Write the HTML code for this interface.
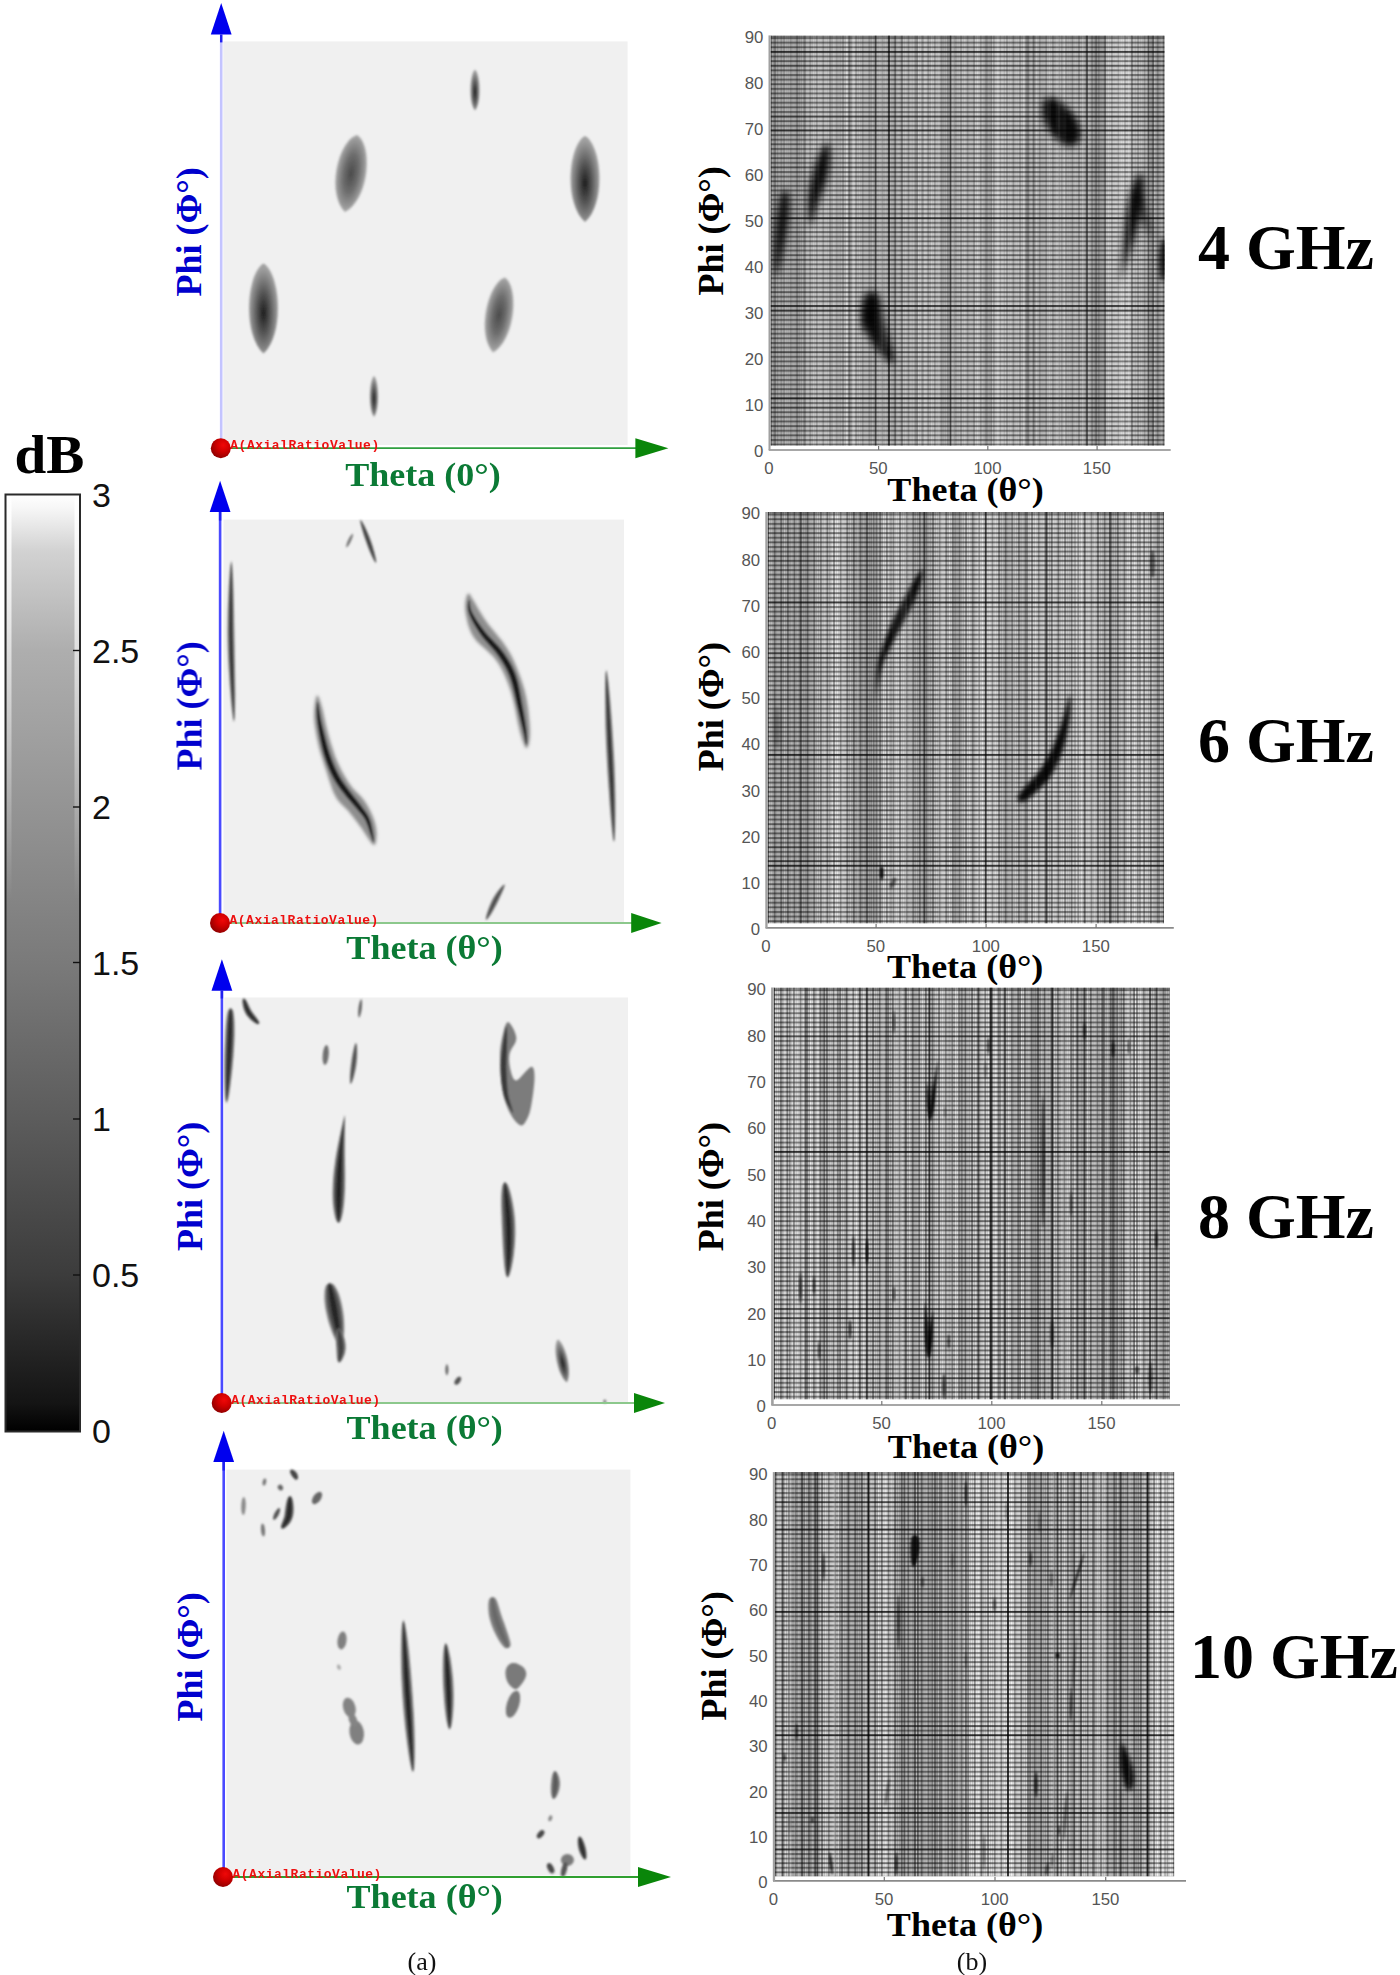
<!DOCTYPE html>
<html lang="en"><head><meta charset="utf-8"><title>Axial ratio maps</title>
<style>html,body{margin:0;padding:0;background:#fff}svg{display:block}.sb{font-family:"Liberation Serif",serif;font-weight:bold}.sr{font-family:"Liberation Serif",serif}.sa{font-family:"Liberation Sans",sans-serif}.mo{font-family:"Liberation Mono",monospace;font-weight:bold}</style></head><body>
<svg width="1400" height="1975" viewBox="0 0 1400 1975">
<defs>
<linearGradient id="cb" x1="0" y1="0" x2="0" y2="1"><stop offset="0" stop-color="#fff"/><stop offset="0.015" stop-color="#f6f6f6"/><stop offset="0.06" stop-color="#d2d2d2"/><stop offset="0.166" stop-color="#aeaeae"/><stop offset="0.333" stop-color="#949494"/><stop offset="0.5" stop-color="#7a7a7a"/><stop offset="0.666" stop-color="#5c5c5c"/><stop offset="0.833" stop-color="#3c3c3c"/><stop offset="0.97" stop-color="#141414"/><stop offset="1" stop-color="#000"/></linearGradient>
<radialGradient id="lensD" cx="0.5" cy="0.55" r="0.5"><stop offset="0" stop-color="#1c1c1c"/><stop offset="0.45" stop-color="#555"/><stop offset="1" stop-color="#a0a0a0"/></radialGradient>
<radialGradient id="lensL" cx="0.5" cy="0.5" r="0.5"><stop offset="0" stop-color="#4a4a4a"/><stop offset="0.5" stop-color="#6e6e6e"/><stop offset="1" stop-color="#a8a8a8"/></radialGradient>
<radialGradient id="dot" cx="0.62" cy="0.35" r="0.7"><stop offset="0" stop-color="#f00808"/><stop offset="0.45" stop-color="#d00000"/><stop offset="1" stop-color="#8c0000"/></radialGradient>
<filter id="b05" x="-20%" y="-20%" width="140%" height="140%"><feGaussianBlur stdDeviation="0.85"/></filter>
<filter id="b1" x="-30%" y="-30%" width="160%" height="160%"><feGaussianBlur stdDeviation="1.1"/></filter>
<filter id="b2" x="-50%" y="-50%" width="200%" height="200%"><feGaussianBlur stdDeviation="2.2"/></filter>
<filter id="b3" x="-50%" y="-50%" width="200%" height="200%"><feGaussianBlur stdDeviation="3.5"/></filter>
</defs>
<rect width="1400" height="1975" fill="#fff"/>
<text class="sb" transform="translate(14.5 472.5) scale(1.03 1)" font-size="55.5" fill="#000">dB</text>
<rect x="5.5" y="494.5" width="74.5" height="937" fill="url(#cb)"/>
<linearGradient id="cbm" gradientUnits="userSpaceOnUse" x1="0" y1="494" x2="0" y2="900"><stop offset="0" stop-color="#fff" stop-opacity="0.95"/><stop offset="0.5" stop-color="#fff" stop-opacity="0.5"/><stop offset="1" stop-color="#fff" stop-opacity="0"/></linearGradient>
<rect x="6.5" y="495" width="5" height="420" fill="url(#cbm)"/><rect x="74.5" y="495" width="4.5" height="420" fill="url(#cbm)"/>
<rect x="5.5" y="494.5" width="74.5" height="937" fill="none" stroke="#2a2a2a" stroke-width="2"/>
<text class="sa" x="92" y="507.2" font-size="34" fill="#111">3</text>
<line x1="73" y1="650.5" x2="80" y2="650.5" stroke="#111" stroke-width="1.4"/>
<text class="sa" x="92" y="662.7" font-size="34" fill="#111">2.5</text>
<line x1="73" y1="807" x2="80" y2="807" stroke="#111" stroke-width="1.4"/>
<text class="sa" x="92" y="819.2" font-size="34" fill="#111">2</text>
<line x1="73" y1="962.5" x2="80" y2="962.5" stroke="#111" stroke-width="1.4"/>
<text class="sa" x="92" y="974.7" font-size="34" fill="#111">1.5</text>
<line x1="73" y1="1119" x2="80" y2="1119" stroke="#111" stroke-width="1.4"/>
<text class="sa" x="92" y="1131.2" font-size="34" fill="#111">1</text>
<line x1="73" y1="1275" x2="80" y2="1275" stroke="#111" stroke-width="1.4"/>
<text class="sa" x="92" y="1287.2" font-size="34" fill="#111">0.5</text>
<text class="sa" x="92" y="1443.2" font-size="34" fill="#111">0</text>
<rect x="223.3" y="41.4" width="404.3" height="403.6" fill="#f0f0f0"/>
<g filter="url(#b05)"><path transform="translate(475 90) rotate(0)" d="M0 -20.5 C5.2 -16.4 6.9 11.3 0 20.5 C-6.9 11.3 -5.2 -16.4 0 -20.5Z" fill="url(#lensD)"/><path transform="translate(351 173.5) rotate(9)" d="M0 -39 C17.1 -31.2 22.5 21.5 0 39 C-22.5 21.5 -17.1 -31.2 0 -39Z" fill="url(#lensL)"/><path transform="translate(585 179) rotate(0)" d="M0 -43 C16.5 -34.4 21.8 23.7 0 43 C-21.8 23.7 -16.5 -34.4 0 -43Z" fill="url(#lensD)"/><path transform="translate(263.5 308.5) rotate(0)" d="M0 -45 C16.5 -36 21.8 24.8 0 45 C-21.8 24.8 -16.5 -36 0 -45Z" fill="url(#lensD)"/><path transform="translate(499 315) rotate(9)" d="M0 -38 C15.4 -30.4 20.3 20.9 0 38 C-20.3 20.9 -15.4 -30.4 0 -38Z" fill="url(#lensL)"/><path transform="translate(374 396.5) rotate(0)" d="M0 -20.5 C4.7 -16.4 6.2 11.3 0 20.5 C-6.2 11.3 -4.7 -16.4 0 -20.5Z" fill="url(#lensD)"/></g>
<line x1="221.2" y1="34.6" x2="221.2" y2="448.2" stroke="#c4c4ff" stroke-width="2.6"/>
<line x1="221.2" y1="34.6" x2="221.2" y2="42.4" stroke="#2020f0" stroke-width="2.4"/>
<path d="M221.2 2.9 L210.8 34.6 L231.6 34.6Z" fill="#0000ee"/>
<line x1="220.8" y1="448.2" x2="637.4" y2="448.2" stroke="#2f9f3f" stroke-width="1.8"/>
<path d="M668.4 448.2 L635.4 438.2 L635.4 458.2Z" fill="#0a860a"/>
<text class="mo" x="230.3" y="448.7" font-size="13" letter-spacing="0.5" fill="#ee1010">A(AxialRatioValue)</text>
<circle cx="220.8" cy="448.2" r="10" fill="url(#dot)"/>
<text class="sb" transform="translate(200.5 232) rotate(-90)" text-anchor="middle" font-size="36" fill="#0000cd">Phi (Φ°)</text>
<text class="sb" transform="translate(423 485.7) scale(1.045 1)" text-anchor="middle" font-size="34.5" fill="#0b7a35">Theta (0°)</text>
<rect x="223.5" y="519.6" width="400.5" height="403.4" fill="#f0f0f0"/>
<g filter="url(#b05)"><path d="M231.3 561 L230.3 565.7 L229.7 571.7 L229.2 578.8 L228.7 586.7 L228.3 595.4 L227.9 604.4 L227.6 613.6 L227.5 622.8 L227.4 631.7 L227.5 640.1 L227.7 648.5 L228 657.6 L228.5 667.1 L229.1 676.6 L229.7 686 L230.5 695.1 L231.2 703.4 L232 710.9 L232.8 717.1 L234 722 L234 722 L234.8 717.1 L235 710.7 L235.2 703.2 L235.3 694.9 L235.2 685.8 L235.1 676.4 L235 666.8 L234.8 657.4 L234.7 648.4 L234.5 639.9 L234.4 631.6 L234.2 622.7 L234.1 613.6 L233.9 604.4 L233.7 595.4 L233.4 586.8 L233.1 578.8 L232.7 571.7 L232.2 565.7 L231.3 561Z" fill="#8a8a8a"/><path d="M231.3 561 L230.8 565.7 L230.4 571.7 L229.9 578.8 L229.6 586.8 L229.2 595.4 L228.9 604.4 L228.7 613.6 L228.6 622.7 L228.5 631.6 L228.6 640 L228.8 648.5 L229.1 657.6 L229.6 667 L230.1 676.6 L230.7 686 L231.3 695 L232 703.4 L232.7 710.8 L233.3 717.1 L234 722 L234 722 L234.3 717.1 L234.4 710.8 L234.4 703.3 L234.4 694.9 L234.3 685.9 L234.1 676.4 L233.9 666.9 L233.7 657.4 L233.5 648.4 L233.4 640 L233.2 631.6 L233.1 622.7 L233 613.6 L232.9 604.4 L232.7 595.4 L232.5 586.8 L232.3 578.8 L232.1 571.7 L231.8 565.7 L231.3 561Z" fill="#2a2a2a" opacity="0.55"/><path d="M231.3 561 L231.1 565.7 L230.9 571.7 L230.7 578.8 L230.4 586.8 L230.2 595.4 L230 604.4 L229.9 613.6 L229.8 622.7 L229.8 631.6 L229.9 640 L230.1 648.5 L230.4 657.6 L230.7 667 L231.2 676.6 L231.7 686 L232.2 695 L232.7 703.4 L233.2 710.8 L233.6 717.1 L234 722 L234 722 L234 717.1 L233.9 710.8 L233.7 703.3 L233.5 694.9 L233.3 685.9 L233 676.5 L232.8 666.9 L232.5 657.5 L232.3 648.4 L232.1 640 L232 631.6 L231.9 622.7 L231.8 613.6 L231.8 604.4 L231.7 595.4 L231.7 586.8 L231.6 578.8 L231.5 571.7 L231.4 565.7 L231.3 561Z" fill="#2a2a2a" opacity="0.9"/><path d="M346.3 547.5 L347.7 546.4 L348.6 545.2 L349.5 543.9 L350.2 542.6 L350.9 541.2 L351.5 539.8 L352.1 538.3 L352.5 536.9 L352.9 535.3 L352.8 533.6 L352.8 533.6 L351.4 534.7 L350.5 535.9 L349.6 537.2 L348.9 538.5 L348.2 539.9 L347.6 541.3 L347 542.8 L346.6 544.2 L346.2 545.8 L346.3 547.5Z" fill="#777"/><path d="M360.5 520 L360.3 521.4 L360.6 523 L360.9 524.9 L361.4 527 L362 529.2 L362.7 531.6 L363.4 533.9 L364.1 536.3 L364.9 538.6 L365.7 540.8 L366.5 543.1 L367.4 545.6 L368.4 548.2 L369.4 550.8 L370.6 553.4 L371.7 555.9 L372.8 558.2 L373.9 560.2 L374.9 561.8 L376 563 L376 563 L376.2 561.4 L376 559.5 L375.6 557.2 L375 554.7 L374.4 552.1 L373.6 549.4 L372.9 546.6 L372 544 L371.2 541.4 L370.3 539.2 L369.5 536.9 L368.6 534.7 L367.6 532.4 L366.5 530.1 L365.5 527.9 L364.5 525.8 L363.4 524 L362.5 522.3 L361.6 520.9 L360.5 520Z" fill="#777"/><path d="M360.5 520 L360.6 521.3 L361 522.9 L361.4 524.7 L362 526.8 L362.6 529 L363.3 531.3 L364.1 533.7 L364.9 536 L365.6 538.4 L366.4 540.6 L367.2 542.9 L368.1 545.3 L369.1 547.9 L370.2 550.6 L371.2 553.2 L372.3 555.7 L373.3 558 L374.3 560 L375.2 561.7 L376 563 L376 563 L375.9 561.5 L375.5 559.6 L375 557.4 L374.4 554.9 L373.7 552.3 L372.9 549.6 L372.1 546.9 L371.3 544.2 L370.4 541.7 L369.6 539.4 L368.8 537.2 L367.8 534.9 L366.9 532.6 L365.9 530.3 L364.9 528.1 L363.9 526.1 L362.9 524.1 L362.1 522.5 L361.3 521.1 L360.5 520Z" fill="#333" opacity="0.55"/><path d="M360.5 520 L360.8 521.2 L361.3 522.7 L361.9 524.5 L362.5 526.6 L363.3 528.7 L364 531 L364.8 533.4 L365.7 535.7 L366.5 538.1 L367.3 540.3 L368.1 542.5 L369 545 L369.9 547.6 L370.9 550.3 L371.9 552.9 L372.9 555.5 L373.8 557.8 L374.7 559.9 L375.4 561.7 L376 563 L376 563 L375.6 561.6 L375.1 559.7 L374.5 557.6 L373.8 555.2 L373 552.6 L372.2 549.9 L371.3 547.2 L370.4 544.5 L369.6 542 L368.7 539.7 L367.9 537.5 L367 535.2 L366.1 532.9 L365.2 530.6 L364.2 528.4 L363.3 526.3 L362.5 524.3 L361.7 522.6 L361 521.1 L360.5 520Z" fill="#333" opacity="0.9"/><g filter="url(#b1)"><path d="M467.8 593.8 L468.5 593.4 L469.2 593.8 L470 594.8 L470.9 596.3 L472 598.2 L473.4 600.4 L475 602.9 L476.7 606 L478.6 609.4 L480.8 613.1 L483.1 616.8 L485.6 620.6 L488.5 624.5 L491.8 628.5 L495.3 632.8 L498.7 637 L502 641.1 L504.8 645 L507.1 648.6 L509.2 651.9 L511 655.1 L512.7 658.4 L514.3 662 L516 666 L517.8 670.5 L519.6 675.3 L521.5 680.4 L523.2 685.7 L524.7 691.1 L526 696.6 L527.1 702.4 L528.1 708.8 L528.8 715.2 L529.4 721.4 L529.8 727.2 L530 732 L529.9 736.2 L529.5 740 L529 743.3 L528.2 745.9 L527.4 747.6 L526.6 748.2 L525.7 747.7 L524.7 746.1 L523.7 743.6 L522.5 740.4 L521.3 736.5 L520 732 L518.7 726.5 L517.3 719.9 L515.9 712.6 L514.4 705.2 L512.7 698 L510.9 691.5 L508.9 685.8 L506.9 680.4 L504.7 675.2 L502.3 670.3 L499.7 665.6 L496.7 661 L493.2 656.6 L489 652.5 L484.7 648.6 L480.4 644.8 L476.5 640.9 L473.4 636.8 L471 632.4 L469.2 627.8 L467.7 623.2 L466.7 618.6 L465.9 614.4 L465.3 610.5 L465.1 606.9 L465.2 603.4 L465.7 600.1 L466.3 597.3 L467.1 595.1Z" fill="#8e8e8e"/></g><path d="M469 600 L468.5 600.7 L468.3 601.6 L468.1 602.6 L467.9 603.7 L467.7 605 L467.6 606.4 L467.7 608 L467.8 609.6 L468.2 611.4 L468.7 613.2 L469.4 615 L470.2 617 L471.1 619 L472.2 621.2 L473.3 623.4 L474.5 625.6 L475.9 627.8 L477.3 630.1 L478.7 632.3 L480.2 634.5 L481.8 636.7 L483.6 639 L485.4 641.1 L487.4 643.3 L489.3 645.5 L491.2 647.6 L493.1 649.7 L494.9 651.8 L496.5 653.9 L498 656 L499.4 658.1 L500.8 660.2 L502.1 662.2 L503.3 664.2 L504.5 666.3 L505.6 668.4 L506.7 670.5 L507.7 672.7 L508.7 675 L509.6 677.5 L510.5 680.1 L511.4 682.9 L512.2 685.8 L512.9 688.9 L513.7 692 L514.4 695.2 L515.1 698.3 L515.7 701.4 L516.4 704.4 L517.1 707.3 L517.8 710.1 L518.5 712.9 L519.1 715.6 L519.8 718.3 L520.4 720.9 L521 723.5 L521.6 725.9 L522.2 728.2 L522.7 730.3 L523.1 732.3 L523.6 734.1 L523.9 735.8 L524.3 737.4 L524.6 738.9 L524.8 740.2 L525.1 741.4 L525.4 742.5 L525.6 743.5 L525.9 744.3 L526.5 745 L526.5 745 L526.9 744.2 L527.1 743.4 L527.2 742.4 L527.2 741.2 L527.3 740 L527.3 738.6 L527.2 737 L527.2 735.4 L527 733.6 L526.9 731.7 L526.6 729.6 L526.4 727.4 L526 725.1 L525.7 722.6 L525.3 720 L524.9 717.3 L524.4 714.5 L523.9 711.7 L523.4 708.9 L522.9 706.1 L522.4 703.2 L521.8 700.2 L521.3 697.1 L520.7 693.9 L520.1 690.6 L519.5 687.4 L518.8 684.2 L518 681 L517.1 678 L516.2 675.1 L515.2 672.4 L514.1 669.9 L513 667.5 L511.8 665.1 L510.6 662.9 L509.3 660.7 L508 658.5 L506.6 656.4 L505.1 654.2 L503.6 652 L501.9 649.7 L500 647.5 L498.1 645.3 L496 643.2 L494 641.1 L492 639 L490 637 L488.2 635 L486.4 633 L484.8 631.1 L483.3 629.1 L481.8 627 L480.3 625 L478.9 622.9 L477.5 620.9 L476.2 618.9 L475 616.9 L473.9 615.1 L472.9 613.4 L472.1 611.8 L471.5 610.4 L471 609 L470.6 607.6 L470.4 606.2 L470.2 605 L470 603.7 L469.9 602.6 L469.8 601.6 L469.5 600.7 L469 600Z" fill="#555"/><path d="M469 600 L468.8 600.7 L468.6 601.6 L468.4 602.6 L468.3 603.7 L468.2 605 L468.1 606.4 L468.2 607.9 L468.3 609.5 L468.7 611.2 L469.2 613 L469.9 614.8 L470.7 616.7 L471.6 618.7 L472.7 620.9 L473.9 623 L475.1 625.2 L476.4 627.5 L477.8 629.7 L479.2 631.9 L480.7 634.1 L482.3 636.3 L484.1 638.5 L485.9 640.7 L487.9 642.9 L489.8 645 L491.7 647.1 L493.6 649.3 L495.4 651.4 L497.1 653.5 L498.6 655.6 L500 657.7 L501.4 659.8 L502.7 661.8 L503.9 663.9 L505.1 665.9 L506.2 668 L507.3 670.2 L508.3 672.4 L509.3 674.8 L510.3 677.2 L511.2 679.9 L512 682.7 L512.8 685.6 L513.6 688.7 L514.3 691.9 L515 695 L515.7 698.2 L516.4 701.3 L517.1 704.3 L517.8 707.2 L518.4 710 L519.1 712.7 L519.8 715.5 L520.4 718.2 L521 720.8 L521.6 723.3 L522.2 725.8 L522.8 728.1 L523.2 730.2 L523.7 732.2 L524.1 734 L524.5 735.7 L524.8 737.3 L525 738.8 L525.3 740.2 L525.5 741.4 L525.7 742.5 L525.9 743.5 L526.2 744.3 L526.5 745 L526.5 745 L526.7 744.3 L526.8 743.4 L526.8 742.4 L526.8 741.3 L526.8 740 L526.8 738.6 L526.7 737.1 L526.6 735.4 L526.5 733.7 L526.3 731.8 L526.1 729.7 L525.8 727.5 L525.4 725.2 L525.1 722.7 L524.7 720.1 L524.2 717.4 L523.8 714.6 L523.3 711.8 L522.8 709 L522.2 706.2 L521.7 703.4 L521.2 700.3 L520.6 697.2 L520.1 694 L519.4 690.8 L518.8 687.5 L518.1 684.3 L517.3 681.2 L516.4 678.2 L515.5 675.4 L514.5 672.7 L513.5 670.2 L512.4 667.8 L511.2 665.5 L510 663.2 L508.7 661 L507.4 658.9 L506 656.7 L504.6 654.6 L503 652.4 L501.3 650.2 L499.5 648 L497.5 645.8 L495.5 643.6 L493.5 641.5 L491.5 639.5 L489.5 637.4 L487.6 635.4 L485.9 633.4 L484.3 631.5 L482.7 629.5 L481.2 627.4 L479.7 625.3 L478.3 623.2 L476.9 621.2 L475.6 619.2 L474.5 617.2 L473.4 615.4 L472.4 613.6 L471.6 612 L471 610.5 L470.5 609.1 L470.1 607.6 L469.9 606.3 L469.7 605 L469.6 603.7 L469.5 602.6 L469.4 601.6 L469.3 600.7 L469 600Z" fill="#111" opacity="0.55"/><path d="M469 600 L469 600.7 L468.9 601.6 L468.8 602.6 L468.7 603.7 L468.6 605 L468.6 606.4 L468.7 607.8 L469 609.4 L469.3 611 L469.9 612.7 L470.6 614.5 L471.4 616.4 L472.4 618.3 L473.5 620.4 L474.6 622.6 L475.9 624.7 L477.2 626.9 L478.6 629.1 L480.1 631.3 L481.6 633.5 L483.2 635.6 L484.9 637.8 L486.8 639.9 L488.7 642.1 L490.7 644.2 L492.6 646.3 L494.5 648.5 L496.3 650.6 L498 652.7 L499.6 654.9 L501 657 L502.4 659.1 L503.7 661.2 L505 663.2 L506.2 665.3 L507.4 667.5 L508.4 669.6 L509.5 671.9 L510.5 674.3 L511.5 676.8 L512.4 679.5 L513.2 682.3 L514 685.3 L514.8 688.4 L515.5 691.6 L516.2 694.8 L516.9 698 L517.5 701.1 L518.2 704.1 L518.8 706.9 L519.5 709.7 L520.1 712.5 L520.8 715.3 L521.4 718 L522 720.6 L522.5 723.2 L523.1 725.6 L523.6 727.9 L524 730.1 L524.4 732.1 L524.8 733.9 L525.1 735.7 L525.3 737.3 L525.6 738.7 L525.8 740.1 L525.9 741.3 L526.1 742.5 L526.2 743.4 L526.3 744.3 L526.5 745 L526.5 745 L526.5 744.3 L526.5 743.4 L526.5 742.4 L526.4 741.3 L526.4 740.1 L526.3 738.7 L526.2 737.2 L526 735.5 L525.8 733.8 L525.6 731.9 L525.3 729.9 L525 727.7 L524.6 725.3 L524.2 722.9 L523.7 720.3 L523.3 717.6 L522.8 714.8 L522.3 712.1 L521.7 709.3 L521.2 706.5 L520.6 703.6 L520.1 700.6 L519.5 697.4 L518.9 694.2 L518.3 691 L517.6 687.8 L516.9 684.6 L516.1 681.5 L515.3 678.6 L514.3 675.8 L513.3 673.2 L512.3 670.7 L511.2 668.3 L510.1 666 L508.9 663.8 L507.6 661.7 L506.3 659.5 L505 657.4 L503.5 655.3 L502 653.1 L500.4 650.9 L498.5 648.7 L496.6 646.6 L494.7 644.5 L492.6 642.3 L490.6 640.3 L488.7 638.2 L486.8 636.2 L485 634.1 L483.4 632.1 L481.9 630.1 L480.4 628 L478.9 625.9 L477.5 623.7 L476.1 621.7 L474.9 619.6 L473.7 617.6 L472.7 615.7 L471.7 613.9 L470.9 612.3 L470.3 610.7 L469.9 609.2 L469.6 607.7 L469.4 606.3 L469.2 605 L469.2 603.7 L469.2 602.6 L469.2 601.6 L469.1 600.7 L469 600Z" fill="#111" opacity="0.9"/><g filter="url(#b1)"><path d="M316.9 695.5 L317.6 695.4 L318.4 696.4 L319.2 698.4 L320 701 L321 704.1 L321.9 707.3 L322.9 711 L323.8 715.3 L324.8 720 L325.9 725 L327.1 730 L328.3 734.7 L329.6 739.3 L331 744 L332.5 748.6 L334 753.2 L335.6 757.7 L337.4 762 L339.3 766.1 L341.3 770.2 L343.4 774.1 L345.6 777.8 L347.8 781.4 L350.1 784.8 L352.5 787.9 L355 790.7 L357.6 793.3 L360.2 795.8 L362.6 798.4 L364.7 801.2 L366.6 804.2 L368.4 807.2 L370 810.4 L371.4 813.5 L372.7 816.5 L373.8 819.4 L374.7 822.2 L375.4 825 L376 827.7 L376.3 830.2 L376.6 832.7 L376.6 834.9 L376.5 837.2 L376.3 839.7 L375.9 842 L375.4 843.8 L374.5 844.9 L373.4 844.9 L371.9 843.6 L370 841.1 L367.8 837.8 L365.5 834.2 L363.2 830.7 L361.1 827.6 L359.1 824.9 L357.2 822.3 L355.2 819.7 L353.3 817.2 L351.3 814.7 L349.2 812.1 L347 809.6 L344.6 807.3 L342.2 805 L339.9 802.5 L337.6 799.8 L335.6 796.6 L333.8 792.9 L332.2 788.9 L330.7 784.6 L329.2 780.1 L327.8 775.6 L326.4 771.1 L324.9 766.7 L323.4 762.1 L322 757.6 L320.6 753 L319.3 748.4 L318.2 743.8 L317.2 739.2 L316.3 734.4 L315.5 729.7 L314.8 725.1 L314.3 720.6 L314.1 716.4 L314.1 712.2 L314.4 707.7 L314.9 703.5 L315.5 699.8 L316.2 697Z" fill="#8e8e8e"/></g><path d="M317.5 702 L317 703.1 L316.7 704.4 L316.6 705.9 L316.5 707.7 L316.4 709.6 L316.4 711.7 L316.4 713.9 L316.5 716.3 L316.7 718.8 L317 721.4 L317.3 724.1 L317.8 727.2 L318.3 730.4 L318.9 733.8 L319.5 737.3 L320.2 740.9 L320.9 744.3 L321.7 747.7 L322.5 750.9 L323.2 753.8 L324.1 756.6 L324.9 759.2 L325.8 761.8 L326.7 764.2 L327.6 766.6 L328.5 768.9 L329.5 771.1 L330.5 773.2 L331.5 775.3 L332.5 777.3 L333.6 779.3 L334.6 781.2 L335.7 783 L336.9 784.7 L338 786.3 L339.1 787.9 L340.3 789.4 L341.4 790.9 L342.6 792.5 L343.8 794 L345.1 795.7 L346.4 797.3 L347.8 798.9 L349.2 800.6 L350.6 802.1 L351.9 803.7 L353.3 805.2 L354.5 806.7 L355.7 808.1 L356.8 809.4 L357.9 810.7 L358.9 811.9 L359.9 813.1 L360.8 814.1 L361.6 815.1 L362.4 816.1 L363.1 817.1 L363.8 818.2 L364.5 819.3 L365.2 820.4 L365.8 821.7 L366.4 823.2 L367 824.7 L367.6 826.3 L368.2 828 L368.7 829.6 L369.2 831.2 L369.7 832.7 L370.1 834.1 L370.6 835.3 L371 836.3 L371.3 837.3 L371.6 838.1 L371.9 838.9 L372.1 839.6 L372.3 840.2 L372.6 840.8 L372.8 841.3 L373 841.7 L373.5 842 L373.5 842 L373.8 841.5 L373.9 841.1 L373.9 840.5 L374 839.9 L374 839.2 L373.9 838.5 L373.9 837.6 L373.8 836.7 L373.6 835.6 L373.4 834.5 L373.2 833.3 L373 831.9 L372.7 830.3 L372.4 828.7 L372.1 826.9 L371.7 825.1 L371.3 823.4 L370.8 821.6 L370.2 819.9 L369.6 818.4 L369 816.9 L368.3 815.6 L367.6 814.3 L366.8 813.1 L366 811.9 L365.2 810.7 L364.3 809.5 L363.4 808.4 L362.5 807.1 L361.6 805.8 L360.5 804.3 L359.3 802.8 L358.1 801.2 L356.8 799.6 L355.5 798 L354.2 796.4 L352.9 794.8 L351.6 793.1 L350.4 791.6 L349.2 790 L348.1 788.4 L346.9 786.8 L345.8 785.3 L344.7 783.8 L343.7 782.3 L342.6 780.8 L341.6 779.2 L340.6 777.6 L339.7 775.9 L338.7 774.1 L337.7 772.2 L336.8 770.2 L335.8 768.2 L334.9 766.1 L334 764 L333.1 761.7 L332.2 759.4 L331.3 757.1 L330.4 754.6 L329.6 752 L328.7 749.2 L327.8 746.1 L326.9 742.9 L326 739.5 L325.2 736.1 L324.3 732.7 L323.5 729.4 L322.7 726.2 L322 723.3 L321.4 720.6 L320.9 718.2 L320.5 715.8 L320.1 713.6 L319.7 711.4 L319.4 709.4 L319.1 707.5 L318.8 705.8 L318.5 704.3 L318.2 703 L317.5 702Z" fill="#555"/><path d="M317.5 702 L317.2 703.1 L317.1 704.4 L317 705.9 L316.9 707.7 L316.9 709.6 L316.9 711.6 L317 713.9 L317.1 716.2 L317.3 718.7 L317.6 721.3 L318 724 L318.4 727.1 L318.9 730.3 L319.5 733.7 L320.2 737.2 L320.9 740.7 L321.6 744.2 L322.3 747.5 L323.1 750.7 L323.9 753.6 L324.7 756.4 L325.6 759 L326.4 761.5 L327.3 764 L328.2 766.3 L329.2 768.6 L330.1 770.8 L331.1 772.9 L332.1 775 L333.1 777 L334.2 779 L335.2 780.8 L336.3 782.6 L337.4 784.3 L338.6 785.9 L339.7 787.5 L340.8 789 L342 790.5 L343.2 792 L344.4 793.6 L345.6 795.2 L346.9 796.9 L348.3 798.5 L349.7 800.1 L351.1 801.7 L352.5 803.3 L353.8 804.8 L355.1 806.2 L356.3 807.7 L357.4 809 L358.4 810.3 L359.5 811.5 L360.4 812.6 L361.3 813.7 L362.1 814.7 L362.9 815.8 L363.7 816.8 L364.4 817.8 L365.1 819 L365.7 820.2 L366.4 821.5 L367 823 L367.6 824.5 L368.2 826.2 L368.7 827.8 L369.2 829.5 L369.7 831.1 L370.2 832.6 L370.6 833.9 L371.1 835.1 L371.4 836.2 L371.7 837.2 L372 838 L372.3 838.8 L372.5 839.5 L372.7 840.2 L372.9 840.7 L373 841.2 L373.2 841.7 L373.5 842 L373.5 842 L373.6 841.6 L373.6 841.1 L373.6 840.6 L373.6 840 L373.6 839.3 L373.5 838.6 L373.4 837.7 L373.3 836.8 L373.1 835.8 L372.9 834.7 L372.7 833.4 L372.5 832 L372.2 830.4 L371.9 828.8 L371.5 827.1 L371.1 825.3 L370.7 823.6 L370.2 821.8 L369.7 820.2 L369.1 818.6 L368.4 817.2 L367.7 815.9 L367 814.6 L366.3 813.4 L365.5 812.3 L364.7 811.1 L363.8 810 L362.9 808.8 L362 807.5 L361 806.2 L359.9 804.7 L358.8 803.2 L357.5 801.7 L356.3 800.1 L354.9 798.5 L353.6 796.8 L352.3 795.2 L351 793.6 L349.8 792 L348.6 790.4 L347.5 788.8 L346.4 787.3 L345.3 785.7 L344.2 784.2 L343.1 782.7 L342.1 781.2 L341 779.6 L340 778 L339.1 776.2 L338.1 774.4 L337.1 772.5 L336.1 770.5 L335.2 768.5 L334.2 766.4 L333.3 764.2 L332.4 762 L331.5 759.7 L330.6 757.3 L329.7 754.8 L328.9 752.2 L328 749.3 L327.1 746.3 L326.3 743 L325.4 739.7 L324.5 736.2 L323.7 732.8 L322.9 729.5 L322.1 726.3 L321.4 723.4 L320.8 720.7 L320.3 718.3 L319.9 715.9 L319.5 713.6 L319.2 711.5 L318.9 709.4 L318.6 707.6 L318.4 705.9 L318.2 704.4 L317.9 703.1 L317.5 702Z" fill="#111" opacity="0.55"/><path d="M317.5 702 L317.5 703.1 L317.5 704.4 L317.5 705.9 L317.5 707.6 L317.5 709.5 L317.6 711.6 L317.7 713.8 L317.8 716.1 L318.1 718.6 L318.4 721.1 L318.8 723.9 L319.3 726.9 L319.9 730.1 L320.5 733.5 L321.2 737 L321.9 740.4 L322.7 743.9 L323.5 747.2 L324.3 750.4 L325.1 753.3 L325.9 756 L326.7 758.6 L327.6 761.1 L328.5 763.5 L329.4 765.8 L330.3 768.1 L331.3 770.3 L332.2 772.4 L333.2 774.4 L334.2 776.4 L335.3 778.3 L336.3 780.2 L337.4 781.9 L338.5 783.6 L339.6 785.2 L340.7 786.7 L341.8 788.3 L343 789.8 L344.1 791.3 L345.3 792.9 L346.6 794.5 L347.9 796.1 L349.2 797.7 L350.6 799.4 L352 800.9 L353.3 802.5 L354.7 804 L355.9 805.5 L357.1 807 L358.3 808.3 L359.3 809.6 L360.3 810.8 L361.2 812 L362.1 813.1 L363 814.1 L363.8 815.2 L364.5 816.2 L365.2 817.4 L365.9 818.5 L366.6 819.8 L367.2 821.2 L367.8 822.7 L368.4 824.3 L369 825.9 L369.5 827.6 L370 829.3 L370.4 830.9 L370.8 832.4 L371.2 833.8 L371.6 835 L371.9 836.1 L372.2 837 L372.5 837.9 L372.7 838.7 L372.8 839.5 L373 840.1 L373.1 840.7 L373.3 841.2 L373.4 841.6 L373.5 842 L373.5 842 L373.5 841.6 L373.4 841.2 L373.4 840.6 L373.3 840 L373.2 839.4 L373.1 838.6 L373 837.8 L372.8 836.9 L372.6 835.9 L372.4 834.8 L372.1 833.6 L371.8 832.2 L371.5 830.6 L371.1 829 L370.8 827.3 L370.3 825.5 L369.9 823.8 L369.4 822.1 L368.8 820.5 L368.2 819 L367.6 817.7 L366.9 816.4 L366.2 815.2 L365.4 814 L364.7 812.9 L363.8 811.8 L363 810.6 L362.1 809.4 L361.1 808.2 L360.1 806.9 L359.1 805.4 L357.9 803.9 L356.7 802.4 L355.4 800.8 L354 799.2 L352.7 797.6 L351.4 796 L350.1 794.3 L348.9 792.7 L347.7 791.1 L346.5 789.5 L345.4 788 L344.3 786.5 L343.2 785 L342.1 783.4 L341 781.9 L340 780.3 L339 778.6 L338 776.9 L337 775 L336 773 L335 771 L334 769 L333.1 766.9 L332.2 764.7 L331.2 762.4 L330.3 760.1 L329.5 757.7 L328.6 755.1 L327.7 752.5 L326.9 749.7 L326 746.6 L325.2 743.3 L324.3 739.9 L323.5 736.5 L322.6 733 L321.9 729.7 L321.2 726.5 L320.5 723.6 L320 720.9 L319.5 718.4 L319.1 716 L318.8 713.7 L318.5 711.5 L318.3 709.5 L318.1 707.6 L318 705.9 L317.8 704.4 L317.7 703.1 L317.5 702Z" fill="#111" opacity="0.9"/><path d="M606.2 670 L605.5 673.6 L605.3 678.2 L605.1 683.7 L605 689.8 L605 696.4 L605 703.2 L605.1 710.3 L605.2 717.2 L605.3 723.9 L605.5 730.2 L605.7 736.2 L605.9 742.3 L606.2 748.4 L606.5 754.6 L606.8 760.7 L607.2 766.8 L607.5 772.8 L607.9 778.7 L608.3 784.5 L608.7 790.1 L609.1 795.9 L609.5 801.9 L609.9 807.9 L610.4 814 L610.9 819.8 L611.5 825.4 L612 830.5 L612.5 835.1 L613.1 839 L614 842 L614 842 L614.7 838.9 L614.9 835 L615.2 830.4 L615.3 825.3 L615.4 819.7 L615.5 813.8 L615.5 807.7 L615.5 801.6 L615.4 795.6 L615.3 789.9 L615.2 784.2 L615 778.3 L614.8 772.4 L614.6 766.4 L614.3 760.3 L614 754.2 L613.6 748.1 L613.3 741.9 L612.9 735.9 L612.5 729.8 L612.1 723.6 L611.6 716.9 L611.1 710 L610.5 703 L609.9 696.1 L609.2 689.6 L608.6 683.5 L607.9 678.1 L607.2 673.5 L606.2 670Z" fill="#8a8a8a"/><path d="M606.2 670 L605.9 673.6 L605.8 678.2 L605.8 683.6 L605.8 689.7 L605.9 696.3 L606 703.2 L606.1 710.2 L606.3 717.1 L606.4 723.8 L606.6 730.1 L606.9 736.2 L607.1 742.3 L607.4 748.4 L607.7 754.5 L608 760.6 L608.3 766.7 L608.7 772.7 L609.1 778.6 L609.4 784.4 L609.8 790.1 L610.1 795.8 L610.5 801.8 L610.9 807.9 L611.4 813.9 L611.8 819.8 L612.2 825.4 L612.7 830.5 L613.1 835.1 L613.5 839 L614 842 L614 842 L614.3 838.9 L614.4 835 L614.5 830.4 L614.6 825.3 L614.6 819.7 L614.6 813.8 L614.5 807.8 L614.5 801.7 L614.4 795.7 L614.2 789.9 L614.1 784.2 L613.9 778.4 L613.6 772.5 L613.4 766.4 L613.1 760.4 L612.8 754.3 L612.4 748.1 L612.1 742 L611.7 735.9 L611.4 729.9 L611 723.6 L610.5 716.9 L610 710 L609.5 703 L609 696.2 L608.4 689.6 L607.9 683.5 L607.3 678.1 L606.8 673.6 L606.2 670Z" fill="#2a2a2a" opacity="0.55"/><path d="M606.2 670 L606.2 673.6 L606.3 678.2 L606.4 683.6 L606.6 689.7 L606.8 696.3 L607 703.2 L607.2 710.2 L607.4 717.1 L607.7 723.8 L607.9 730.1 L608.2 736.1 L608.4 742.2 L608.7 748.3 L609 754.4 L609.4 760.6 L609.7 766.6 L610 772.6 L610.3 778.6 L610.7 784.4 L611 790 L611.3 795.8 L611.6 801.8 L612 807.9 L612.3 813.9 L612.6 819.8 L612.9 825.3 L613.2 830.5 L613.5 835.1 L613.8 838.9 L614 842 L614 842 L614 838.9 L614 835 L613.9 830.5 L613.8 825.3 L613.8 819.7 L613.6 813.8 L613.5 807.8 L613.4 801.7 L613.2 795.7 L613 790 L612.8 784.3 L612.6 778.5 L612.3 772.5 L612 766.5 L611.7 760.4 L611.4 754.3 L611.1 748.2 L610.8 742.1 L610.4 736 L610.1 729.9 L609.7 723.7 L609.3 717 L608.9 710.1 L608.5 703.1 L608.1 696.2 L607.6 689.7 L607.2 683.6 L606.8 678.1 L606.5 673.6 L606.2 670Z" fill="#2a2a2a" opacity="0.9"/><path d="M486 920 L487.4 919.1 L488.7 917.6 L490 915.8 L491.4 913.7 L492.8 911.5 L494.1 909.1 L495.4 906.7 L496.6 904.4 L497.7 902.3 L498.6 900.4 L499.5 898.6 L500.3 896.8 L501.1 895 L501.9 893.2 L502.7 891.5 L503.3 889.9 L503.9 888.4 L504.3 887 L504.6 885.7 L504.5 884.5 L504.5 884.5 L503.4 885 L502.4 885.8 L501.4 886.8 L500.2 888 L499.1 889.4 L497.9 890.8 L496.7 892.4 L495.6 894.1 L494.4 895.9 L493.4 897.6 L492.3 899.6 L491.2 901.8 L490.2 904.2 L489.1 906.8 L488.2 909.3 L487.3 911.9 L486.6 914.3 L486.1 916.4 L485.8 918.3 L486 920Z" fill="#888"/><path d="M486 920 L487 918.9 L488.1 917.4 L489.4 915.5 L490.7 913.4 L492 911.1 L493.3 908.7 L494.6 906.3 L495.8 904 L496.8 901.8 L497.8 899.9 L498.6 898.1 L499.5 896.3 L500.4 894.6 L501.2 892.8 L502 891.1 L502.7 889.5 L503.4 888 L503.9 886.7 L504.3 885.5 L504.5 884.5 L504.5 884.5 L503.7 885.1 L502.8 886 L501.9 887.1 L500.8 888.4 L499.7 889.7 L498.6 891.3 L497.5 892.9 L496.3 894.6 L495.3 896.3 L494.2 898.1 L493.2 900 L492.1 902.2 L491 904.6 L490 907.1 L489 909.7 L488 912.2 L487.3 914.6 L486.6 916.7 L486.2 918.5 L486 920Z" fill="#444" opacity="0.55"/><path d="M486 920 L486.8 918.8 L487.7 917.2 L488.7 915.2 L489.9 913.1 L491.2 910.7 L492.4 908.3 L493.6 905.9 L494.8 903.5 L495.9 901.4 L496.8 899.4 L497.7 897.6 L498.7 895.9 L499.6 894.1 L500.5 892.4 L501.4 890.7 L502.2 889.2 L502.9 887.8 L503.6 886.5 L504.1 885.4 L504.5 884.5 L504.5 884.5 L503.9 885.3 L503.2 886.2 L502.3 887.4 L501.4 888.7 L500.4 890.1 L499.3 891.7 L498.3 893.3 L497.2 895 L496.2 896.8 L495.2 898.6 L494.2 900.5 L493.1 902.7 L492 905.1 L490.9 907.6 L489.8 910.1 L488.8 912.5 L487.9 914.8 L487.1 916.9 L486.5 918.7 L486 920Z" fill="#444" opacity="0.9"/></g>
<line x1="220.1" y1="512" x2="220.1" y2="923" stroke="#4a4aff" stroke-width="2.6"/>
<line x1="220.1" y1="512" x2="220.1" y2="520.6" stroke="#2020f0" stroke-width="2.4"/>
<path d="M220.1 480.7 L209.7 512 L230.5 512Z" fill="#0000ee"/>
<line x1="220" y1="923" x2="633.2" y2="923" stroke="#8cc88c" stroke-width="1.8"/>
<path d="M661.6 923 L631.2 913 L631.2 933Z" fill="#0a860a"/>
<text class="mo" x="229.5" y="923.5" font-size="13" letter-spacing="0.5" fill="#ee1010">A(AxialRatioValue)</text>
<circle cx="220" cy="923" r="10" fill="url(#dot)"/>
<text class="sb" transform="translate(201.5 706) rotate(-90)" text-anchor="middle" font-size="36" fill="#0000cd">Phi (Φ°)</text>
<text class="sb" transform="translate(424.5 959) scale(1.045 1)" text-anchor="middle" font-size="34.5" fill="#0b7a35">Theta (θ°)</text>
<rect x="224.3" y="997.5" width="403.7" height="406.5" fill="#f0f0f0"/>
<g filter="url(#b05)"><path d="M230.7 1008 L228.3 1010 L227.5 1012.6 L226.9 1015.6 L226.4 1019 L226 1022.8 L225.7 1026.8 L225.4 1031 L225.2 1035.5 L225 1040.1 L224.8 1044.8 L224.6 1050 L224.4 1056 L224.3 1062.5 L224.3 1069.3 L224.3 1076.1 L224.4 1082.8 L224.6 1089.1 L224.9 1094.7 L225.4 1099.4 L226.5 1103 L226.5 1103 L228 1099.5 L229 1094.9 L229.9 1089.3 L230.7 1083.1 L231.5 1076.5 L232.3 1069.7 L232.9 1062.9 L233.5 1056.4 L233.9 1050.4 L234.2 1045.2 L234.4 1040.5 L234.6 1035.8 L234.6 1031.3 L234.6 1027.1 L234.5 1023 L234.3 1019.2 L234 1015.8 L233.6 1012.8 L233 1010.2 L230.7 1008Z" fill="#888"/><path d="M230.7 1008 L229.1 1010.1 L228.4 1012.6 L227.9 1015.6 L227.5 1019 L227.1 1022.8 L226.8 1026.8 L226.5 1031.1 L226.3 1035.5 L226.1 1040.1 L225.9 1044.8 L225.7 1050 L225.5 1056 L225.4 1062.5 L225.3 1069.3 L225.3 1076.2 L225.4 1082.8 L225.5 1089.1 L225.6 1094.7 L225.9 1099.4 L226.5 1103 L226.5 1103 L227.5 1099.5 L228.2 1094.8 L229 1089.3 L229.8 1083.1 L230.5 1076.5 L231.2 1069.6 L231.9 1062.8 L232.4 1056.4 L232.8 1050.4 L233.1 1045.2 L233.3 1040.4 L233.5 1035.8 L233.5 1031.3 L233.5 1027 L233.5 1023 L233.3 1019.2 L233.1 1015.8 L232.7 1012.8 L232.2 1010.2 L230.7 1008Z" fill="#222" opacity="0.55"/><path d="M230.7 1008 L230 1010.1 L229.7 1012.7 L229.4 1015.7 L229.1 1019.1 L228.8 1022.8 L228.6 1026.9 L228.4 1031.1 L228.2 1035.6 L228 1040.2 L227.8 1044.9 L227.6 1050.1 L227.4 1056.1 L227.2 1062.6 L227 1069.4 L226.8 1076.3 L226.6 1082.9 L226.5 1089.2 L226.5 1094.8 L226.4 1099.4 L226.5 1103 L226.5 1103 L226.9 1099.5 L227.4 1094.8 L227.9 1089.2 L228.5 1083 L229.1 1076.4 L229.6 1069.5 L230.1 1062.8 L230.6 1056.3 L230.9 1050.3 L231.2 1045.1 L231.4 1040.4 L231.6 1035.7 L231.7 1031.2 L231.7 1027 L231.7 1022.9 L231.7 1019.2 L231.6 1015.7 L231.5 1012.7 L231.2 1010.1 L230.7 1008Z" fill="#222" opacity="0.9"/><path d="M243.5 998.5 L242.4 999.8 L242.3 1001 L242.4 1002.4 L242.5 1004 L242.8 1005.6 L243.2 1007.4 L243.7 1009.2 L244.3 1010.9 L245.1 1012.6 L245.9 1014.2 L246.9 1015.7 L248.1 1017.1 L249.4 1018.5 L250.8 1019.9 L252.2 1021.1 L253.6 1022.2 L254.9 1023.1 L256.2 1023.8 L257.3 1024.3 L259 1024 L259 1024 L259.4 1022.3 L258.9 1021.1 L258.1 1019.9 L257.2 1018.5 L256.2 1017.2 L255.1 1015.8 L254.1 1014.5 L253.1 1013.1 L252.2 1011.9 L251.5 1010.8 L250.8 1009.7 L250.2 1008.4 L249.5 1006.9 L248.8 1005.4 L248.1 1003.9 L247.4 1002.5 L246.7 1001.1 L245.9 999.9 L245.1 998.9 L243.5 998.5Z" fill="#777"/><path d="M243.5 998.5 L242.9 999.6 L242.9 1000.8 L243 1002.2 L243.2 1003.8 L243.5 1005.4 L243.8 1007.2 L244.3 1008.9 L244.9 1010.6 L245.6 1012.3 L246.5 1013.9 L247.5 1015.3 L248.6 1016.7 L249.9 1018.1 L251.2 1019.4 L252.6 1020.6 L254 1021.7 L255.4 1022.6 L256.6 1023.4 L257.7 1024 L259 1024 L259 1024 L259 1022.7 L258.4 1021.5 L257.7 1020.3 L256.7 1019 L255.7 1017.6 L254.7 1016.3 L253.6 1014.9 L252.6 1013.5 L251.7 1012.3 L250.9 1011.1 L250.3 1010 L249.6 1008.6 L248.9 1007.2 L248.2 1005.6 L247.5 1004.1 L246.8 1002.7 L246.1 1001.3 L245.4 1000.1 L244.6 999.1 L243.5 998.5Z" fill="#222" opacity="0.55"/><path d="M243.5 998.5 L243.5 999.4 L243.6 1000.6 L243.9 1001.9 L244.2 1003.5 L244.5 1005.1 L245 1006.8 L245.5 1008.5 L246.1 1010.1 L246.8 1011.7 L247.6 1013.2 L248.5 1014.6 L249.6 1015.9 L250.8 1017.3 L252.1 1018.6 L253.5 1019.8 L254.8 1021 L256 1022 L257.1 1022.8 L258.1 1023.5 L259 1024 L259 1024 L258.6 1023.1 L257.9 1022.1 L257 1021 L256 1019.7 L254.9 1018.4 L253.8 1017.1 L252.6 1015.7 L251.6 1014.4 L250.6 1013 L249.8 1011.8 L249.1 1010.6 L248.4 1009.1 L247.7 1007.6 L247 1006 L246.4 1004.5 L245.8 1003 L245.2 1001.6 L244.6 1000.3 L244.1 999.2 L243.5 998.5Z" fill="#222" opacity="0.9"/><path d="M361.2 999 L360.1 1000.8 L359.5 1002.6 L359 1004.4 L358.6 1006.3 L358.4 1008.1 L358.2 1010 L358.1 1011.9 L358.1 1013.8 L358.3 1015.7 L359 1017.7 L359 1017.7 L360.1 1015.9 L360.7 1014.1 L361.2 1012.3 L361.6 1010.4 L361.8 1008.6 L362 1006.7 L362.1 1004.8 L362.1 1002.9 L361.9 1001 L361.2 999Z" fill="#888"/><path d="M361.2 999 L360.4 1000.8 L359.9 1002.6 L359.5 1004.5 L359.2 1006.3 L358.9 1008.2 L358.7 1010.1 L358.6 1012 L358.6 1013.9 L358.7 1015.8 L359 1017.7 L359 1017.7 L359.8 1015.9 L360.3 1014.1 L360.7 1012.2 L361 1010.4 L361.3 1008.5 L361.5 1006.6 L361.6 1004.7 L361.6 1002.8 L361.5 1000.9 L361.2 999Z" fill="#555" opacity="0.55"/><path d="M361.2 999 L360.8 1000.8 L360.4 1002.7 L360.1 1004.6 L359.8 1006.4 L359.5 1008.3 L359.3 1010.2 L359.2 1012 L359.1 1013.9 L359 1015.8 L359 1017.7 L359 1017.7 L359.4 1015.9 L359.8 1014 L360.1 1012.1 L360.4 1010.3 L360.7 1008.4 L360.9 1006.5 L361 1004.7 L361.1 1002.8 L361.2 1000.9 L361.2 999Z" fill="#555" opacity="0.9"/><ellipse transform="translate(325.7 1055) rotate(5)" rx="3" ry="10" fill="#707070"/><path d="M356 1043 L355.2 1044 L354.6 1045.4 L354.1 1047.1 L353.6 1048.9 L353.2 1050.9 L352.7 1053 L352.3 1055.2 L351.9 1057.4 L351.6 1059.6 L351.3 1061.6 L351 1063.8 L350.7 1066.2 L350.4 1068.7 L350.2 1071.3 L350 1073.8 L349.9 1076.3 L349.9 1078.7 L350 1080.8 L350.1 1082.6 L350.7 1084 L350.7 1084 L351.7 1082.8 L352.4 1081.1 L353.1 1079.2 L353.8 1076.9 L354.4 1074.5 L355 1072 L355.6 1069.5 L356.1 1066.9 L356.4 1064.6 L356.7 1062.4 L356.9 1060.2 L357.1 1058 L357.2 1055.7 L357.2 1053.5 L357.2 1051.3 L357.2 1049.3 L357 1047.3 L356.9 1045.6 L356.6 1044.2 L356 1043Z" fill="#808080"/><path d="M356 1043 L355.5 1044.1 L355.1 1045.5 L354.7 1047.1 L354.3 1049 L353.9 1051 L353.5 1053.1 L353.1 1055.3 L352.8 1057.5 L352.5 1059.7 L352.2 1061.8 L351.9 1063.9 L351.6 1066.3 L351.3 1068.8 L351 1071.4 L350.8 1074 L350.6 1076.4 L350.5 1078.8 L350.5 1080.8 L350.5 1082.6 L350.7 1084 L350.7 1084 L351.3 1082.7 L351.9 1081.1 L352.5 1079.1 L353.1 1076.8 L353.7 1074.4 L354.2 1071.9 L354.7 1069.3 L355.2 1066.8 L355.6 1064.4 L355.8 1062.2 L356.1 1060.1 L356.3 1057.9 L356.4 1055.7 L356.5 1053.4 L356.5 1051.3 L356.5 1049.2 L356.5 1047.3 L356.4 1045.6 L356.3 1044.2 L356 1043Z" fill="#444" opacity="0.55"/><path d="M356 1043 L355.8 1044.1 L355.5 1045.5 L355.2 1047.2 L354.9 1049 L354.6 1051.1 L354.3 1053.2 L354 1055.4 L353.7 1057.6 L353.4 1059.8 L353.1 1061.9 L352.8 1064.1 L352.5 1066.4 L352.2 1069 L351.9 1071.5 L351.6 1074.1 L351.3 1076.6 L351.1 1078.9 L350.9 1080.9 L350.8 1082.7 L350.7 1084 L350.7 1084 L351 1082.7 L351.4 1081 L351.9 1079 L352.4 1076.7 L352.9 1074.3 L353.4 1071.8 L353.8 1069.2 L354.2 1066.7 L354.6 1064.3 L354.9 1062.1 L355.1 1060 L355.3 1057.8 L355.5 1055.6 L355.7 1053.3 L355.8 1051.2 L355.9 1049.1 L355.9 1047.2 L356 1045.6 L356 1044.1 L356 1043Z" fill="#444" opacity="0.9"/><path d="M344.7 1115 L344.1 1117.4 L343.3 1120.4 L342.5 1124 L341.5 1128.1 L340.5 1132.4 L339.5 1137 L338.6 1141.6 L337.6 1146.2 L336.8 1150.6 L336.1 1154.6 L335.4 1158.5 L334.9 1162.4 L334.4 1166.2 L333.9 1170 L333.5 1173.8 L333.2 1177.5 L332.9 1181.2 L332.7 1184.8 L332.6 1188.4 L332.5 1191.8 L332.5 1195.4 L332.6 1199 L332.8 1202.7 L333.2 1206.3 L333.6 1209.8 L334.2 1213.1 L334.8 1216.2 L335.6 1218.9 L336.6 1221.2 L338.5 1223 L338.5 1223 L340.4 1221.2 L341.4 1218.9 L342.1 1216.2 L342.8 1213.1 L343.4 1209.8 L343.8 1206.3 L344.2 1202.8 L344.5 1199.2 L344.7 1195.6 L344.9 1192.2 L345.1 1188.8 L345.1 1185.2 L345.2 1181.7 L345.2 1178 L345.2 1174.3 L345.2 1170.6 L345.1 1166.8 L345 1163 L345 1159.2 L344.9 1155.4 L344.9 1151.3 L344.9 1146.9 L344.9 1142.3 L344.9 1137.6 L344.9 1132.9 L344.9 1128.5 L344.9 1124.3 L344.8 1120.6 L344.8 1117.4 L344.7 1115Z" fill="#858585"/><path d="M344.7 1115 L344.3 1117.4 L343.7 1120.4 L343 1124.1 L342.2 1128.2 L341.4 1132.5 L340.5 1137.1 L339.6 1141.7 L338.8 1146.3 L338 1150.7 L337.3 1154.7 L336.8 1158.6 L336.2 1162.5 L335.7 1166.3 L335.3 1170.1 L334.9 1173.9 L334.6 1177.6 L334.4 1181.3 L334.2 1184.9 L334 1188.4 L333.9 1191.9 L333.9 1195.4 L334 1199 L334.2 1202.7 L334.5 1206.3 L334.9 1209.8 L335.4 1213.1 L336 1216.2 L336.6 1218.9 L337.3 1221.2 L338.5 1223 L338.5 1223 L339.7 1221.2 L340.4 1218.9 L341 1216.2 L341.6 1213.1 L342 1209.8 L342.4 1206.3 L342.8 1202.8 L343.1 1199.1 L343.3 1195.6 L343.5 1192.1 L343.6 1188.7 L343.7 1185.2 L343.7 1181.6 L343.8 1178 L343.8 1174.3 L343.7 1170.5 L343.7 1166.7 L343.7 1162.9 L343.7 1159.1 L343.7 1155.3 L343.7 1151.2 L343.7 1146.8 L343.8 1142.2 L343.9 1137.5 L344.1 1132.8 L344.2 1128.4 L344.3 1124.2 L344.5 1120.5 L344.6 1117.4 L344.7 1115Z" fill="#1c1c1c" opacity="0.55"/><path d="M344.7 1115 L344.4 1117.4 L344 1120.5 L343.5 1124.1 L342.9 1128.2 L342.3 1132.6 L341.6 1137.2 L340.9 1141.9 L340.3 1146.5 L339.7 1150.8 L339.2 1154.9 L338.7 1158.7 L338.3 1162.6 L337.9 1166.4 L337.6 1170.2 L337.3 1174 L337.1 1177.7 L336.9 1181.4 L336.7 1185 L336.6 1188.5 L336.5 1191.9 L336.4 1195.4 L336.5 1199.1 L336.6 1202.7 L336.7 1206.3 L336.9 1209.8 L337.2 1213.1 L337.5 1216.2 L337.8 1218.9 L338.1 1221.2 L338.5 1223 L338.5 1223 L338.9 1221.2 L339.2 1218.9 L339.5 1216.2 L339.8 1213.1 L340 1209.8 L340.3 1206.3 L340.5 1202.7 L340.6 1199.1 L340.8 1195.5 L340.9 1192.1 L341.1 1188.6 L341.2 1185.1 L341.2 1181.5 L341.3 1177.9 L341.4 1174.2 L341.5 1170.4 L341.5 1166.6 L341.6 1162.8 L341.7 1159 L341.8 1155.1 L342 1151 L342.2 1146.6 L342.5 1142 L342.8 1137.4 L343.2 1132.7 L343.5 1128.3 L343.9 1124.2 L344.2 1120.5 L344.5 1117.4 L344.7 1115Z" fill="#1c1c1c" opacity="0.9"/><path d="M507.5 1022 L509.4 1022.8 L511.6 1025.7 L513.9 1029.8 L515.6 1034.2 L516.4 1038 L515.9 1041.2 L514.4 1044.4 L512.4 1047.6 L510.6 1050.8 L509.5 1054 L509.1 1057.3 L509.1 1060.7 L509.4 1064 L509.9 1067.2 L510.5 1070 L511.2 1072.8 L512.1 1075.8 L513.2 1078.3 L514.6 1080 L516.4 1080.5 L518.9 1078.9 L522.1 1075.6 L525.5 1071.7 L528.7 1068.4 L531 1066.8 L532.5 1067.1 L533.5 1068.4 L534.1 1070.7 L534.4 1073.6 L534.5 1077 L534.4 1081.2 L533.9 1086.4 L533.3 1092 L532.5 1097.4 L531.8 1102 L531.2 1105.7 L530.5 1109 L529.8 1111.9 L529 1114.6 L528 1117 L526.8 1119.4 L525.5 1121.8 L524.1 1123.9 L522.5 1125.2 L520.8 1125.5 L518.9 1124.6 L516.8 1122.7 L514.6 1120.2 L512.4 1117.2 L510.5 1114 L508.8 1110.7 L507.2 1107 L505.7 1103 L504.3 1098.6 L503.2 1094 L502.3 1088.8 L501.6 1083.1 L501 1077.2 L500.6 1071.3 L500.3 1066 L500.1 1061.2 L500 1056.8 L500.1 1052.5 L500.4 1048.3 L501 1044 L501.9 1039 L503.1 1033.4 L504.4 1028.1 L506 1024Z" fill="#7c7c7c"/><path d="M506.5 1026 L505.9 1027.4 L505.4 1029.3 L504.9 1031.5 L504.4 1033.9 L503.9 1036.6 L503.4 1039.4 L503 1042.2 L502.6 1044.9 L502.3 1047.5 L502 1049.8 L501.7 1051.9 L501.5 1054 L501.3 1055.9 L501 1057.8 L500.8 1059.7 L500.7 1061.7 L500.6 1063.7 L500.5 1065.7 L500.5 1067.8 L500.5 1070.1 L500.6 1072.5 L500.7 1074.9 L500.9 1077.5 L501.1 1080.2 L501.4 1082.9 L501.8 1085.6 L502.2 1088.2 L502.7 1090.7 L503.2 1093.2 L503.8 1095.5 L504.5 1097.7 L505.3 1100 L506.3 1102.1 L507.3 1104.2 L508.4 1106.1 L509.4 1107.9 L510.4 1109.5 L511.3 1111 L512.2 1112.1 L513 1113 L513 1113 L513 1111.8 L512.6 1110.4 L512.1 1108.7 L511.6 1106.9 L511 1105 L510.3 1103 L509.7 1100.8 L509.1 1098.7 L508.6 1096.6 L508.2 1094.5 L507.9 1092.3 L507.7 1090 L507.4 1087.5 L507.2 1085 L507.1 1082.4 L506.9 1079.8 L506.8 1077.2 L506.7 1074.6 L506.6 1072.2 L506.5 1069.9 L506.4 1067.8 L506.4 1065.8 L506.5 1063.9 L506.5 1062 L506.6 1060.1 L506.7 1058.3 L506.8 1056.4 L506.9 1054.4 L507 1052.3 L507 1050.2 L507.1 1047.8 L507.1 1045.3 L507.2 1042.5 L507.2 1039.7 L507.2 1036.9 L507.2 1034.2 L507.1 1031.7 L507 1029.4 L506.9 1027.5 L506.5 1026Z" fill="#3a3a3a"/><path d="M504.8 1182 L502.7 1184.5 L501.9 1187.6 L501.5 1191.3 L501.2 1195.3 L501.1 1199.7 L501.1 1204.1 L501.2 1208.5 L501.3 1212.8 L501.5 1216.8 L501.6 1220.4 L501.7 1223.6 L501.9 1226.8 L502 1229.8 L502.1 1232.8 L502.2 1235.7 L502.4 1238.6 L502.5 1241.4 L502.6 1244.2 L502.8 1247.1 L503 1249.9 L503.2 1252.8 L503.4 1255.9 L503.6 1259.1 L503.9 1262.3 L504.2 1265.4 L504.6 1268.4 L505 1271.2 L505.5 1273.7 L506.1 1275.8 L507.5 1277.5 L507.5 1277.5 L509 1275.9 L509.9 1273.9 L510.6 1271.5 L511.4 1268.8 L512 1265.8 L512.6 1262.7 L513.2 1259.5 L513.7 1256.3 L514.1 1253.1 L514.4 1250.1 L514.7 1247.2 L514.9 1244.3 L515.1 1241.5 L515.2 1238.6 L515.4 1235.6 L515.4 1232.6 L515.4 1229.5 L515.3 1226.3 L515.2 1223 L515 1219.6 L514.7 1215.9 L514.2 1211.8 L513.6 1207.4 L512.8 1203 L511.9 1198.6 L511 1194.4 L509.9 1190.4 L508.7 1187 L507.4 1184.1 L504.8 1182Z" fill="#858585"/><path d="M504.8 1182 L503.6 1184.4 L503.1 1187.5 L502.8 1191.2 L502.6 1195.2 L502.6 1199.5 L502.6 1204 L502.7 1208.4 L502.9 1212.7 L503 1216.7 L503.2 1220.3 L503.3 1223.6 L503.4 1226.7 L503.6 1229.8 L503.7 1232.8 L503.8 1235.7 L503.9 1238.6 L504 1241.4 L504.2 1244.2 L504.3 1247.1 L504.5 1249.9 L504.6 1252.9 L504.8 1256 L505 1259.2 L505.2 1262.4 L505.4 1265.5 L505.7 1268.5 L506 1271.3 L506.4 1273.7 L506.8 1275.8 L507.5 1277.5 L507.5 1277.5 L508.4 1275.9 L509 1273.9 L509.6 1271.4 L510.2 1268.7 L510.8 1265.8 L511.3 1262.6 L511.8 1259.4 L512.3 1256.2 L512.6 1253.1 L512.9 1250.1 L513.2 1247.2 L513.4 1244.3 L513.6 1241.5 L513.7 1238.6 L513.8 1235.6 L513.8 1232.6 L513.8 1229.5 L513.8 1226.4 L513.6 1223.1 L513.4 1219.7 L513.1 1216 L512.6 1211.9 L512 1207.6 L511.3 1203.1 L510.5 1198.7 L509.6 1194.5 L508.6 1190.6 L507.6 1187.1 L506.5 1184.2 L504.8 1182Z" fill="#222" opacity="0.55"/><path d="M504.8 1182 L504.5 1184.3 L504.5 1187.4 L504.5 1191 L504.6 1195 L504.8 1199.3 L505 1203.7 L505.2 1208.2 L505.5 1212.5 L505.7 1216.5 L505.9 1220.1 L506 1223.4 L506.2 1226.6 L506.3 1229.7 L506.4 1232.7 L506.5 1235.7 L506.5 1238.6 L506.6 1241.4 L506.7 1244.3 L506.7 1247.1 L506.8 1250 L506.9 1252.9 L506.9 1256 L507 1259.2 L507 1262.4 L507.1 1265.6 L507.1 1268.6 L507.2 1271.3 L507.2 1273.8 L507.3 1275.9 L507.5 1277.5 L507.5 1277.5 L507.8 1275.9 L508.1 1273.8 L508.5 1271.4 L508.8 1268.6 L509.2 1265.7 L509.5 1262.6 L509.9 1259.4 L510.2 1256.2 L510.4 1253 L510.6 1250 L510.7 1247.2 L510.9 1244.3 L511 1241.4 L511.1 1238.6 L511.1 1235.6 L511.1 1232.7 L511.1 1229.6 L511 1226.5 L510.9 1223.2 L510.7 1219.9 L510.4 1216.2 L510 1212.1 L509.5 1207.8 L508.9 1203.4 L508.3 1199 L507.6 1194.7 L506.9 1190.7 L506.2 1187.2 L505.5 1184.2 L504.8 1182Z" fill="#222" opacity="0.9"/><path d="M329.3 1283 L326.1 1285.3 L325.2 1287.8 L324.6 1290.6 L324.4 1293.6 L324.3 1296.9 L324.4 1300.2 L324.7 1303.5 L325.1 1306.7 L325.6 1309.8 L326.2 1312.5 L326.7 1315.1 L327.4 1317.8 L328 1320.4 L328.8 1323 L329.6 1325.5 L330.4 1327.8 L331.2 1330.1 L332 1332.2 L332.8 1334.1 L333.5 1335.9 L334.2 1337.3 L334.8 1338.7 L335.4 1339.8 L336 1340.9 L336.5 1341.8 L337 1342.6 L337.5 1343.4 L338.1 1344 L338.7 1344.6 L340 1345 L340 1345 L341.2 1344.3 L341.7 1343.7 L342.1 1343 L342.5 1342.1 L342.8 1341.2 L343.2 1340.1 L343.4 1338.8 L343.7 1337.4 L343.9 1335.9 L344.1 1334.1 L344.2 1332.2 L344.3 1330.1 L344.3 1327.8 L344.3 1325.4 L344.2 1322.8 L344.1 1320.2 L343.9 1317.5 L343.6 1314.8 L343.2 1312.1 L342.8 1309.5 L342.3 1306.7 L341.7 1303.7 L340.9 1300.5 L340 1297.3 L339 1294.1 L337.7 1291.1 L336.4 1288.4 L334.9 1286 L333.1 1284 L329.3 1283Z" fill="#888"/><path d="M329.3 1283 L327.4 1285.1 L326.7 1287.5 L326.3 1290.2 L326.2 1293.3 L326.2 1296.5 L326.4 1299.8 L326.7 1303.2 L327.1 1306.4 L327.6 1309.4 L328.1 1312.2 L328.7 1314.8 L329.3 1317.4 L330 1320 L330.7 1322.6 L331.4 1325.1 L332.2 1327.5 L333 1329.8 L333.7 1331.9 L334.4 1333.9 L335.1 1335.6 L335.7 1337.1 L336.3 1338.5 L336.8 1339.7 L337.2 1340.7 L337.7 1341.7 L338.1 1342.5 L338.5 1343.3 L338.9 1344 L339.3 1344.5 L340 1345 L340 1345 L340.6 1344.4 L340.9 1343.8 L341.2 1343.1 L341.4 1342.2 L341.7 1341.3 L341.9 1340.2 L342.1 1339 L342.2 1337.6 L342.4 1336.1 L342.5 1334.4 L342.6 1332.5 L342.6 1330.4 L342.6 1328.1 L342.5 1325.7 L342.4 1323.1 L342.2 1320.5 L341.9 1317.8 L341.6 1315.1 L341.3 1312.5 L340.9 1309.8 L340.4 1307.1 L339.8 1304 L339 1300.9 L338.1 1297.7 L337.1 1294.5 L335.9 1291.5 L334.7 1288.7 L333.3 1286.3 L331.9 1284.3 L329.3 1283Z" fill="#222" opacity="0.55"/><path d="M329.3 1283 L328.8 1284.8 L328.7 1287.1 L328.7 1289.8 L328.9 1292.8 L329.2 1296 L329.5 1299.2 L330 1302.5 L330.5 1305.8 L331 1308.8 L331.5 1311.5 L332 1314.2 L332.6 1316.8 L333.2 1319.4 L333.8 1322 L334.4 1324.6 L335.1 1327 L335.7 1329.3 L336.3 1331.5 L336.8 1333.5 L337.3 1335.2 L337.7 1336.8 L338.1 1338.2 L338.4 1339.5 L338.7 1340.6 L339 1341.6 L339.2 1342.4 L339.4 1343.2 L339.6 1343.9 L339.8 1344.5 L340 1345 L340 1345 L340.1 1344.5 L340.2 1343.8 L340.3 1343.1 L340.3 1342.3 L340.4 1341.4 L340.4 1340.4 L340.4 1339.2 L340.4 1337.9 L340.4 1336.4 L340.3 1334.8 L340.2 1332.9 L340.1 1330.8 L339.9 1328.6 L339.6 1326.2 L339.4 1323.7 L339.1 1321.1 L338.7 1318.4 L338.3 1315.8 L337.9 1313.1 L337.5 1310.5 L337 1307.7 L336.4 1304.7 L335.7 1301.5 L334.9 1298.2 L334.1 1295 L333.2 1292 L332.3 1289.1 L331.4 1286.6 L330.4 1284.5 L329.3 1283Z" fill="#222" opacity="0.9"/><path d="M338.5 1328 L337.1 1329.4 L336.5 1331.2 L336.2 1333.2 L336 1335.4 L335.8 1337.7 L335.8 1340 L335.9 1342.3 L336 1344.5 L336.2 1346.4 L336.3 1348.1 L336.4 1349.5 L336.5 1351.1 L336.6 1352.7 L336.7 1354.3 L336.8 1355.9 L336.9 1357.4 L337.1 1358.9 L337.4 1360.2 L337.8 1361.4 L339 1362.5 L339 1362.5 L340.4 1361.9 L341.3 1361 L342.1 1359.9 L342.8 1358.6 L343.5 1357.1 L344.2 1355.5 L344.8 1353.7 L345.2 1351.9 L345.5 1349.9 L345.7 1347.9 L345.7 1345.8 L345.5 1343.6 L345.1 1341.2 L344.6 1338.8 L343.9 1336.5 L343.1 1334.3 L342.2 1332.2 L341.3 1330.4 L340.2 1329 L338.5 1328Z" fill="#808080"/><path d="M338.5 1328 L337.7 1329.4 L337.3 1331.1 L337.1 1333 L336.9 1335.2 L336.9 1337.5 L336.9 1339.9 L337 1342.2 L337.1 1344.4 L337.3 1346.4 L337.4 1348.1 L337.5 1349.6 L337.6 1351.2 L337.6 1352.8 L337.7 1354.5 L337.7 1356.1 L337.8 1357.6 L337.9 1359.1 L338.1 1360.4 L338.4 1361.5 L339 1362.5 L339 1362.5 L339.9 1361.8 L340.6 1360.9 L341.3 1359.7 L341.9 1358.4 L342.6 1356.9 L343.2 1355.3 L343.7 1353.6 L344.1 1351.8 L344.4 1349.9 L344.6 1347.9 L344.5 1345.9 L344.4 1343.7 L344 1341.4 L343.5 1339 L342.9 1336.7 L342.1 1334.4 L341.3 1332.4 L340.5 1330.6 L339.6 1329.1 L338.5 1328Z" fill="#3a3a3a" opacity="0.55"/><path d="M338.5 1328 L338.3 1329.3 L338.3 1330.9 L338.3 1332.8 L338.4 1335 L338.5 1337.3 L338.7 1339.6 L338.9 1342 L339.1 1344.2 L339.2 1346.2 L339.3 1348 L339.4 1349.7 L339.4 1351.4 L339.3 1353 L339.2 1354.7 L339.1 1356.3 L339 1357.8 L338.9 1359.3 L338.9 1360.5 L338.9 1361.6 L339 1362.5 L339 1362.5 L339.4 1361.7 L339.8 1360.7 L340.2 1359.5 L340.7 1358.2 L341.2 1356.7 L341.6 1355.1 L342 1353.4 L342.4 1351.6 L342.6 1349.8 L342.7 1348 L342.6 1346 L342.4 1343.9 L342.1 1341.6 L341.7 1339.2 L341.2 1336.9 L340.7 1334.7 L340.1 1332.6 L339.5 1330.7 L339 1329.2 L338.5 1328Z" fill="#3a3a3a" opacity="0.9"/><path transform="translate(562.3 1361) rotate(-12)" d="M0 -22 C6.3 -17.6 8.3 12.1 0 22 C-8.3 12.1 -6.3 -17.6 0 -22Z" fill="url(#lensD)"/><path d="M446.9 1364 L446.1 1365.2 L445.8 1366.3 L445.6 1367.5 L445.4 1368.6 L445.4 1369.8 L445.4 1370.9 L445.6 1372 L445.8 1373.2 L446.1 1374.3 L446.9 1375.5 L446.9 1375.5 L447.7 1374.3 L448 1373.2 L448.2 1372 L448.4 1370.9 L448.4 1369.8 L448.4 1368.6 L448.2 1367.5 L448 1366.3 L447.7 1365.2 L446.9 1364Z" fill="#666"/><ellipse transform="translate(457.8 1380.7) rotate(35)" rx="2.5" ry="4.5" fill="#555"/><ellipse transform="translate(604.8 1401.5) rotate(0)" rx="1.5" ry="2" fill="#777"/></g>
<line x1="221.9" y1="990.7" x2="221.9" y2="1403" stroke="#4a4aff" stroke-width="2.6"/>
<line x1="221.9" y1="990.7" x2="221.9" y2="998.5" stroke="#2020f0" stroke-width="2.4"/>
<path d="M221.9 959.3 L211.5 990.7 L232.3 990.7Z" fill="#0000ee"/>
<line x1="221.7" y1="1403" x2="636" y2="1403" stroke="#8cc88c" stroke-width="1.8"/>
<path d="M665 1403 L634 1393 L634 1413Z" fill="#0a860a"/>
<text class="mo" x="231.2" y="1403.5" font-size="13" letter-spacing="0.5" fill="#ee1010">A(AxialRatioValue)</text>
<circle cx="221.7" cy="1403" r="10" fill="url(#dot)"/>
<text class="sb" transform="translate(201.5 1186.5) rotate(-90)" text-anchor="middle" font-size="36" fill="#0000cd">Phi (Φ°)</text>
<text class="sb" transform="translate(424.7 1439) scale(1.045 1)" text-anchor="middle" font-size="34.5" fill="#0b7a35">Theta (θ°)</text>
<rect x="226.4" y="1469.6" width="404" height="406" fill="#f0f0f0"/>
<g filter="url(#b05)"><path d="M290.5 1470 L290 1470.9 L290 1471.5 L290.1 1472.1 L290.2 1472.6 L290.4 1473.2 L290.7 1473.7 L291 1474.2 L291.2 1474.7 L291.5 1475.1 L291.7 1475.5 L292 1476 L292.3 1476.5 L292.7 1477 L293.1 1477.6 L293.6 1478.1 L294.1 1478.6 L294.7 1479.1 L295.2 1479.4 L295.8 1479.7 L297 1479.5 L297 1479.5 L297.8 1478.7 L298 1478 L298 1477.4 L298 1476.6 L297.8 1475.9 L297.6 1475.2 L297.4 1474.4 L297 1473.7 L296.7 1473.1 L296.3 1472.5 L295.8 1471.9 L295.3 1471.4 L294.8 1470.9 L294.2 1470.5 L293.7 1470.2 L293.1 1469.9 L292.6 1469.7 L292 1469.5 L291.5 1469.5 L290.5 1470Z" fill="#444"/><ellipse transform="translate(264.4 1482) rotate(10)" rx="1.8" ry="3.5" fill="#777"/><ellipse transform="translate(280.4 1487.6) rotate(-30)" rx="2.5" ry="3" fill="#666"/><ellipse transform="translate(243.5 1506) rotate(2)" rx="2.2" ry="9" fill="#888"/><ellipse transform="translate(317 1498) rotate(35)" rx="3.8" ry="7" fill="#666"/><path d="M290 1496 L288.1 1497.2 L287.4 1498.9 L286.8 1500.8 L286.3 1503 L285.9 1505.3 L285.5 1507.7 L285.2 1510 L284.9 1512.1 L284.7 1514 L284.5 1515.5 L284.2 1516.7 L283.8 1518 L283.3 1519.3 L282.8 1520.7 L282.3 1522 L281.8 1523.3 L281.4 1524.6 L281 1525.8 L280.9 1527 L281.7 1528.5 L281.7 1528.5 L283.4 1528.7 L284.4 1528.2 L285.4 1527.5 L286.6 1526.6 L287.7 1525.6 L288.8 1524.3 L289.9 1522.9 L290.9 1521.3 L291.8 1519.5 L292.5 1517.5 L293 1515.4 L293.4 1513.1 L293.6 1510.7 L293.6 1508.2 L293.5 1505.7 L293.2 1503.2 L292.9 1501 L292.4 1499 L291.7 1497.3 L290 1496Z" fill="#666"/><path d="M290 1496 L288.8 1497.2 L288.1 1498.9 L287.6 1500.8 L287.1 1503 L286.7 1505.4 L286.4 1507.7 L286.1 1510.1 L285.8 1512.2 L285.5 1514.1 L285.3 1515.7 L285 1517 L284.6 1518.4 L284.1 1519.7 L283.6 1521.1 L283 1522.4 L282.5 1523.8 L282 1525 L281.6 1526.2 L281.4 1527.3 L281.7 1528.5 L281.7 1528.5 L282.9 1528.3 L283.8 1527.8 L284.8 1527.1 L285.9 1526.2 L287 1525.1 L288.1 1523.9 L289.2 1522.5 L290.2 1520.9 L291 1519.2 L291.7 1517.3 L292.2 1515.3 L292.5 1513 L292.7 1510.6 L292.7 1508.1 L292.6 1505.6 L292.4 1503.2 L292.1 1501 L291.6 1499 L291.1 1497.3 L290 1496Z" fill="#222" opacity="0.55"/><path d="M290 1496 L289.5 1497.2 L289.2 1498.9 L288.8 1500.9 L288.5 1503.1 L288.3 1505.4 L288 1507.8 L287.7 1510.2 L287.5 1512.4 L287.2 1514.4 L286.9 1516.1 L286.5 1517.6 L286 1519 L285.4 1520.4 L284.8 1521.8 L284.1 1523.2 L283.4 1524.4 L282.8 1525.6 L282.3 1526.7 L281.9 1527.7 L281.7 1528.5 L281.7 1528.5 L282.4 1528 L283.1 1527.3 L284 1526.5 L284.9 1525.5 L285.9 1524.4 L286.9 1523.1 L287.9 1521.8 L288.7 1520.3 L289.5 1518.6 L290.1 1516.9 L290.5 1515 L290.8 1512.8 L291 1510.5 L291.1 1508 L291.1 1505.6 L291 1503.2 L290.8 1500.9 L290.6 1498.9 L290.4 1497.3 L290 1496Z" fill="#222" opacity="0.9"/><ellipse transform="translate(276.6 1514) rotate(27)" rx="2.2" ry="6.5" fill="#555"/><ellipse transform="translate(263 1530) rotate(-5)" rx="2" ry="6.5" fill="#777"/><ellipse transform="translate(342 1640.5) rotate(8)" rx="4.5" ry="9" fill="#808080"/><ellipse transform="translate(338.9 1667.2) rotate(-20)" rx="1.8" ry="2.8" fill="#aaa"/><ellipse transform="translate(349.3 1707.5) rotate(-15)" rx="6.2" ry="10" fill="#848484"/><ellipse transform="translate(356.7 1732.5) rotate(-8)" rx="7.2" ry="12" fill="#808080"/><ellipse transform="translate(353 1720) rotate(-20)" rx="4" ry="7" fill="#848484"/><path d="M403.3 1620 L402.1 1623.7 L401.6 1628.4 L401.2 1634 L401 1640.3 L400.9 1647.1 L400.8 1654.1 L400.9 1661.1 L401 1667.9 L401.2 1674.4 L401.4 1680.3 L401.7 1685.8 L402 1691.1 L402.3 1696.3 L402.7 1701.5 L403.1 1706.5 L403.5 1711.4 L404 1716.3 L404.4 1721 L404.9 1725.7 L405.4 1730.3 L406 1735 L406.6 1739.9 L407.2 1744.8 L407.9 1749.6 L408.6 1754.4 L409.3 1758.8 L410.1 1762.9 L410.8 1766.5 L411.6 1769.6 L413 1772 L413 1772 L414 1769.5 L414.4 1766.3 L414.6 1762.6 L414.8 1758.4 L414.9 1753.9 L414.9 1749.1 L414.9 1744.2 L414.8 1739.3 L414.7 1734.4 L414.6 1729.7 L414.4 1725 L414.2 1720.3 L414 1715.5 L413.7 1710.7 L413.4 1705.8 L413.1 1700.7 L412.8 1695.6 L412.4 1690.4 L412 1685.1 L411.6 1679.7 L411.1 1673.8 L410.6 1667.4 L409.9 1660.6 L409.3 1653.6 L408.5 1646.7 L407.7 1640 L406.8 1633.8 L405.9 1628.2 L404.9 1623.5 L403.3 1620Z" fill="#8a8a8a"/><path d="M403.3 1620 L402.7 1623.7 L402.4 1628.4 L402.3 1634 L402.2 1640.3 L402.1 1647 L402.2 1654 L402.3 1661 L402.4 1667.9 L402.6 1674.3 L402.9 1680.2 L403.2 1685.7 L403.5 1691 L403.8 1696.2 L404.2 1701.4 L404.6 1706.4 L405 1711.3 L405.4 1716.2 L405.9 1720.9 L406.3 1725.6 L406.8 1730.2 L407.3 1734.9 L407.9 1739.8 L408.5 1744.7 L409.1 1749.6 L409.7 1754.3 L410.3 1758.7 L411 1762.8 L411.6 1766.5 L412.2 1769.6 L413 1772 L413 1772 L413.5 1769.5 L413.6 1766.3 L413.7 1762.6 L413.8 1758.5 L413.7 1754 L413.7 1749.2 L413.6 1744.3 L413.5 1739.4 L413.3 1734.5 L413.2 1729.8 L413 1725.1 L412.8 1720.4 L412.5 1715.6 L412.3 1710.8 L412 1705.9 L411.6 1700.8 L411.3 1695.7 L410.9 1690.5 L410.5 1685.2 L410.1 1679.8 L409.7 1673.9 L409.1 1667.5 L408.6 1660.7 L407.9 1653.7 L407.2 1646.7 L406.5 1640 L405.8 1633.8 L405 1628.3 L404.3 1623.6 L403.3 1620Z" fill="#1c1c1c" opacity="0.55"/><path d="M403.3 1620 L403.2 1623.6 L403.3 1628.3 L403.3 1633.9 L403.4 1640.2 L403.6 1646.9 L403.8 1653.9 L404 1660.9 L404.3 1667.8 L404.5 1674.2 L404.8 1680.1 L405.1 1685.6 L405.4 1690.9 L405.8 1696.1 L406.2 1701.2 L406.5 1706.3 L406.9 1711.2 L407.3 1716 L407.7 1720.8 L408.2 1725.5 L408.6 1730.1 L409 1734.8 L409.4 1739.7 L409.9 1744.6 L410.4 1749.5 L410.9 1754.2 L411.4 1758.7 L411.8 1762.8 L412.3 1766.4 L412.6 1769.6 L413 1772 L413 1772 L413 1769.5 L412.9 1766.4 L412.8 1762.7 L412.7 1758.6 L412.5 1754.1 L412.3 1749.3 L412.1 1744.4 L411.9 1739.5 L411.7 1734.6 L411.4 1729.9 L411.2 1725.3 L410.9 1720.6 L410.6 1715.8 L410.3 1710.9 L410 1706 L409.7 1701 L409.3 1695.9 L408.9 1690.7 L408.6 1685.3 L408.2 1679.9 L407.8 1674 L407.3 1667.6 L406.8 1660.8 L406.3 1653.8 L405.8 1646.8 L405.2 1640.1 L404.7 1633.9 L404.2 1628.3 L403.7 1623.6 L403.3 1620Z" fill="#1c1c1c" opacity="0.9"/><path d="M445.7 1643 L444.2 1645.9 L443.6 1649.7 L443.1 1654.1 L442.8 1659 L442.7 1664.3 L442.6 1669.8 L442.7 1675.3 L442.8 1680.6 L443 1685.7 L443.3 1690.2 L443.6 1694.6 L443.9 1699.2 L444.3 1703.8 L444.7 1708.4 L445.3 1712.8 L445.8 1717 L446.5 1720.9 L447.2 1724.3 L448 1727.2 L449.6 1729.5 L449.6 1729.5 L451.1 1727.1 L451.8 1724.2 L452.3 1720.7 L452.8 1716.8 L453.2 1712.6 L453.5 1708.1 L453.7 1703.5 L453.8 1698.8 L453.8 1694.2 L453.7 1689.8 L453.5 1685.1 L453.2 1680 L452.7 1674.7 L452.1 1669.2 L451.4 1663.8 L450.6 1658.5 L449.6 1653.7 L448.6 1649.4 L447.6 1645.7 L445.7 1643Z" fill="#8a8a8a"/><path d="M445.7 1643 L444.9 1645.9 L444.5 1649.6 L444.3 1654 L444.1 1658.9 L444 1664.2 L444 1669.7 L444.1 1675.2 L444.3 1680.5 L444.5 1685.6 L444.8 1690.2 L445 1694.6 L445.3 1699.1 L445.7 1703.7 L446.1 1708.3 L446.5 1712.8 L447 1717 L447.5 1720.8 L448.1 1724.3 L448.7 1727.2 L449.6 1729.5 L449.6 1729.5 L450.4 1727.2 L450.9 1724.2 L451.3 1720.7 L451.6 1716.9 L451.9 1712.6 L452.1 1708.2 L452.3 1703.5 L452.3 1698.9 L452.3 1694.3 L452.2 1689.8 L452 1685.2 L451.7 1680.1 L451.3 1674.8 L450.7 1669.3 L450 1663.8 L449.3 1658.6 L448.5 1653.7 L447.7 1649.4 L446.8 1645.8 L445.7 1643Z" fill="#1c1c1c" opacity="0.55"/><path d="M445.7 1643 L445.6 1645.9 L445.5 1649.5 L445.5 1653.9 L445.6 1658.8 L445.7 1664.1 L445.8 1669.6 L446 1675.1 L446.3 1680.4 L446.5 1685.5 L446.8 1690.1 L447 1694.5 L447.2 1699.1 L447.5 1703.7 L447.8 1708.3 L448.1 1712.7 L448.4 1716.9 L448.7 1720.8 L449 1724.3 L449.3 1727.2 L449.6 1729.5 L449.6 1729.5 L449.8 1727.2 L450 1724.2 L450.1 1720.8 L450.3 1716.9 L450.4 1712.7 L450.5 1708.2 L450.5 1703.6 L450.5 1699 L450.4 1694.4 L450.2 1689.9 L450 1685.3 L449.7 1680.2 L449.3 1674.9 L448.9 1669.4 L448.4 1663.9 L447.8 1658.7 L447.2 1653.8 L446.7 1649.5 L446.2 1645.8 L445.7 1643Z" fill="#1c1c1c" opacity="0.9"/><path d="M492.1 1597 L489.6 1598.5 L489 1599.9 L488.6 1601.6 L488.4 1603.6 L488.3 1605.6 L488.3 1607.8 L488.4 1610 L488.6 1612.2 L488.8 1614.4 L489.2 1616.5 L489.6 1618.4 L490.1 1620.3 L490.6 1622.1 L491.2 1624 L491.8 1625.8 L492.5 1627.5 L493.2 1629.3 L493.9 1631 L494.7 1632.6 L495.5 1634.3 L496.4 1636 L497.4 1637.8 L498.4 1639.7 L499.6 1641.5 L500.7 1643.2 L501.9 1644.8 L503.1 1646.2 L504.3 1647.4 L505.6 1648.2 L508.5 1648 L508.5 1648 L510.5 1645.9 L510.6 1644.3 L510.4 1642.6 L510 1640.8 L509.5 1638.9 L508.9 1637 L508.3 1635.1 L507.7 1633.2 L507.1 1631.4 L506.5 1629.7 L505.9 1628.1 L505.4 1626.4 L504.8 1624.8 L504.2 1623.1 L503.6 1621.5 L503 1619.9 L502.4 1618.3 L501.9 1616.7 L501.3 1615.1 L500.8 1613.5 L500.3 1611.9 L499.8 1610.1 L499.2 1608.2 L498.7 1606.2 L498 1604.2 L497.4 1602.3 L496.7 1600.6 L495.9 1599 L495 1597.7 L492.1 1597Z" fill="#858585"/><path d="M492.1 1597 L490.9 1598.3 L490.5 1599.7 L490.3 1601.4 L490.2 1603.3 L490.1 1605.4 L490.2 1607.5 L490.3 1609.7 L490.5 1611.9 L490.7 1614 L491.1 1616 L491.5 1617.9 L492 1619.7 L492.5 1621.5 L493.1 1623.3 L493.7 1625.1 L494.4 1626.8 L495.1 1628.5 L495.8 1630.2 L496.5 1631.9 L497.3 1633.5 L498.2 1635.3 L499.1 1637.1 L500.2 1638.9 L501.3 1640.7 L502.4 1642.4 L503.5 1644 L504.6 1645.4 L505.7 1646.7 L506.8 1647.7 L508.5 1648 L508.5 1648 L509.3 1646.4 L509.2 1645 L508.9 1643.4 L508.4 1641.6 L507.9 1639.7 L507.2 1637.8 L506.6 1635.9 L505.9 1634 L505.3 1632.2 L504.7 1630.5 L504.1 1628.8 L503.5 1627.1 L502.9 1625.5 L502.3 1623.8 L501.7 1622.2 L501.1 1620.5 L500.5 1618.9 L500 1617.3 L499.4 1615.6 L498.9 1614 L498.4 1612.3 L497.9 1610.5 L497.3 1608.5 L496.8 1606.5 L496.2 1604.5 L495.6 1602.6 L495 1600.8 L494.4 1599.2 L493.7 1597.9 L492.1 1597Z" fill="#666" opacity="0.55"/><path d="M492.1 1597 L491.8 1598.1 L491.8 1599.6 L491.8 1601.2 L491.8 1603.1 L491.9 1605.1 L492 1607.2 L492.3 1609.4 L492.5 1611.5 L492.8 1613.5 L493.2 1615.5 L493.6 1617.3 L494.1 1619.1 L494.6 1620.8 L495.2 1622.6 L495.8 1624.3 L496.5 1626 L497.2 1627.7 L497.9 1629.4 L498.6 1631.1 L499.3 1632.7 L500.1 1634.4 L501 1636.2 L502 1638 L503 1639.8 L504 1641.6 L505 1643.3 L506 1644.8 L506.8 1646.1 L507.7 1647.2 L508.5 1648 L508.5 1648 L508.4 1646.9 L508.1 1645.5 L507.6 1644 L506.9 1642.3 L506.3 1640.5 L505.5 1638.6 L504.8 1636.7 L504 1634.8 L503.3 1633 L502.7 1631.3 L502.1 1629.6 L501.5 1628 L500.8 1626.3 L500.2 1624.6 L499.6 1622.9 L499 1621.3 L498.4 1619.6 L497.8 1617.9 L497.3 1616.2 L496.8 1614.5 L496.3 1612.8 L495.8 1610.9 L495.4 1608.8 L494.9 1606.8 L494.5 1604.8 L494 1602.8 L493.6 1601 L493.1 1599.4 L492.7 1598 L492.1 1597Z" fill="#666" opacity="0.9"/><path d="M515 1663 L516.8 1663.5 L518.8 1664.4 L520.8 1665.4 L522.6 1666.7 L524 1668 L525 1669.4 L525.7 1670.9 L526.1 1672.5 L526.2 1674.2 L526 1676 L525.3 1678 L524.2 1680.2 L522.7 1682.4 L521.3 1684.4 L520 1686 L518.9 1687.2 L517.8 1688.2 L516.8 1688.9 L515.7 1689.2 L514.5 1689 L513.1 1688.3 L511.6 1687.1 L510 1685.5 L508.6 1683.8 L507.5 1682 L506.7 1680.1 L506.1 1678.1 L505.7 1675.9 L505.5 1673.9 L505.5 1672 L505.7 1670.3 L506.2 1668.7 L506.8 1667.3 L507.6 1666 L508.5 1665 L509.5 1664.2 L510.7 1663.5 L512.1 1663.1 L513.5 1662.9Z" fill="#7a7a7a"/><ellipse transform="translate(513 1704.2) rotate(17)" rx="6.2" ry="14" fill="#787878"/><path d="M554.9 1771 L553.6 1771.9 L553.1 1772.9 L552.6 1774.1 L552.2 1775.4 L551.9 1776.8 L551.6 1778.2 L551.4 1779.7 L551.3 1781.1 L551.1 1782.5 L551 1783.8 L550.9 1785.1 L550.8 1786.6 L550.8 1788.3 L550.8 1790 L550.9 1791.8 L551 1793.5 L551.3 1795.1 L551.7 1796.6 L552.2 1797.9 L553.5 1799 L553.5 1799 L555 1798.3 L556 1797.3 L556.8 1796 L557.5 1794.5 L558.2 1792.9 L558.8 1791.1 L559.3 1789.4 L559.6 1787.6 L559.9 1785.9 L560 1784.2 L560 1782.6 L559.8 1781 L559.6 1779.4 L559.2 1777.8 L558.8 1776.3 L558.2 1774.9 L557.6 1773.7 L557 1772.6 L556.3 1771.7 L554.9 1771Z" fill="#808080"/><path d="M554.9 1771 L554.3 1771.8 L553.9 1772.8 L553.6 1774 L553.3 1775.3 L553.1 1776.7 L552.9 1778.2 L552.8 1779.6 L552.7 1781.1 L552.6 1782.5 L552.5 1783.8 L552.3 1785.2 L552.2 1786.8 L552.2 1788.5 L552.1 1790.2 L552.1 1792 L552.2 1793.7 L552.3 1795.3 L552.6 1796.7 L552.9 1798 L553.5 1799 L553.5 1799 L554.4 1798.2 L555.1 1797.1 L555.7 1795.8 L556.4 1794.3 L556.9 1792.7 L557.5 1791 L557.9 1789.2 L558.2 1787.4 L558.4 1785.7 L558.5 1784.2 L558.5 1782.6 L558.4 1781 L558.2 1779.4 L557.9 1777.9 L557.5 1776.4 L557.1 1775 L556.6 1773.8 L556.2 1772.6 L555.6 1771.7 L554.9 1771Z" fill="#555" opacity="0.55"/><path d="M554.9 1771 L554.7 1771.8 L554.6 1772.8 L554.5 1773.9 L554.4 1775.2 L554.4 1776.6 L554.3 1778.1 L554.3 1779.6 L554.2 1781.1 L554.1 1782.5 L554.1 1783.9 L554 1785.4 L553.8 1787 L553.7 1788.7 L553.6 1790.4 L553.5 1792.2 L553.4 1793.8 L553.3 1795.4 L553.3 1796.9 L553.4 1798.1 L553.5 1799 L553.5 1799 L553.9 1798.1 L554.3 1797 L554.7 1795.6 L555.2 1794.1 L555.6 1792.5 L556 1790.7 L556.4 1789 L556.6 1787.3 L556.8 1785.6 L556.9 1784.1 L556.9 1782.6 L556.9 1781 L556.7 1779.5 L556.5 1778 L556.3 1776.5 L556 1775.1 L555.7 1773.8 L555.4 1772.7 L555.2 1771.7 L554.9 1771Z" fill="#555" opacity="0.9"/><ellipse transform="translate(550.3 1818.3) rotate(20)" rx="1.8" ry="3" fill="#888"/><ellipse transform="translate(540.6 1834.3) rotate(40)" rx="2.8" ry="4.8" fill="#4a4a4a"/><path d="M579.4 1836.5 L578.4 1837.4 L578 1838.4 L577.8 1839.6 L577.7 1840.8 L577.7 1842.1 L577.8 1843.5 L577.9 1844.9 L578.1 1846.3 L578.3 1847.6 L578.6 1848.9 L579 1850.1 L579.4 1851.4 L579.9 1852.7 L580.4 1854 L581.1 1855.3 L581.7 1856.5 L582.4 1857.5 L583.2 1858.4 L583.9 1859.2 L585.3 1859.5 L585.3 1859.5 L586.3 1858.5 L586.5 1857.4 L586.6 1856.3 L586.6 1855 L586.6 1853.7 L586.4 1852.3 L586.2 1850.9 L586 1849.6 L585.7 1848.3 L585.4 1847.1 L585.1 1846 L584.7 1844.7 L584.3 1843.5 L583.8 1842.2 L583.3 1840.9 L582.7 1839.7 L582.1 1838.6 L581.4 1837.7 L580.7 1836.9 L579.4 1836.5Z" fill="#666"/><path d="M579.4 1836.5 L578.8 1837.3 L578.6 1838.3 L578.4 1839.4 L578.4 1840.7 L578.4 1842 L578.4 1843.4 L578.6 1844.8 L578.8 1846.1 L579 1847.5 L579.3 1848.7 L579.6 1849.9 L580.1 1851.2 L580.5 1852.5 L581.1 1853.8 L581.7 1855.1 L582.4 1856.3 L583 1857.3 L583.7 1858.3 L584.4 1859 L585.3 1859.5 L585.3 1859.5 L585.8 1858.6 L586 1857.6 L586 1856.4 L586 1855.2 L585.9 1853.9 L585.8 1852.5 L585.5 1851.1 L585.3 1849.8 L585 1848.5 L584.7 1847.3 L584.4 1846.1 L584 1844.9 L583.6 1843.6 L583.1 1842.3 L582.6 1841.1 L582.1 1839.9 L581.5 1838.8 L580.9 1837.8 L580.3 1837 L579.4 1836.5Z" fill="#2a2a2a" opacity="0.55"/><path d="M579.4 1836.5 L579.3 1837.2 L579.3 1838.2 L579.3 1839.2 L579.4 1840.5 L579.5 1841.7 L579.7 1843.1 L579.9 1844.5 L580.1 1845.8 L580.4 1847.1 L580.6 1848.3 L581 1849.6 L581.4 1850.8 L581.8 1852.2 L582.3 1853.5 L582.8 1854.8 L583.4 1856 L583.9 1857.1 L584.4 1858.1 L584.8 1858.9 L585.3 1859.5 L585.3 1859.5 L585.4 1858.7 L585.3 1857.8 L585.2 1856.7 L585 1855.5 L584.8 1854.2 L584.5 1852.8 L584.3 1851.5 L584 1850.1 L583.7 1848.8 L583.4 1847.7 L583 1846.5 L582.7 1845.2 L582.3 1843.9 L581.9 1842.6 L581.5 1841.3 L581 1840.1 L580.6 1839 L580.2 1838 L579.8 1837.1 L579.4 1836.5Z" fill="#2a2a2a" opacity="0.9"/><ellipse transform="translate(567.4 1860) rotate(0)" rx="6.5" ry="6" fill="#7a7a7a"/><path d="M566 1862 L563.8 1863 L563 1864.4 L562.4 1865.9 L561.9 1867.4 L561.5 1868.8 L561.1 1870.4 L560.9 1871.9 L560.8 1873.4 L560.8 1875 L562.3 1877 L562.3 1877 L564.5 1876 L565.3 1874.6 L565.9 1873.1 L566.4 1871.6 L566.8 1870.2 L567.2 1868.6 L567.4 1867.1 L567.5 1865.6 L567.5 1864 L566 1862Z" fill="#555"/><path d="M548 1863 L546.9 1864.9 L546.9 1866.2 L547.1 1867.4 L547.5 1868.5 L548 1869.6 L548.6 1870.6 L549.2 1871.6 L550.1 1872.5 L551.1 1873.3 L553.3 1873.5 L553.3 1873.5 L554.4 1871.6 L554.4 1870.3 L554.2 1869.1 L553.8 1868 L553.3 1866.9 L552.7 1865.9 L552.1 1864.9 L551.2 1864 L550.2 1863.2 L548 1863Z" fill="#4a4a4a"/></g>
<line x1="223.7" y1="1462" x2="223.7" y2="1877" stroke="#4a4aff" stroke-width="2.6"/>
<line x1="223.7" y1="1462" x2="223.7" y2="1470.6" stroke="#2020f0" stroke-width="2.4"/>
<path d="M223.7 1430.7 L213.3 1462 L234.1 1462Z" fill="#0000ee"/>
<line x1="223" y1="1877" x2="640" y2="1877" stroke="#2f9f2f" stroke-width="1.8"/>
<path d="M671 1877 L638 1867 L638 1887Z" fill="#0a860a"/>
<text class="mo" x="232.5" y="1877.5" font-size="13" letter-spacing="0.5" fill="#ee1010">A(AxialRatioValue)</text>
<circle cx="223" cy="1877" r="10" fill="url(#dot)"/>
<text class="sb" transform="translate(201.5 1657) rotate(-90)" text-anchor="middle" font-size="36" fill="#0000cd">Phi (Φ°)</text>
<text class="sb" transform="translate(424.7 1908) scale(1.045 1)" text-anchor="middle" font-size="34.5" fill="#0b7a35">Theta (θ°)</text>
<defs>
<clipPath id="cl0"><rect x="770.4" y="35.4" width="394.2" height="410.3"/></clipPath>
<pattern id="hl0" patternUnits="userSpaceOnUse" x="770.4" y="37" width="10" height="4.6200"><rect x="0" y="0" width="10" height="2.125" fill="#000" opacity="0.275"/><rect x="0" y="0.416" width="10" height="1.294" fill="#000" opacity="0.341"/></pattern>
<pattern id="vl0" patternUnits="userSpaceOnUse" x="770" y="35.4" width="6.5559" height="10"><rect x="0" y="0" width="2" height="10" fill="#000" opacity="0.2"/><rect x="2.732" y="0" width="1" height="10" fill="#000" opacity="0.09000000000000001"/><rect x="4.808" y="0" width="1" height="10" fill="#000" opacity="0.09000000000000001"/></pattern>
<linearGradient id="bg0" gradientUnits="userSpaceOnUse" x1="770.4" y1="0" x2="1164.6" y2="0"><stop offset="0.000" stop-color="#000" stop-opacity="0.2"/><stop offset="0.067" stop-color="#000" stop-opacity="0.17"/><stop offset="0.139" stop-color="#000" stop-opacity="0.08"/><stop offset="0.194" stop-color="#000" stop-opacity="0.03"/><stop offset="0.250" stop-color="#000" stop-opacity="0.1"/><stop offset="0.289" stop-color="#000" stop-opacity="0.19"/><stop offset="0.333" stop-color="#000" stop-opacity="0.12"/><stop offset="0.389" stop-color="#000" stop-opacity="0.06"/><stop offset="0.456" stop-color="#000" stop-opacity="0.17"/><stop offset="0.500" stop-color="#000" stop-opacity="0.08"/><stop offset="0.567" stop-color="#000" stop-opacity="0.02"/><stop offset="0.622" stop-color="#000" stop-opacity="0.05"/><stop offset="0.694" stop-color="#000" stop-opacity="0.12"/><stop offset="0.750" stop-color="#000" stop-opacity="0.09"/><stop offset="0.806" stop-color="#000" stop-opacity="0.17"/><stop offset="0.861" stop-color="#000" stop-opacity="0.07"/><stop offset="0.906" stop-color="#000" stop-opacity="0.04"/><stop offset="0.944" stop-color="#000" stop-opacity="0.13"/><stop offset="1.000" stop-color="#000" stop-opacity="0.22"/></linearGradient>
</defs>
<g clip-path="url(#cl0)">
<rect x="770.4" y="35.4" width="394.2" height="410.3" fill="#e6e6e6"/>
<rect x="770.4" y="35.4" width="394.2" height="410.3" fill="url(#bg0)"/>
<path d="M785.5 190 L782.8 191.3 L781.7 193.2 L780.8 195.4 L780 198 L779.4 200.7 L778.8 203.6 L778.3 206.6 L777.8 209.6 L777.4 212.5 L777 215.4 L776.7 218.1 L776.4 220.9 L776.1 223.7 L775.9 226.6 L775.6 229.5 L775.4 232.4 L775.2 235.4 L775 238.4 L774.8 241.4 L774.7 244.4 L774.6 247.6 L774.5 251.1 L774.5 254.7 L774.5 258.4 L774.5 262 L774.6 265.5 L774.8 268.7 L775 271.6 L775.3 274 L776 276 L776 276 L777.1 274.2 L778 271.9 L778.8 269.1 L779.7 266 L780.5 262.6 L781.4 259.1 L782.2 255.6 L782.9 252 L783.7 248.7 L784.3 245.6 L784.9 242.6 L785.4 239.7 L786 236.7 L786.5 233.8 L787 230.9 L787.5 228 L787.9 225.1 L788.3 222.3 L788.7 219.4 L789 216.6 L789.2 213.8 L789.4 210.8 L789.5 207.7 L789.6 204.6 L789.6 201.7 L789.4 198.8 L789.1 196.2 L788.7 193.8 L788 191.8 L785.5 190Z" fill="#000" opacity="0.85" filter="url(#b3)"/><path d="M810.5 226 L811.2 224.5 L812 222.6 L812.8 220.2 L813.6 217.6 L814.5 214.9 L815.4 212 L816.3 209 L817.2 206.2 L818.1 203.5 L818.9 201 L819.7 198.7 L820.6 196.5 L821.4 194.3 L822.3 192 L823.2 189.8 L824 187.4 L824.9 185 L825.7 182.4 L826.5 179.7 L827.3 176.8 L828 173.7 L828.6 170.2 L829.2 166.5 L829.6 162.6 L829.8 158.8 L829.9 155 L829.8 151.4 L829.5 148.2 L828.9 145.4 L827.5 143 L827.5 143 L825.2 144.5 L823.5 146.8 L821.7 149.5 L820.1 152.7 L818.5 156.1 L817 159.7 L815.7 163.3 L814.5 166.9 L813.5 170.2 L812.7 173.2 L812 175.9 L811.4 178.5 L810.8 181 L810.3 183.5 L809.8 186 L809.3 188.5 L808.9 191 L808.6 193.6 L808.3 196.3 L808.1 199 L808 201.9 L808.1 204.9 L808.2 208.1 L808.4 211.2 L808.7 214.3 L809 217.2 L809.4 219.9 L809.7 222.3 L810.1 224.4 L810.5 226Z" fill="#000" opacity="0.9" filter="url(#b3)"/><path d="M1047 98 L1044.3 100.5 L1043.4 102.4 L1042.8 104.4 L1042.5 106.5 L1042.4 108.7 L1042.4 110.9 L1042.6 113.2 L1043 115.4 L1043.5 117.5 L1044 119.6 L1044.7 121.5 L1045.4 123.3 L1046.2 125.1 L1047.1 126.8 L1048 128.5 L1048.9 130.1 L1049.9 131.7 L1051 133.1 L1052.1 134.6 L1053.2 136 L1054.6 137.5 L1056.1 139 L1057.9 140.6 L1059.8 142 L1061.8 143.4 L1064 144.5 L1066.2 145.4 L1068.5 145.9 L1071.1 146 L1076 144 L1076 144 L1079.6 140.1 L1080.4 137.7 L1080.8 135.3 L1080.7 132.9 L1080.4 130.5 L1079.9 128.2 L1079.3 125.9 L1078.5 123.7 L1077.6 121.8 L1076.8 120 L1075.8 118.3 L1074.8 116.7 L1073.8 115.2 L1072.7 113.8 L1071.7 112.4 L1070.6 111.1 L1069.4 109.8 L1068.3 108.7 L1067.1 107.5 L1066 106.4 L1064.7 105.3 L1063.3 104.1 L1061.8 102.9 L1060.1 101.6 L1058.4 100.4 L1056.6 99.3 L1054.7 98.4 L1052.8 97.6 L1050.7 97.2 L1047 98Z" fill="#000" opacity="0.92" filter="url(#b3)"/><path d="M1120 285 L1120.6 282.6 L1121.5 279.6 L1122.5 276 L1123.7 272 L1125 267.7 L1126.4 263.2 L1127.8 258.6 L1129.2 254.1 L1130.6 249.8 L1131.8 245.8 L1133 242 L1134.2 238.2 L1135.3 234.4 L1136.4 230.6 L1137.5 226.8 L1138.5 223.1 L1139.4 219.3 L1140.3 215.6 L1141.1 212 L1141.9 208.4 L1142.5 204.7 L1143.1 200.8 L1143.6 196.8 L1143.9 192.7 L1144 188.7 L1144 184.9 L1143.7 181.4 L1143.3 178.2 L1142.6 175.4 L1141 173 L1141 173 L1138.7 174.6 L1137 177 L1135.4 179.8 L1133.8 183 L1132.3 186.5 L1131 190.2 L1129.8 194.1 L1128.8 198 L1127.9 201.9 L1127.1 205.6 L1126.5 209.3 L1125.9 213 L1125.5 216.8 L1125 220.6 L1124.6 224.5 L1124.3 228.4 L1124 232.3 L1123.7 236.2 L1123.4 240.2 L1123.2 244.2 L1122.9 248.4 L1122.6 252.9 L1122.3 257.6 L1122 262.4 L1121.6 267.1 L1121.3 271.6 L1120.9 275.7 L1120.6 279.4 L1120.3 282.6 L1120 285Z" fill="#000" opacity="0.9" filter="url(#b3)"/><path d="M1137 192 L1135.3 193.8 L1135.1 195.5 L1135 197.4 L1135.2 199.5 L1135.6 201.7 L1136.1 204 L1136.7 206.4 L1137.3 208.7 L1138.1 211 L1138.8 213.2 L1139.6 215.5 L1140.6 218.1 L1141.7 220.7 L1142.8 223.4 L1144 226.1 L1145.2 228.6 L1146.4 231 L1147.6 233.1 L1148.7 234.8 L1150 236 L1150 236 L1150.4 234.3 L1150.5 232.3 L1150.3 229.9 L1150.1 227.2 L1149.7 224.4 L1149.3 221.5 L1148.8 218.6 L1148.3 215.8 L1147.8 213.2 L1147.2 210.8 L1146.6 208.5 L1146 206.1 L1145.2 203.8 L1144.4 201.5 L1143.5 199.3 L1142.6 197.3 L1141.6 195.4 L1140.5 193.8 L1139.4 192.6 L1137 192Z" fill="#000" opacity="0.6" filter="url(#b3)"/><path d="M1162.5 282 L1163.6 280.7 L1164.4 279.1 L1165.1 277.1 L1165.8 274.9 L1166.4 272.5 L1166.9 270 L1167.4 267.5 L1167.7 264.9 L1167.9 262.4 L1168 260.1 L1168 257.8 L1167.9 255.3 L1167.7 252.7 L1167.4 250.1 L1167 247.6 L1166.5 245.2 L1165.9 243 L1165.3 241 L1164.6 239.3 L1163.5 238 L1163.5 238 L1162.4 239.3 L1161.7 241 L1161.1 243 L1160.6 245.2 L1160.1 247.6 L1159.7 250.2 L1159.4 252.7 L1159.2 255.2 L1159.1 257.6 L1159 259.9 L1159 262.2 L1159 264.6 L1159.1 267.1 L1159.3 269.7 L1159.6 272.2 L1159.9 274.6 L1160.4 276.9 L1160.9 278.9 L1161.5 280.6 L1162.5 282Z" fill="#000" opacity="0.85" filter="url(#b2)"/><path d="M872.5 292 L867.2 293.1 L865.6 294.7 L864.4 296.6 L863.5 298.9 L862.7 301.5 L862.2 304.3 L861.8 307.3 L861.7 310.4 L861.8 313.6 L862.2 316.7 L862.7 319.7 L863.5 322.7 L864.4 325.6 L865.4 328.5 L866.6 331.3 L867.8 334.1 L869.1 336.8 L870.5 339.4 L871.8 341.9 L873.3 344.3 L874.8 346.8 L876.6 349.3 L878.4 351.8 L880.4 354.1 L882.4 356.3 L884.4 358.3 L886.3 360.1 L888.2 361.6 L890 362.7 L892.5 363 L892.5 363 L893.6 360.7 L893.6 358.5 L893.3 356.2 L892.8 353.6 L892.2 350.9 L891.5 348.2 L890.7 345.4 L890 342.7 L889.3 340.1 L888.7 337.7 L888.1 335.2 L887.5 332.7 L886.8 330 L886.2 327.4 L885.5 324.8 L884.9 322.3 L884.3 319.8 L883.7 317.5 L883.2 315.3 L882.8 313.3 L882.5 311.4 L882.2 309.3 L881.9 307 L881.6 304.7 L881.2 302.2 L880.7 299.9 L880 297.6 L879.1 295.5 L877.7 293.6 L872.5 292Z" fill="#000" opacity="0.92" filter="url(#b3)"/><path d="M871 308 L868.9 308.1 L867.8 308.7 L866.7 309.5 L865.8 310.6 L865 311.7 L864.2 313 L863.6 314.4 L863 315.8 L862.6 317.3 L862.3 318.7 L862 320.1 L861.9 321.7 L861.8 323.3 L861.8 324.9 L861.9 326.5 L862.1 328.1 L862.4 329.5 L862.7 330.9 L863.2 332 L864 333 L864 333 L865.2 332.4 L866.1 331.6 L866.9 330.5 L867.8 329.3 L868.6 328 L869.3 326.6 L870.1 325.2 L870.7 323.8 L871.3 322.5 L871.7 321.3 L872.1 320.1 L872.6 318.9 L872.9 317.5 L873.2 316.1 L873.4 314.6 L873.5 313.2 L873.4 311.9 L873.1 310.6 L872.6 309.4 L871 308Z" fill="#000" opacity="0.6" filter="url(#b3)"/>
<rect x="770.4" y="35.4" width="394.2" height="410.3" fill="url(#hl0)"/>
<rect x="770.4" y="35.4" width="394.2" height="410.3" fill="url(#vl0)"/>
<path d="M881.9 35.4v410.3M1128.8 35.4v410.3" stroke="#fff" stroke-width="2.2" opacity="0.15" fill="none"/>
<path d="M853.4 35.4v410.3M879.7 35.4v410.3M884 35.4v410.3M886.2 35.4v410.3M938.7 35.4v410.3M951.8 35.4v410.3M954 35.4v410.3M1058.9 35.4v410.3M1082.9 35.4v410.3M1087.3 35.4v410.3M1120 35.4v410.3M1122.2 35.4v410.3M1124.4 35.4v410.3M1131 35.4v410.3" stroke="#fff" stroke-width="2.2" opacity="0.1" fill="none"/>
<path d="M807.6 35.4v410.3M814.1 35.4v410.3M818.5 35.4v410.3M875.3 35.4v410.3M877.5 35.4v410.3M890.6 35.4v410.3M897.1 35.4v410.3M921.2 35.4v410.3M932.1 35.4v410.3M936.5 35.4v410.3M949.6 35.4v410.3M997.7 35.4v410.3M1023.9 35.4v410.3M1047.9 35.4v410.3M1050.1 35.4v410.3M1056.7 35.4v410.3M1061 35.4v410.3M1063.2 35.4v410.3M1065.4 35.4v410.3M1085.1 35.4v410.3M1089.5 35.4v410.3M1106.9 35.4v410.3M1109.1 35.4v410.3M1117.9 35.4v410.3M1146.3 35.4v410.3M1148.5 35.4v410.3M1161.6 35.4v410.3" stroke="#fff" stroke-width="2.2" opacity="0.05" fill="none"/>
<path d="M772.6 35.4v410.3M787.9 35.4v410.3M792.3 35.4v410.3M794.4 35.4v410.3M822.8 35.4v410.3M827.2 35.4v410.3M829.4 35.4v410.3M833.8 35.4v410.3M836 35.4v410.3M855.6 35.4v410.3M857.8 35.4v410.3M860 35.4v410.3M862.2 35.4v410.3M864.4 35.4v410.3M866.6 35.4v410.3M868.7 35.4v410.3M873.1 35.4v410.3M892.8 35.4v410.3M908.1 35.4v410.3M912.4 35.4v410.3M927.7 35.4v410.3M929.9 35.4v410.3M943 35.4v410.3M945.2 35.4v410.3M956.2 35.4v410.3M967.1 35.4v410.3M969.3 35.4v410.3M971.4 35.4v410.3M980.2 35.4v410.3M982.4 35.4v410.3M993.3 35.4v410.3M995.5 35.4v410.3M1006.4 35.4v410.3M1008.6 35.4v410.3M1010.8 35.4v410.3M1015.2 35.4v410.3M1017.3 35.4v410.3M1019.5 35.4v410.3M1021.7 35.4v410.3M1030.5 35.4v410.3M1032.6 35.4v410.3M1034.8 35.4v410.3M1039.2 35.4v410.3M1041.4 35.4v410.3M1043.6 35.4v410.3M1045.7 35.4v410.3M1054.5 35.4v410.3M1067.6 35.4v410.3M1069.8 35.4v410.3M1072 35.4v410.3M1078.5 35.4v410.3M1135.3 35.4v410.3M1159.4 35.4v410.3" stroke="#000" stroke-width="2.2" opacity="0.05" fill="none"/>
<path d="M798.8 35.4v410.3M801 35.4v410.3M838.1 35.4v410.3M842.5 35.4v410.3M844.7 35.4v410.3M870.9 35.4v410.3M888.4 35.4v410.3M973.6 35.4v410.3M986.7 35.4v410.3M1004.2 35.4v410.3M1013 35.4v410.3M1091.6 35.4v410.3M1093.8 35.4v410.3M1157.2 35.4v410.3" stroke="#000" stroke-width="2.2" opacity="0.1" fill="none"/>
<path d="M781.3 35.4v410.3M796.6 35.4v410.3M831.6 35.4v410.3M840.3 35.4v410.3M851.3 35.4v410.3M984.6 35.4v410.3M988.9 35.4v410.3M1026.1 35.4v410.3M1098.2 35.4v410.3M1100.4 35.4v410.3M1102.6 35.4v410.3" stroke="#000" stroke-width="2.2" opacity="0.15" fill="none"/>
<path d="M901.5 35.4v410.3M1163.8 35.4v410.3" stroke="#000" stroke-width="2.2" opacity="0.2" fill="none"/>
<path d="M849.1 35.4v410.3M895 35.4v410.3M916.8 35.4v410.3M991.1 35.4v410.3" stroke="#000" stroke-width="2.2" opacity="0.25" fill="none"/>
<path d="M774.8 35.4v410.3M1028.3 35.4v410.3M1104.8 35.4v410.3" stroke="#000" stroke-width="2.2" opacity="0.3" fill="none"/>
<path d="M1096 35.4v410.3" stroke="#000" stroke-width="2.2" opacity="0.35" fill="none"/>
<rect x="874.6" y="35.4" width="1.8" height="410.3" fill="#000" opacity="0.5"/>
<rect x="888.1" y="35.4" width="1.8" height="410.3" fill="#000" opacity="0.55"/>
<rect x="949.6" y="35.4" width="1.8" height="410.3" fill="#000" opacity="0.55"/>
<rect x="1086.1" y="35.4" width="1.8" height="410.3" fill="#000" opacity="0.55"/>
<rect x="1147.6" y="35.4" width="1.8" height="410.3" fill="#000" opacity="0.45"/>
<rect x="1152.1" y="35.4" width="1.8" height="410.3" fill="#000" opacity="0.4"/>
<rect x="804.1" y="35.4" width="1.8" height="410.3" fill="#000" opacity="0.2"/>
<rect x="1033.1" y="35.4" width="1.8" height="410.3" fill="#000" opacity="0.2"/>
<rect x="1061.1" y="35.4" width="1.8" height="410.3" fill="#000" opacity="0.15"/>
<rect x="1131.1" y="35.4" width="1.8" height="410.3" fill="#000" opacity="0.25"/>
<rect x="922.1" y="35.4" width="1.8" height="410.3" fill="#000" opacity="0.15"/>
<rect x="985.1" y="35.4" width="1.8" height="410.3" fill="#000" opacity="0.15"/>
<rect x="770.4" y="51" width="394.2" height="1.76" fill="#000" opacity="0.5225"/>
<rect x="770.4" y="64.9" width="394.2" height="1.76" fill="#000" opacity="0.2375"/>
<rect x="770.4" y="115.7" width="394.2" height="1.76" fill="#000" opacity="0.33249999999999996"/>
<rect x="770.4" y="129.6" width="394.2" height="1.76" fill="#000" opacity="0.475"/>
<rect x="770.4" y="217.4" width="394.2" height="1.76" fill="#000" opacity="0.5225"/>
<rect x="770.4" y="305.1" width="394.2" height="1.76" fill="#000" opacity="0.5225"/>
<rect x="770.4" y="309.8" width="394.2" height="1.76" fill="#000" opacity="0.4275"/>
<rect x="770.4" y="397.5" width="394.2" height="1.76" fill="#000" opacity="0.57"/>
<rect x="770.4" y="406.8" width="394.2" height="1.76" fill="#000" opacity="0.285"/>
<rect x="770.4" y="258.9" width="394.2" height="1.76" fill="#000" opacity="0.1425"/>
<rect x="770.4" y="166.5" width="394.2" height="1.76" fill="#000" opacity="0.1425"/>
<rect x="770.4" y="351.3" width="394.2" height="1.76" fill="#000" opacity="0.1425"/>
<rect x="770.4" y="35.4" width="394.2" height="1.6" fill="#000" opacity="0.35"/>
<rect x="770.4" y="35.4" width="1.4" height="410.3" fill="#000" opacity="0.3"/>
</g>
<line x1="768.7" y1="450" x2="1170.7" y2="450" stroke="#8a8a8a" stroke-width="1.6"/>
<rect x="768.5" y="35.4" width="2" height="414.6" fill="#a0a0a0"/>
<line x1="878.6" y1="450" x2="878.6" y2="446" stroke="#777" stroke-width="1.2"/>
<line x1="987.8" y1="450" x2="987.8" y2="446" stroke="#777" stroke-width="1.2"/>
<line x1="1097.1" y1="450" x2="1097.1" y2="446" stroke="#777" stroke-width="1.2"/>
<text class="sa" x="769" y="474" text-anchor="middle" font-size="16.8" fill="#555">0</text>
<text class="sa" x="878.3" y="474" text-anchor="middle" font-size="16.8" fill="#555">50</text>
<text class="sa" x="987.5" y="474" text-anchor="middle" font-size="16.8" fill="#555">100</text>
<text class="sa" x="1096.8" y="474" text-anchor="middle" font-size="16.8" fill="#555">150</text>
<text class="sa" x="763.3" y="457.3" text-anchor="end" font-size="16.8" fill="#555">0</text>
<text class="sa" x="763.3" y="411.3" text-anchor="end" font-size="16.8" fill="#555">10</text>
<text class="sa" x="763.3" y="365.3" text-anchor="end" font-size="16.8" fill="#555">20</text>
<text class="sa" x="763.3" y="319.3" text-anchor="end" font-size="16.8" fill="#555">30</text>
<text class="sa" x="763.3" y="273.3" text-anchor="end" font-size="16.8" fill="#555">40</text>
<text class="sa" x="763.3" y="227.3" text-anchor="end" font-size="16.8" fill="#555">50</text>
<text class="sa" x="763.3" y="181.3" text-anchor="end" font-size="16.8" fill="#555">60</text>
<text class="sa" x="763.3" y="135.3" text-anchor="end" font-size="16.8" fill="#555">70</text>
<text class="sa" x="763.3" y="89.3" text-anchor="end" font-size="16.8" fill="#555">80</text>
<text class="sa" x="763.3" y="43.3" text-anchor="end" font-size="16.8" fill="#555">90</text>
<text class="sb" transform="translate(723 231) rotate(-90)" text-anchor="middle" font-size="36" fill="#000">Phi (Φ°)</text>
<text class="sb" transform="translate(965.5 500.6) scale(1.045 1)" text-anchor="middle" font-size="34.5" fill="#000">Theta (θ°)</text>
<text class="sb" x="1286" y="269" text-anchor="middle" font-size="64" fill="#000">4 GHz</text>
<defs>
<clipPath id="cl1"><rect x="767.5" y="512" width="396.5" height="411.6"/></clipPath>
<pattern id="hl1" patternUnits="userSpaceOnUse" x="767.5" y="513.6" width="10" height="4.6200"><rect x="0" y="0" width="10" height="2.125" fill="#000" opacity="0.275"/><rect x="0" y="0.416" width="10" height="1.294" fill="#000" opacity="0.341"/></pattern>
<pattern id="vl1" patternUnits="userSpaceOnUse" x="767.1" y="512" width="6.6000" height="10"><rect x="0" y="0" width="2" height="10" fill="#000" opacity="0.36"/><rect x="2.750" y="0" width="1" height="10" fill="#000" opacity="0.162"/><rect x="4.840" y="0" width="1" height="10" fill="#000" opacity="0.162"/></pattern>
<linearGradient id="bg1" gradientUnits="userSpaceOnUse" x1="767.5" y1="0" x2="1164" y2="0"><stop offset="0.000" stop-color="#000" stop-opacity="0.14"/><stop offset="0.050" stop-color="#000" stop-opacity="0.2"/><stop offset="0.100" stop-color="#000" stop-opacity="0.24"/><stop offset="0.172" stop-color="#000" stop-opacity="0"/><stop offset="0.233" stop-color="#000" stop-opacity="0.24"/><stop offset="0.272" stop-color="#000" stop-opacity="0.2"/><stop offset="0.300" stop-color="#000" stop-opacity="0.03"/><stop offset="0.328" stop-color="#000" stop-opacity="0.06"/><stop offset="0.389" stop-color="#000" stop-opacity="0.24"/><stop offset="0.428" stop-color="#000" stop-opacity="0.1"/><stop offset="0.500" stop-color="#000" stop-opacity="0"/><stop offset="0.572" stop-color="#000" stop-opacity="0.03"/><stop offset="0.600" stop-color="#000" stop-opacity="0.2"/><stop offset="0.639" stop-color="#000" stop-opacity="0.1"/><stop offset="0.689" stop-color="#000" stop-opacity="0.03"/><stop offset="0.750" stop-color="#000" stop-opacity="0.03"/><stop offset="0.778" stop-color="#000" stop-opacity="0.03"/><stop offset="0.850" stop-color="#000" stop-opacity="0.14"/><stop offset="0.911" stop-color="#000" stop-opacity="0.03"/><stop offset="0.950" stop-color="#000" stop-opacity="0"/><stop offset="0.978" stop-color="#000" stop-opacity="0.03"/><stop offset="1.000" stop-color="#000" stop-opacity="0.2"/></linearGradient>
</defs>
<g clip-path="url(#cl1)">
<rect x="767.5" y="512" width="396.5" height="411.6" fill="#f2f2f2"/>
<rect x="767.5" y="512" width="396.5" height="411.6" fill="url(#bg1)"/>
<path d="M875.5 700 L875.8 697.9 L876.3 695.2 L876.7 692.1 L877.3 688.5 L877.9 684.7 L878.7 680.7 L879.5 676.7 L880.4 672.7 L881.3 669 L882.4 665.6 L883.5 662.4 L884.8 659.2 L886.2 656.1 L887.6 653 L889.1 649.9 L890.7 646.7 L892.3 643.6 L894 640.4 L895.7 637.2 L897.4 634 L899.1 630.7 L900.8 627.4 L902.6 624.1 L904.5 620.7 L906.3 617.3 L908.2 613.8 L910 610.4 L911.6 607 L913.2 603.6 L914.7 600.3 L916.1 596.9 L917.4 593.4 L918.7 589.9 L919.8 586.3 L920.9 582.8 L921.8 579.5 L922.5 576.4 L923 573.6 L923.3 571.2 L923 569 L923 569 L921.2 570.2 L919.6 572.1 L917.9 574.4 L916.1 577 L914.2 579.9 L912.4 583 L910.5 586.2 L908.7 589.4 L907 592.6 L905.3 595.7 L903.6 598.8 L901.9 602 L900.2 605.4 L898.4 608.8 L896.7 612.2 L894.9 615.8 L893.2 619.3 L891.6 622.9 L890.1 626.5 L888.6 630 L887.3 633.4 L886 636.8 L884.7 640.2 L883.5 643.6 L882.3 647 L881.2 650.4 L880.1 653.9 L879.2 657.4 L878.3 660.9 L877.6 664.4 L877.1 668.1 L876.6 672.1 L876.3 676.2 L876.1 680.4 L875.9 684.5 L875.8 688.4 L875.8 692 L875.7 695.2 L875.6 697.9 L875.5 700Z" fill="#000" opacity="0.92" filter="url(#b2)"/><path d="M1018.5 801 L1021.3 802.2 L1023 801.8 L1024.7 801 L1026.6 799.9 L1028.4 798.6 L1030.3 797.2 L1032.2 795.7 L1034 794.2 L1035.8 792.6 L1037.3 791.2 L1038.7 789.8 L1040.1 788.5 L1041.5 787.2 L1042.8 785.8 L1044.2 784.4 L1045.6 782.8 L1047.1 781.2 L1048.5 779.4 L1049.8 777.4 L1051.2 775.4 L1052.5 773.2 L1053.8 770.9 L1055.1 768.5 L1056.3 766 L1057.6 763.4 L1058.7 760.8 L1059.9 758.1 L1060.9 755.4 L1062 752.6 L1062.9 749.9 L1063.8 747.1 L1064.6 744.2 L1065.4 741.2 L1066.1 738.2 L1066.8 735.2 L1067.4 732.3 L1067.9 729.3 L1068.4 726.4 L1068.9 723.5 L1069.3 720.7 L1069.7 717.9 L1070 714.9 L1070.2 711.9 L1070.4 708.9 L1070.5 706 L1070.6 703.3 L1070.6 700.8 L1070.5 698.5 L1070.4 696.6 L1070 695 L1070 695 L1069.2 696.4 L1068.5 698.2 L1067.9 700.4 L1067.2 702.8 L1066.5 705.5 L1065.8 708.2 L1065 711.1 L1064.3 713.9 L1063.5 716.6 L1062.7 719.3 L1061.9 721.9 L1061 724.6 L1060.1 727.3 L1059.2 730.1 L1058.2 732.9 L1057.3 735.6 L1056.2 738.4 L1055.2 741 L1054.2 743.6 L1053.1 746.1 L1052 748.6 L1050.8 751 L1049.6 753.4 L1048.3 755.8 L1047.1 758.2 L1045.8 760.5 L1044.5 762.7 L1043.2 764.8 L1042 766.8 L1040.8 768.6 L1039.6 770.3 L1038.5 771.8 L1037.4 773.2 L1036.2 774.6 L1035.1 775.9 L1033.9 777.2 L1032.6 778.5 L1031.3 779.9 L1030 781.3 L1028.7 782.8 L1027.3 784.4 L1025.9 786 L1024.4 787.7 L1022.9 789.5 L1021.4 791.3 L1020.1 793 L1018.9 794.8 L1018 796.4 L1017.4 798.1 L1018.5 801Z" fill="#000" opacity="0.92" filter="url(#b2)"/><ellipse transform="translate(881.7 873) rotate(0)" rx="2" ry="7" fill="#000" opacity="0.8999999999999999" filter="url(#b05)"/><ellipse transform="translate(893 883) rotate(25)" rx="2.3" ry="6" fill="#000" opacity="0.55" filter="url(#b05)"/><ellipse transform="translate(777 728) rotate(0)" rx="3" ry="21" fill="#000" opacity="0.3" filter="url(#b2)"/><ellipse transform="translate(1152.5 564) rotate(0)" rx="2.3" ry="14" fill="#000" opacity="0.55" filter="url(#b05)"/>
<rect x="767.5" y="512" width="396.5" height="411.6" fill="url(#hl1)"/>
<rect x="767.5" y="512" width="396.5" height="411.6" fill="url(#vl1)"/>
<path d="M906.1 512v411.6M1082.1 512v411.6M1095.3 512v411.6" stroke="#fff" stroke-width="2.2" opacity="0.15" fill="none"/>
<path d="M842.3 512v411.6M857.7 512v411.6M901.7 512v411.6M903.9 512v411.6M910.5 512v411.6M921.5 512v411.6M939.1 512v411.6M941.3 512v411.6M943.5 512v411.6M978.7 512v411.6M980.9 512v411.6M1013.9 512v411.6M1077.7 512v411.6M1079.9 512v411.6M1086.5 512v411.6M1088.7 512v411.6M1090.9 512v411.6M1093.1 512v411.6" stroke="#fff" stroke-width="2.2" opacity="0.1" fill="none"/>
<path d="M796.1 512v411.6M815.9 512v411.6M820.3 512v411.6M822.5 512v411.6M824.7 512v411.6M829.1 512v411.6M835.7 512v411.6M840.1 512v411.6M844.5 512v411.6M873.1 512v411.6M875.3 512v411.6M877.5 512v411.6M884.1 512v411.6M892.9 512v411.6M895.1 512v411.6M897.3 512v411.6M899.5 512v411.6M908.3 512v411.6M912.7 512v411.6M925.9 512v411.6M983.1 512v411.6M991.9 512v411.6M994.1 512v411.6M996.3 512v411.6M1002.9 512v411.6M1009.5 512v411.6M1011.7 512v411.6M1016.1 512v411.6M1035.9 512v411.6M1053.5 512v411.6M1075.5 512v411.6M1099.7 512v411.6M1130.5 512v411.6M1137.1 512v411.6" stroke="#fff" stroke-width="2.2" opacity="0.05" fill="none"/>
<path d="M767.5 512v411.6M771.9 512v411.6M778.5 512v411.6M782.9 512v411.6M787.3 512v411.6M789.5 512v411.6M804.9 512v411.6M807.1 512v411.6M826.9 512v411.6M853.3 512v411.6M868.7 512v411.6M879.7 512v411.6M881.9 512v411.6M930.3 512v411.6M947.9 512v411.6M952.3 512v411.6M965.5 512v411.6M967.7 512v411.6M969.9 512v411.6M976.5 512v411.6M1020.5 512v411.6M1022.7 512v411.6M1024.9 512v411.6M1040.3 512v411.6M1042.5 512v411.6M1046.9 512v411.6M1055.7 512v411.6M1060.1 512v411.6M1062.3 512v411.6M1066.7 512v411.6M1071.1 512v411.6M1112.9 512v411.6M1119.5 512v411.6M1121.7 512v411.6M1123.9 512v411.6M1126.1 512v411.6M1132.7 512v411.6M1143.7 512v411.6M1152.5 512v411.6M1156.9 512v411.6" stroke="#000" stroke-width="2.2" opacity="0.05" fill="none"/>
<path d="M774.1 512v411.6M776.3 512v411.6M780.7 512v411.6M800.5 512v411.6M954.5 512v411.6M958.9 512v411.6M972.1 512v411.6M1049.1 512v411.6M1051.3 512v411.6M1057.9 512v411.6M1068.9 512v411.6M1097.5 512v411.6M1115.1 512v411.6M1117.3 512v411.6M1148.1 512v411.6M1150.3 512v411.6M1163.5 512v411.6M1165.7 512v411.6" stroke="#000" stroke-width="2.2" opacity="0.1" fill="none"/>
<path d="M870.9 512v411.6M961.1 512v411.6M963.3 512v411.6M974.3 512v411.6M1154.7 512v411.6" stroke="#000" stroke-width="2.2" opacity="0.15" fill="none"/>
<path d="M866.5 512v411.6M890.7 512v411.6M956.7 512v411.6M1084.3 512v411.6M1159.1 512v411.6" stroke="#000" stroke-width="2.2" opacity="0.2" fill="none"/>
<path d="M1027.1 512v411.6" stroke="#000" stroke-width="2.2" opacity="0.25" fill="none"/>
<rect x="923.4" y="512" width="1.8" height="411.6" fill="#000" opacity="0.55"/>
<rect x="984.7" y="512" width="1.8" height="411.6" fill="#000" opacity="0.55"/>
<rect x="1045.6" y="512" width="1.8" height="411.6" fill="#000" opacity="0.6"/>
<rect x="1109" y="512" width="1.8" height="411.6" fill="#000" opacity="0.5"/>
<rect x="875.7" y="512" width="1.8" height="411.6" fill="#000" opacity="0.3"/>
<rect x="799.1" y="512" width="1.8" height="411.6" fill="#000" opacity="0.2"/>
<rect x="829.1" y="512" width="1.8" height="411.6" fill="#000" opacity="0.15"/>
<rect x="1139.1" y="512" width="1.8" height="411.6" fill="#000" opacity="0.25"/>
<rect x="1074.1" y="512" width="1.8" height="411.6" fill="#000" opacity="0.2"/>
<rect x="954.1" y="512" width="1.8" height="411.6" fill="#000" opacity="0.15"/>
<rect x="767.5" y="601.6" width="396.5" height="1.76" fill="#000" opacity="0.475"/>
<rect x="767.5" y="754" width="396.5" height="1.76" fill="#000" opacity="0.57"/>
<rect x="767.5" y="864.9" width="396.5" height="1.76" fill="#000" opacity="0.57"/>
<rect x="767.5" y="860.3" width="396.5" height="1.76" fill="#000" opacity="0.33249999999999996"/>
<rect x="767.5" y="652.4" width="396.5" height="1.76" fill="#000" opacity="0.2375"/>
<rect x="767.5" y="657" width="396.5" height="1.76" fill="#000" opacity="0.2375"/>
<rect x="767.5" y="846.4" width="396.5" height="1.76" fill="#000" opacity="0.2375"/>
<rect x="767.5" y="560" width="396.5" height="1.76" fill="#000" opacity="0.1425"/>
<rect x="767.5" y="698.6" width="396.5" height="1.76" fill="#000" opacity="0.1425"/>
<rect x="767.5" y="809.5" width="396.5" height="1.76" fill="#000" opacity="0.1425"/>
<rect x="767.5" y="512" width="396.5" height="1.6" fill="#000" opacity="0.35"/>
<rect x="767.5" y="512" width="1.4" height="411.6" fill="#000" opacity="0.3"/>
</g>
<line x1="765.5" y1="927.9" x2="1173.8" y2="927.9" stroke="#8a8a8a" stroke-width="1.6"/>
<rect x="765.3" y="512" width="2.3" height="415.9" fill="#a0a0a0"/>
<line x1="876.1" y1="927.9" x2="876.1" y2="923.9" stroke="#777" stroke-width="1.2"/>
<line x1="986.1" y1="927.9" x2="986.1" y2="923.9" stroke="#777" stroke-width="1.2"/>
<line x1="1096.1" y1="927.9" x2="1096.1" y2="923.9" stroke="#777" stroke-width="1.2"/>
<text class="sa" x="765.8" y="951.9" text-anchor="middle" font-size="16.8" fill="#555">0</text>
<text class="sa" x="875.8" y="951.9" text-anchor="middle" font-size="16.8" fill="#555">50</text>
<text class="sa" x="985.8" y="951.9" text-anchor="middle" font-size="16.8" fill="#555">100</text>
<text class="sa" x="1095.8" y="951.9" text-anchor="middle" font-size="16.8" fill="#555">150</text>
<text class="sa" x="760.1" y="935.2" text-anchor="end" font-size="16.8" fill="#555">0</text>
<text class="sa" x="760.1" y="889" text-anchor="end" font-size="16.8" fill="#555">10</text>
<text class="sa" x="760.1" y="842.8" text-anchor="end" font-size="16.8" fill="#555">20</text>
<text class="sa" x="760.1" y="796.6" text-anchor="end" font-size="16.8" fill="#555">30</text>
<text class="sa" x="760.1" y="750.4" text-anchor="end" font-size="16.8" fill="#555">40</text>
<text class="sa" x="760.1" y="704.1" text-anchor="end" font-size="16.8" fill="#555">50</text>
<text class="sa" x="760.1" y="657.9" text-anchor="end" font-size="16.8" fill="#555">60</text>
<text class="sa" x="760.1" y="611.7" text-anchor="end" font-size="16.8" fill="#555">70</text>
<text class="sa" x="760.1" y="565.5" text-anchor="end" font-size="16.8" fill="#555">80</text>
<text class="sa" x="760.1" y="519.3" text-anchor="end" font-size="16.8" fill="#555">90</text>
<text class="sb" transform="translate(723 706.7) rotate(-90)" text-anchor="middle" font-size="36" fill="#000">Phi (Φ°)</text>
<text class="sb" transform="translate(965.2 978.3) scale(1.045 1)" text-anchor="middle" font-size="34.5" fill="#000">Theta (θ°)</text>
<text class="sb" x="1286" y="761.5" text-anchor="middle" font-size="64" fill="#000">6 GHz</text>
<defs>
<clipPath id="cl2"><rect x="773.6" y="987.5" width="396.2" height="412.1"/></clipPath>
<pattern id="hl2" patternUnits="userSpaceOnUse" x="773.6" y="989.1" width="10" height="4.6200"><rect x="0" y="0" width="10" height="2.125" fill="#000" opacity="0.29"/><rect x="0" y="0.416" width="10" height="1.294" fill="#000" opacity="0.3596"/></pattern>
<pattern id="vl2" patternUnits="userSpaceOnUse" x="773.2" y="987.5" width="6.5970" height="10"><rect x="0" y="0" width="2" height="10" fill="#000" opacity="0.42"/><rect x="2.749" y="0" width="1" height="10" fill="#000" opacity="0.189"/><rect x="4.838" y="0" width="1" height="10" fill="#000" opacity="0.189"/></pattern>
<linearGradient id="bg2" gradientUnits="userSpaceOnUse" x1="773.6" y1="0" x2="1169.8" y2="0"><stop offset="0.000" stop-color="#000" stop-opacity="0.03"/><stop offset="0.050" stop-color="#000" stop-opacity="0.1"/><stop offset="0.089" stop-color="#000" stop-opacity="0.03"/><stop offset="0.117" stop-color="#000" stop-opacity="0"/><stop offset="0.156" stop-color="#000" stop-opacity="0.03"/><stop offset="0.228" stop-color="#000" stop-opacity="0.03"/><stop offset="0.289" stop-color="#000" stop-opacity="0.2"/><stop offset="0.317" stop-color="#000" stop-opacity="0.1"/><stop offset="0.378" stop-color="#000" stop-opacity="0.1"/><stop offset="0.439" stop-color="#000" stop-opacity="0.1"/><stop offset="0.511" stop-color="#000" stop-opacity="0.03"/><stop offset="0.572" stop-color="#000" stop-opacity="0"/><stop offset="0.633" stop-color="#000" stop-opacity="0.03"/><stop offset="0.661" stop-color="#000" stop-opacity="0.2"/><stop offset="0.711" stop-color="#000" stop-opacity="0.14"/><stop offset="0.772" stop-color="#000" stop-opacity="0.1"/><stop offset="0.833" stop-color="#000" stop-opacity="0.2"/><stop offset="0.861" stop-color="#000" stop-opacity="0.2"/><stop offset="0.911" stop-color="#000" stop-opacity="0"/><stop offset="0.939" stop-color="#000" stop-opacity="0.1"/><stop offset="1.000" stop-color="#000" stop-opacity="0.2"/></linearGradient>
</defs>
<g clip-path="url(#cl2)">
<rect x="773.6" y="987.5" width="396.2" height="412.1" fill="#f8f8f8"/>
<rect x="773.6" y="987.5" width="396.2" height="412.1" fill="url(#bg2)"/>
<path d="M927 1082 L926.9 1083.2 L926.8 1084.7 L926.7 1086.5 L926.7 1088.5 L926.6 1090.6 L926.6 1092.9 L926.6 1095.1 L926.6 1097.4 L926.7 1099.6 L926.8 1101.6 L926.9 1103.7 L927 1105.9 L927.2 1108.1 L927.5 1110.4 L927.8 1112.6 L928.2 1114.7 L928.5 1116.7 L929 1118.4 L929.4 1119.9 L930 1121 L930 1121 L930.4 1119.8 L930.6 1118.3 L930.8 1116.5 L930.9 1114.5 L930.9 1112.3 L930.9 1110.1 L930.8 1107.8 L930.6 1105.6 L930.4 1103.4 L930.2 1101.4 L930 1099.3 L929.7 1097.2 L929.4 1094.9 L929 1092.7 L928.7 1090.5 L928.3 1088.3 L927.9 1086.4 L927.6 1084.6 L927.3 1083.1 L927 1082Z" fill="#000" opacity="0.8" filter="url(#b05)"/><path d="M938 1059.5 L937.6 1061.3 L937.1 1063.6 L936.5 1066.4 L936 1069.5 L935.3 1072.8 L934.7 1076.3 L934.1 1079.9 L933.5 1083.4 L933 1086.8 L932.5 1090 L932.1 1093.2 L931.7 1096.7 L931.3 1100.2 L930.9 1103.8 L930.6 1107.4 L930.4 1110.7 L930.2 1113.9 L930.2 1116.7 L930.2 1119.1 L930.5 1121 L930.5 1121 L931.2 1119.2 L931.8 1116.9 L932.5 1114.2 L933.1 1111.1 L933.7 1107.7 L934.2 1104.2 L934.8 1100.7 L935.2 1097.1 L935.6 1093.7 L936 1090.5 L936.3 1087.2 L936.6 1083.8 L936.9 1080.2 L937.1 1076.6 L937.4 1073.1 L937.6 1069.7 L937.8 1066.5 L937.9 1063.7 L938 1061.4 L938 1059.5Z" fill="#000" opacity="0.85" filter="url(#b05)"/><ellipse transform="translate(931 1100) rotate(0)" rx="3.5" ry="17" fill="#000" opacity="0.45" filter="url(#b2)"/><path d="M1043 1094 L1042.5 1098 L1042.2 1103.2 L1041.9 1109.3 L1041.7 1116.1 L1041.6 1123.5 L1041.4 1131.3 L1041.3 1139.1 L1041.3 1146.9 L1041.2 1154.4 L1041.2 1161.5 L1041.2 1168.6 L1041.3 1176.1 L1041.3 1183.9 L1041.4 1191.7 L1041.6 1199.5 L1041.7 1206.9 L1041.9 1213.7 L1042.2 1219.8 L1042.5 1225 L1043 1229 L1043 1229 L1043.5 1225 L1043.8 1219.8 L1044.1 1213.7 L1044.3 1206.9 L1044.4 1199.5 L1044.6 1191.7 L1044.7 1183.9 L1044.7 1176.1 L1044.8 1168.6 L1044.8 1161.5 L1044.8 1154.4 L1044.7 1146.9 L1044.7 1139.1 L1044.6 1131.3 L1044.4 1123.5 L1044.3 1116.1 L1044.1 1109.3 L1043.8 1103.2 L1043.5 1098 L1043 1094Z" fill="#000" opacity="0.7" filter="url(#b1)"/><path d="M1071 1190 L1070.7 1190.8 L1070.5 1191.8 L1070.4 1193.1 L1070.2 1194.4 L1070.1 1195.9 L1070 1197.5 L1069.9 1199 L1069.8 1200.6 L1069.8 1202.1 L1069.8 1203.5 L1069.8 1204.9 L1069.8 1206.4 L1069.9 1208 L1070 1209.5 L1070.1 1211.1 L1070.2 1212.6 L1070.4 1213.9 L1070.5 1215.2 L1070.7 1216.2 L1071 1217 L1071 1217 L1071.3 1216.2 L1071.5 1215.2 L1071.6 1213.9 L1071.8 1212.6 L1071.9 1211.1 L1072 1209.5 L1072.1 1208 L1072.2 1206.4 L1072.2 1204.9 L1072.2 1203.5 L1072.2 1202.1 L1072.2 1200.6 L1072.1 1199 L1072 1197.5 L1071.9 1195.9 L1071.8 1194.4 L1071.6 1193.1 L1071.5 1191.8 L1071.3 1190.8 L1071 1190Z" fill="#000" opacity="0.7" filter="url(#b05)"/><path d="M1156.5 1229 L1156.2 1229.6 L1155.9 1230.4 L1155.8 1231.4 L1155.6 1232.4 L1155.4 1233.6 L1155.3 1234.8 L1155.2 1236 L1155.1 1237.2 L1155.1 1238.4 L1155.1 1239.5 L1155.1 1240.6 L1155.1 1241.8 L1155.2 1243 L1155.3 1244.2 L1155.4 1245.4 L1155.6 1246.6 L1155.8 1247.6 L1155.9 1248.6 L1156.2 1249.4 L1156.5 1250 L1156.5 1250 L1156.8 1249.4 L1157.1 1248.6 L1157.2 1247.6 L1157.4 1246.6 L1157.6 1245.4 L1157.7 1244.2 L1157.8 1243 L1157.9 1241.8 L1157.9 1240.6 L1157.9 1239.5 L1157.9 1238.4 L1157.9 1237.2 L1157.8 1236 L1157.7 1234.8 L1157.6 1233.6 L1157.4 1232.4 L1157.2 1231.4 L1157.1 1230.4 L1156.8 1229.6 L1156.5 1229Z" fill="#000" opacity="0.75" filter="url(#b05)"/><path d="M853.5 1235 L853.2 1236 L853 1237.2 L852.8 1238.7 L852.7 1240.4 L852.5 1242.2 L852.4 1244.1 L852.3 1246 L852.3 1247.9 L852.2 1249.8 L852.2 1251.5 L852.2 1253.2 L852.3 1255.1 L852.3 1257 L852.4 1258.9 L852.5 1260.8 L852.7 1262.6 L852.8 1264.3 L853 1265.8 L853.2 1267 L853.5 1268 L853.5 1268 L853.8 1267 L854 1265.8 L854.2 1264.3 L854.3 1262.6 L854.5 1260.8 L854.6 1258.9 L854.7 1257 L854.7 1255.1 L854.8 1253.2 L854.8 1251.5 L854.8 1249.8 L854.7 1247.9 L854.7 1246 L854.6 1244.1 L854.5 1242.2 L854.3 1240.4 L854.2 1238.7 L854 1237.2 L853.8 1236 L853.5 1235Z" fill="#000" opacity="0.8" filter="url(#b05)"/><path d="M867 1238 L866.7 1238.8 L866.4 1239.8 L866.3 1241.1 L866.1 1242.4 L865.9 1243.9 L865.8 1245.5 L865.7 1247 L865.6 1248.6 L865.6 1250.1 L865.6 1251.5 L865.6 1252.9 L865.6 1254.4 L865.7 1256 L865.8 1257.5 L865.9 1259.1 L866.1 1260.6 L866.3 1261.9 L866.4 1263.2 L866.7 1264.2 L867 1265 L867 1265 L867.3 1264.2 L867.6 1263.2 L867.7 1261.9 L867.9 1260.6 L868.1 1259.1 L868.2 1257.5 L868.3 1256 L868.4 1254.4 L868.4 1252.9 L868.4 1251.5 L868.4 1250.1 L868.4 1248.6 L868.3 1247 L868.2 1245.5 L868.1 1243.9 L867.9 1242.4 L867.7 1241.1 L867.6 1239.8 L867.3 1238.8 L867 1238Z" fill="#000" opacity="0.85" filter="url(#b05)"/><path d="M800.4 1271 L800 1272 L799.8 1273.2 L799.6 1274.7 L799.4 1276.4 L799.2 1278.2 L799 1280.1 L798.9 1282 L798.9 1283.9 L798.8 1285.8 L798.8 1287.5 L798.8 1289.2 L798.9 1291.1 L798.9 1293 L799 1294.9 L799.2 1296.8 L799.4 1298.6 L799.6 1300.3 L799.8 1301.8 L800 1303 L800.4 1304 L800.4 1304 L800.8 1303 L801 1301.8 L801.2 1300.3 L801.4 1298.6 L801.6 1296.8 L801.8 1294.9 L801.9 1293 L801.9 1291.1 L802 1289.2 L802 1287.5 L802 1285.8 L801.9 1283.9 L801.9 1282 L801.8 1280.1 L801.6 1278.2 L801.4 1276.4 L801.2 1274.7 L801 1273.2 L800.8 1272 L800.4 1271Z" fill="#000" opacity="0.85" filter="url(#b05)"/><path d="M814 1275.5 L813.7 1276.1 L813.5 1276.8 L813.4 1277.7 L813.2 1278.7 L813.1 1279.8 L813 1280.9 L812.9 1282 L812.8 1283.1 L812.8 1284.2 L812.8 1285.2 L812.8 1286.3 L812.8 1287.4 L812.9 1288.5 L813 1289.6 L813.1 1290.7 L813.2 1291.8 L813.4 1292.8 L813.5 1293.7 L813.7 1294.4 L814 1295 L814 1295 L814.3 1294.4 L814.5 1293.7 L814.6 1292.8 L814.8 1291.8 L814.9 1290.7 L815 1289.6 L815.1 1288.5 L815.2 1287.4 L815.2 1286.3 L815.2 1285.2 L815.2 1284.2 L815.2 1283.1 L815.1 1282 L815 1280.9 L814.9 1279.8 L814.8 1278.7 L814.6 1277.7 L814.5 1276.8 L814.3 1276.1 L814 1275.5Z" fill="#000" opacity="0.7" filter="url(#b05)"/><path d="M894 1286 L893.7 1286.5 L893.4 1287.1 L893.3 1287.8 L893.1 1288.6 L892.9 1289.5 L892.8 1290.4 L892.7 1291.3 L892.6 1292.3 L892.6 1293.2 L892.6 1294 L892.6 1294.8 L892.6 1295.7 L892.7 1296.7 L892.8 1297.6 L892.9 1298.5 L893.1 1299.4 L893.3 1300.2 L893.4 1300.9 L893.7 1301.5 L894 1302 L894 1302 L894.3 1301.5 L894.6 1300.9 L894.7 1300.2 L894.9 1299.4 L895.1 1298.5 L895.2 1297.6 L895.3 1296.7 L895.4 1295.7 L895.4 1294.8 L895.4 1294 L895.4 1293.2 L895.4 1292.3 L895.3 1291.3 L895.2 1290.4 L895.1 1289.5 L894.9 1288.6 L894.7 1287.8 L894.6 1287.1 L894.3 1286.5 L894 1286Z" fill="#000" opacity="0.7" filter="url(#b05)"/><path d="M850 1319 L849.7 1319.6 L849.4 1320.4 L849.3 1321.4 L849.1 1322.4 L848.9 1323.6 L848.8 1324.8 L848.7 1326 L848.6 1327.2 L848.6 1328.4 L848.6 1329.5 L848.6 1330.6 L848.6 1331.8 L848.7 1333 L848.8 1334.2 L848.9 1335.4 L849.1 1336.6 L849.3 1337.6 L849.4 1338.6 L849.7 1339.4 L850 1340 L850 1340 L850.3 1339.4 L850.6 1338.6 L850.7 1337.6 L850.9 1336.6 L851.1 1335.4 L851.2 1334.2 L851.3 1333 L851.4 1331.8 L851.4 1330.6 L851.4 1329.5 L851.4 1328.4 L851.4 1327.2 L851.3 1326 L851.2 1324.8 L851.1 1323.6 L850.9 1322.4 L850.7 1321.4 L850.6 1320.4 L850.3 1319.6 L850 1319Z" fill="#000" opacity="0.8" filter="url(#b05)"/><path d="M819 1340 L818.7 1340.6 L818.5 1341.4 L818.4 1342.4 L818.2 1343.4 L818.1 1344.6 L818 1345.8 L817.9 1347 L817.8 1348.2 L817.8 1349.4 L817.8 1350.5 L817.8 1351.6 L817.8 1352.8 L817.9 1354 L818 1355.2 L818.1 1356.4 L818.2 1357.6 L818.4 1358.6 L818.5 1359.6 L818.7 1360.4 L819 1361 L819 1361 L819.3 1360.4 L819.5 1359.6 L819.6 1358.6 L819.8 1357.6 L819.9 1356.4 L820 1355.2 L820.1 1354 L820.2 1352.8 L820.2 1351.6 L820.2 1350.5 L820.2 1349.4 L820.2 1348.2 L820.1 1347 L820 1345.8 L819.9 1344.6 L819.8 1343.4 L819.6 1342.4 L819.5 1341.4 L819.3 1340.6 L819 1340Z" fill="#000" opacity="0.75" filter="url(#b05)"/><path d="M925 1300 L924.9 1301.7 L924.8 1304 L924.7 1306.6 L924.6 1309.6 L924.5 1312.7 L924.5 1316.1 L924.5 1319.5 L924.5 1322.8 L924.5 1326.1 L924.6 1329.1 L924.7 1332.1 L924.8 1335.4 L925 1338.7 L925.3 1342.1 L925.6 1345.4 L926 1348.6 L926.4 1351.5 L926.9 1354.1 L927.3 1356.3 L928 1358 L928 1358 L928.5 1356.2 L928.7 1354 L928.9 1351.4 L929 1348.4 L929.1 1345.2 L929 1341.9 L929 1338.5 L928.8 1335.2 L928.6 1331.9 L928.4 1328.9 L928.2 1325.9 L927.9 1322.6 L927.5 1319.3 L927.2 1315.9 L926.8 1312.6 L926.4 1309.5 L926 1306.5 L925.6 1303.9 L925.3 1301.7 L925 1300Z" fill="#000" opacity="0.85" filter="url(#b05)"/><path d="M933 1310 L932.6 1311.4 L932.3 1313.2 L931.8 1315.4 L931.4 1317.8 L930.9 1320.4 L930.4 1323.1 L930 1325.9 L929.5 1328.7 L929.2 1331.3 L928.8 1333.8 L928.5 1336.3 L928.3 1339 L928 1341.8 L927.9 1344.6 L927.8 1347.3 L927.7 1350 L927.8 1352.4 L927.9 1354.6 L928.1 1356.5 L928.5 1358 L928.5 1358 L929.2 1356.6 L929.7 1354.8 L930.3 1352.7 L930.7 1350.3 L931.2 1347.7 L931.6 1344.9 L932 1342.1 L932.3 1339.4 L932.5 1336.7 L932.7 1334.2 L932.8 1331.7 L932.9 1329 L933 1326.2 L933.1 1323.4 L933.1 1320.6 L933.2 1318 L933.2 1315.5 L933.1 1313.3 L933.1 1311.4 L933 1310Z" fill="#000" opacity="0.85" filter="url(#b05)"/><ellipse transform="translate(928.5 1338) rotate(0)" rx="3.5" ry="20" fill="#000" opacity="0.5" filter="url(#b2)"/><path d="M948.6 1334 L948.3 1334.4 L948.1 1335 L948 1335.7 L947.8 1336.5 L947.7 1337.3 L947.6 1338.1 L947.5 1339 L947.4 1339.9 L947.4 1340.7 L947.4 1341.5 L947.4 1342.3 L947.4 1343.1 L947.5 1344 L947.6 1344.9 L947.7 1345.7 L947.8 1346.5 L948 1347.3 L948.1 1348 L948.3 1348.6 L948.6 1349 L948.6 1349 L948.9 1348.6 L949.1 1348 L949.2 1347.3 L949.4 1346.5 L949.5 1345.7 L949.6 1344.9 L949.7 1344 L949.8 1343.1 L949.8 1342.3 L949.8 1341.5 L949.8 1340.7 L949.8 1339.9 L949.7 1339 L949.6 1338.1 L949.5 1337.3 L949.4 1336.5 L949.2 1335.7 L949.1 1335 L948.9 1334.4 L948.6 1334Z" fill="#000" opacity="0.75" filter="url(#b05)"/><path d="M944 1373 L943.6 1373.8 L943.3 1374.8 L943 1376.1 L942.8 1377.4 L942.6 1378.9 L942.5 1380.5 L942.3 1382 L942.3 1383.6 L942.2 1385.1 L942.2 1386.5 L942.2 1387.9 L942.3 1389.4 L942.3 1391 L942.5 1392.5 L942.6 1394.1 L942.8 1395.6 L943 1396.9 L943.3 1398.2 L943.6 1399.2 L944 1400 L944 1400 L944.4 1399.2 L944.7 1398.2 L945 1396.9 L945.2 1395.6 L945.4 1394.1 L945.5 1392.5 L945.7 1391 L945.7 1389.4 L945.8 1387.9 L945.8 1386.5 L945.8 1385.1 L945.7 1383.6 L945.7 1382 L945.5 1380.5 L945.4 1378.9 L945.2 1377.4 L945 1376.1 L944.7 1374.8 L944.4 1373.8 L944 1373Z" fill="#000" opacity="0.85" filter="url(#b05)"/><path d="M1052 1319 L1051.6 1319.9 L1051.3 1321 L1051 1322.4 L1050.8 1323.9 L1050.6 1325.6 L1050.5 1327.3 L1050.3 1329 L1050.3 1330.8 L1050.2 1332.4 L1050.2 1334 L1050.2 1335.6 L1050.3 1337.2 L1050.3 1339 L1050.5 1340.7 L1050.6 1342.4 L1050.8 1344.1 L1051 1345.6 L1051.3 1347 L1051.6 1348.1 L1052 1349 L1052 1349 L1052.4 1348.1 L1052.7 1347 L1053 1345.6 L1053.2 1344.1 L1053.4 1342.4 L1053.5 1340.7 L1053.7 1339 L1053.7 1337.2 L1053.8 1335.6 L1053.8 1334 L1053.8 1332.4 L1053.7 1330.8 L1053.7 1329 L1053.5 1327.3 L1053.4 1325.6 L1053.2 1323.9 L1053 1322.4 L1052.7 1321 L1052.4 1319.9 L1052 1319Z" fill="#000" opacity="0.7" filter="url(#b05)"/><path d="M1150.5 1361 L1150 1362 L1149.7 1363.2 L1149.4 1364.7 L1149.2 1366.4 L1149 1368.2 L1148.8 1370.1 L1148.7 1372 L1148.6 1373.9 L1148.5 1375.8 L1148.5 1377.5 L1148.5 1379.2 L1148.6 1381.1 L1148.7 1383 L1148.8 1384.9 L1149 1386.8 L1149.2 1388.6 L1149.4 1390.3 L1149.7 1391.8 L1150 1393 L1150.5 1394 L1150.5 1394 L1151 1393 L1151.3 1391.8 L1151.6 1390.3 L1151.8 1388.6 L1152 1386.8 L1152.2 1384.9 L1152.3 1383 L1152.4 1381.1 L1152.5 1379.2 L1152.5 1377.5 L1152.5 1375.8 L1152.4 1373.9 L1152.3 1372 L1152.2 1370.1 L1152 1368.2 L1151.8 1366.4 L1151.6 1364.7 L1151.3 1363.2 L1151 1362 L1150.5 1361Z" fill="#000" opacity="0.55" filter="url(#b1)"/><ellipse transform="translate(1137 1370) rotate(0)" rx="2.3" ry="4" fill="#000" opacity="0.6000000000000001" filter="url(#b05)"/><path d="M894 1010 L893.7 1010.7 L893.4 1011.6 L893.3 1012.7 L893.1 1013.9 L892.9 1015.2 L892.8 1016.6 L892.7 1018 L892.6 1019.4 L892.6 1020.7 L892.6 1022 L892.6 1023.3 L892.6 1024.6 L892.7 1026 L892.8 1027.4 L892.9 1028.8 L893.1 1030.1 L893.3 1031.3 L893.4 1032.4 L893.7 1033.3 L894 1034 L894 1034 L894.3 1033.3 L894.6 1032.4 L894.7 1031.3 L894.9 1030.1 L895.1 1028.8 L895.2 1027.4 L895.3 1026 L895.4 1024.6 L895.4 1023.3 L895.4 1022 L895.4 1020.7 L895.4 1019.4 L895.3 1018 L895.2 1016.6 L895.1 1015.2 L894.9 1013.9 L894.7 1012.7 L894.6 1011.6 L894.3 1010.7 L894 1010Z" fill="#000" opacity="0.7" filter="url(#b05)"/><path d="M988.5 1037 L988.2 1037.5 L987.9 1038.2 L987.8 1039 L987.6 1040 L987.4 1040.9 L987.3 1042 L987.2 1043 L987.1 1044.1 L987.1 1045.1 L987.1 1046 L987.1 1046.9 L987.1 1047.9 L987.2 1049 L987.3 1050 L987.4 1051.1 L987.6 1052 L987.8 1053 L987.9 1053.8 L988.2 1054.5 L988.5 1055 L988.5 1055 L988.8 1054.5 L989.1 1053.8 L989.2 1053 L989.4 1052 L989.6 1051.1 L989.7 1050 L989.8 1049 L989.9 1047.9 L989.9 1046.9 L989.9 1046 L989.9 1045.1 L989.9 1044.1 L989.8 1043 L989.7 1042 L989.6 1040.9 L989.4 1040 L989.2 1039 L989.1 1038.2 L988.8 1037.5 L988.5 1037Z" fill="#000" opacity="0.65" filter="url(#b05)"/><path d="M985.5 1061 L985.2 1061.5 L985 1062.2 L984.9 1063 L984.7 1064 L984.6 1064.9 L984.5 1066 L984.4 1067 L984.3 1068.1 L984.3 1069.1 L984.3 1070 L984.3 1070.9 L984.3 1071.9 L984.4 1073 L984.5 1074 L984.6 1075.1 L984.7 1076 L984.9 1077 L985 1077.8 L985.2 1078.5 L985.5 1079 L985.5 1079 L985.8 1078.5 L986 1077.8 L986.1 1077 L986.3 1076 L986.4 1075.1 L986.5 1074 L986.6 1073 L986.7 1071.9 L986.7 1070.9 L986.7 1070 L986.7 1069.1 L986.7 1068.1 L986.6 1067 L986.5 1066 L986.4 1064.9 L986.3 1064 L986.1 1063 L986 1062.2 L985.8 1061.5 L985.5 1061Z" fill="#000" opacity="0.4" filter="url(#b05)"/><path d="M945 1106 L944.7 1106.4 L944.5 1106.8 L944.4 1107.4 L944.2 1108 L944.1 1108.6 L944 1109.3 L943.9 1110 L943.8 1110.7 L943.8 1111.4 L943.8 1112 L943.8 1112.6 L943.8 1113.3 L943.9 1114 L944 1114.7 L944.1 1115.4 L944.2 1116 L944.4 1116.6 L944.5 1117.2 L944.7 1117.6 L945 1118 L945 1118 L945.3 1117.6 L945.5 1117.2 L945.6 1116.6 L945.8 1116 L945.9 1115.4 L946 1114.7 L946.1 1114 L946.2 1113.3 L946.2 1112.6 L946.2 1112 L946.2 1111.4 L946.2 1110.7 L946.1 1110 L946 1109.3 L945.9 1108.6 L945.8 1108 L945.6 1107.4 L945.5 1106.8 L945.3 1106.4 L945 1106Z" fill="#000" opacity="0.4" filter="url(#b05)"/><path d="M1084.5 1022 L1084.2 1022.5 L1083.9 1023.2 L1083.8 1024 L1083.6 1025 L1083.4 1025.9 L1083.3 1027 L1083.2 1028 L1083.1 1029.1 L1083.1 1030.1 L1083.1 1031 L1083.1 1031.9 L1083.1 1032.9 L1083.2 1034 L1083.3 1035 L1083.4 1036.1 L1083.6 1037 L1083.8 1038 L1083.9 1038.8 L1084.2 1039.5 L1084.5 1040 L1084.5 1040 L1084.8 1039.5 L1085.1 1038.8 L1085.2 1038 L1085.4 1037 L1085.6 1036.1 L1085.7 1035 L1085.8 1034 L1085.9 1032.9 L1085.9 1031.9 L1085.9 1031 L1085.9 1030.1 L1085.9 1029.1 L1085.8 1028 L1085.7 1027 L1085.6 1025.9 L1085.4 1025 L1085.2 1024 L1085.1 1023.2 L1084.8 1022.5 L1084.5 1022Z" fill="#000" opacity="0.65" filter="url(#b05)"/><path d="M1113 1040 L1112.6 1040.5 L1112.4 1041.2 L1112.2 1042 L1112 1043 L1111.8 1043.9 L1111.6 1045 L1111.5 1046 L1111.5 1047.1 L1111.4 1048.1 L1111.4 1049 L1111.4 1049.9 L1111.5 1050.9 L1111.5 1052 L1111.6 1053 L1111.8 1054.1 L1112 1055 L1112.2 1056 L1112.4 1056.8 L1112.6 1057.5 L1113 1058 L1113 1058 L1113.4 1057.5 L1113.6 1056.8 L1113.8 1056 L1114 1055 L1114.2 1054.1 L1114.4 1053 L1114.5 1052 L1114.5 1050.9 L1114.6 1049.9 L1114.6 1049 L1114.6 1048.1 L1114.5 1047.1 L1114.5 1046 L1114.4 1045 L1114.2 1043.9 L1114 1043 L1113.8 1042 L1113.6 1041.2 L1113.4 1040.5 L1113 1040Z" fill="#000" opacity="0.75" filter="url(#b05)"/><path d="M1129 1038.5 L1128.7 1039 L1128.4 1039.6 L1128.3 1040.4 L1128.1 1041.2 L1127.9 1042.1 L1127.8 1043.1 L1127.7 1044 L1127.6 1045 L1127.6 1045.9 L1127.6 1046.8 L1127.6 1047.6 L1127.6 1048.5 L1127.7 1049.5 L1127.8 1050.4 L1127.9 1051.4 L1128.1 1052.3 L1128.3 1053.1 L1128.4 1053.9 L1128.7 1054.5 L1129 1055 L1129 1055 L1129.3 1054.5 L1129.6 1053.9 L1129.7 1053.1 L1129.9 1052.3 L1130.1 1051.4 L1130.2 1050.4 L1130.3 1049.5 L1130.4 1048.5 L1130.4 1047.6 L1130.4 1046.8 L1130.4 1045.9 L1130.4 1045 L1130.3 1044 L1130.2 1043.1 L1130.1 1042.1 L1129.9 1041.2 L1129.7 1040.4 L1129.6 1039.6 L1129.3 1039 L1129 1038.5Z" fill="#000" opacity="0.65" filter="url(#b05)"/>
<rect x="773.6" y="987.5" width="396.2" height="412.1" fill="url(#hl2)"/>
<rect x="773.6" y="987.5" width="396.2" height="412.1" fill="url(#vl2)"/>
<path d="M791.2 987.5v412.1M793.4 987.5v412.1M795.6 987.5v412.1M883.5 987.5v412.1M894.5 987.5v412.1M898.9 987.5v412.1M901.1 987.5v412.1M956.1 987.5v412.1M1063.9 987.5v412.1M1129.8 987.5v412.1" stroke="#fff" stroke-width="2.2" opacity="0.15" fill="none"/>
<path d="M784.6 987.5v412.1M797.8 987.5v412.1M800 987.5v412.1M802.2 987.5v412.1M804.4 987.5v412.1M857.2 987.5v412.1M881.4 987.5v412.1M896.7 987.5v412.1M923.1 987.5v412.1M940.7 987.5v412.1M942.9 987.5v412.1M945.1 987.5v412.1M951.7 987.5v412.1M958.3 987.5v412.1M1046.3 987.5v412.1M1050.7 987.5v412.1M1052.9 987.5v412.1M1061.7 987.5v412.1M1066.1 987.5v412.1M1068.3 987.5v412.1M1070.5 987.5v412.1M1088.1 987.5v412.1M1096.9 987.5v412.1M1103.5 987.5v412.1M1107.8 987.5v412.1M1140.8 987.5v412.1M1158.4 987.5v412.1" stroke="#fff" stroke-width="2.2" opacity="0.1" fill="none"/>
<path d="M789 987.5v412.1M811 987.5v412.1M817.6 987.5v412.1M835.2 987.5v412.1M855 987.5v412.1M863.8 987.5v412.1M892.3 987.5v412.1M903.3 987.5v412.1M909.9 987.5v412.1M920.9 987.5v412.1M927.5 987.5v412.1M936.3 987.5v412.1M938.5 987.5v412.1M947.3 987.5v412.1M984.7 987.5v412.1M1041.9 987.5v412.1M1055.1 987.5v412.1M1057.3 987.5v412.1M1074.9 987.5v412.1M1092.5 987.5v412.1M1094.7 987.5v412.1M1099.1 987.5v412.1M1105.6 987.5v412.1M1116.6 987.5v412.1M1118.8 987.5v412.1M1127.6 987.5v412.1M1132 987.5v412.1M1134.2 987.5v412.1M1136.4 987.5v412.1M1138.6 987.5v412.1M1143 987.5v412.1M1162.8 987.5v412.1" stroke="#fff" stroke-width="2.2" opacity="0.05" fill="none"/>
<path d="M778 987.5v412.1M819.8 987.5v412.1M839.6 987.5v412.1M841.8 987.5v412.1M848.4 987.5v412.1M868.2 987.5v412.1M870.4 987.5v412.1M872.6 987.5v412.1M877 987.5v412.1M907.7 987.5v412.1M918.7 987.5v412.1M925.3 987.5v412.1M934.1 987.5v412.1M953.9 987.5v412.1M967.1 987.5v412.1M971.5 987.5v412.1M973.7 987.5v412.1M975.9 987.5v412.1M982.5 987.5v412.1M989.1 987.5v412.1M993.5 987.5v412.1M997.9 987.5v412.1M1002.3 987.5v412.1M1008.9 987.5v412.1M1011.1 987.5v412.1M1022.1 987.5v412.1M1024.3 987.5v412.1M1028.7 987.5v412.1M1059.5 987.5v412.1M1079.3 987.5v412.1M1085.9 987.5v412.1M1123.2 987.5v412.1M1145.2 987.5v412.1M1154 987.5v412.1M1160.6 987.5v412.1M1167.2 987.5v412.1M1169.4 987.5v412.1M1171.6 987.5v412.1" stroke="#000" stroke-width="2.2" opacity="0.05" fill="none"/>
<path d="M808.8 987.5v412.1M826.4 987.5v412.1M828.6 987.5v412.1M830.8 987.5v412.1M844 987.5v412.1M861.6 987.5v412.1M912.1 987.5v412.1M914.3 987.5v412.1M916.5 987.5v412.1M949.5 987.5v412.1M962.7 987.5v412.1M964.9 987.5v412.1M980.3 987.5v412.1M1019.9 987.5v412.1M1026.5 987.5v412.1M1033.1 987.5v412.1M1037.5 987.5v412.1M1039.7 987.5v412.1M1083.7 987.5v412.1M1112.2 987.5v412.1M1165 987.5v412.1" stroke="#000" stroke-width="2.2" opacity="0.1" fill="none"/>
<path d="M773.6 987.5v412.1M782.4 987.5v412.1M815.4 987.5v412.1M822 987.5v412.1M837.4 987.5v412.1M960.5 987.5v412.1M969.3 987.5v412.1M1006.7 987.5v412.1M1015.5 987.5v412.1M1017.7 987.5v412.1M1035.3 987.5v412.1M1072.7 987.5v412.1M1081.5 987.5v412.1" stroke="#000" stroke-width="2.2" opacity="0.15" fill="none"/>
<path d="M846.2 987.5v412.1M887.9 987.5v412.1M1013.3 987.5v412.1M1121 987.5v412.1" stroke="#000" stroke-width="2.2" opacity="0.2" fill="none"/>
<path d="M859.4 987.5v412.1M1000.1 987.5v412.1M1077.1 987.5v412.1M1114.4 987.5v412.1M1156.2 987.5v412.1" stroke="#000" stroke-width="2.2" opacity="0.25" fill="none"/>
<path d="M991.3 987.5v412.1" stroke="#000" stroke-width="2.2" opacity="0.3" fill="none"/>
<path d="M978.1 987.5v412.1" stroke="#000" stroke-width="2.2" opacity="0.35" fill="none"/>
<path d="M1004.5 987.5v412.1" stroke="#000" stroke-width="2.2" opacity="0.4" fill="none"/>
<path d="M824.2 987.5v412.1" stroke="#000" stroke-width="2.2" opacity="0.45" fill="none"/>
<rect x="928.5" y="987.5" width="1.8" height="412.1" fill="#000" opacity="0.7"/>
<rect x="989.7" y="987.5" width="1.8" height="412.1" fill="#000" opacity="0.7"/>
<rect x="1051.5" y="987.5" width="1.8" height="412.1" fill="#000" opacity="0.7"/>
<rect x="804.6" y="987.5" width="1.8" height="412.1" fill="#000" opacity="0.5"/>
<rect x="866.1" y="987.5" width="1.8" height="412.1" fill="#000" opacity="0.5"/>
<rect x="1101.6" y="987.5" width="1.8" height="412.1" fill="#000" opacity="0.45"/>
<rect x="1133.1" y="987.5" width="1.8" height="412.1" fill="#000" opacity="0.45"/>
<rect x="1112.1" y="987.5" width="1.8" height="412.1" fill="#000" opacity="0.35"/>
<rect x="789.1" y="987.5" width="1.8" height="412.1" fill="#000" opacity="0.25"/>
<rect x="837.1" y="987.5" width="1.8" height="412.1" fill="#000" opacity="0.25"/>
<rect x="904.1" y="987.5" width="1.8" height="412.1" fill="#000" opacity="0.25"/>
<rect x="961.1" y="987.5" width="1.8" height="412.1" fill="#000" opacity="0.25"/>
<rect x="1019.1" y="987.5" width="1.8" height="412.1" fill="#000" opacity="0.25"/>
<rect x="1084.1" y="987.5" width="1.8" height="412.1" fill="#000" opacity="0.3"/>
<rect x="1149.1" y="987.5" width="1.8" height="412.1" fill="#000" opacity="0.3"/>
<rect x="773.6" y="1151" width="396.2" height="1.76" fill="#000" opacity="0.6174999999999999"/>
<rect x="773.6" y="1035.5" width="396.2" height="1.76" fill="#000" opacity="0.33249999999999996"/>
<rect x="773.6" y="1308.1" width="396.2" height="1.76" fill="#000" opacity="0.38"/>
<rect x="773.6" y="1317.3" width="396.2" height="1.76" fill="#000" opacity="0.38"/>
<rect x="773.6" y="1377.4" width="396.2" height="1.76" fill="#000" opacity="0.33249999999999996"/>
<rect x="773.6" y="1077.1" width="396.2" height="1.76" fill="#000" opacity="0.1425"/>
<rect x="773.6" y="1211" width="396.2" height="1.76" fill="#000" opacity="0.1425"/>
<rect x="773.6" y="1257.2" width="396.2" height="1.76" fill="#000" opacity="0.19"/>
<rect x="773.6" y="987.5" width="396.2" height="1.6" fill="#000" opacity="0.35"/>
<rect x="773.6" y="987.5" width="1.4" height="412.1" fill="#000" opacity="0.3"/>
</g>
<line x1="771.3" y1="1405" x2="1180" y2="1405" stroke="#8a8a8a" stroke-width="1.6"/>
<rect x="771.1" y="987.5" width="2.6" height="417.5" fill="#a0a0a0"/>
<line x1="881.8" y1="1405" x2="881.8" y2="1401" stroke="#777" stroke-width="1.2"/>
<line x1="991.8" y1="1405" x2="991.8" y2="1401" stroke="#777" stroke-width="1.2"/>
<line x1="1101.8" y1="1405" x2="1101.8" y2="1401" stroke="#777" stroke-width="1.2"/>
<text class="sa" x="771.6" y="1429" text-anchor="middle" font-size="16.8" fill="#555">0</text>
<text class="sa" x="881.5" y="1429" text-anchor="middle" font-size="16.8" fill="#555">50</text>
<text class="sa" x="991.5" y="1429" text-anchor="middle" font-size="16.8" fill="#555">100</text>
<text class="sa" x="1101.5" y="1429" text-anchor="middle" font-size="16.8" fill="#555">150</text>
<text class="sa" x="765.9" y="1412.3" text-anchor="end" font-size="16.8" fill="#555">0</text>
<text class="sa" x="765.9" y="1366" text-anchor="end" font-size="16.8" fill="#555">10</text>
<text class="sa" x="765.9" y="1319.6" text-anchor="end" font-size="16.8" fill="#555">20</text>
<text class="sa" x="765.9" y="1273.3" text-anchor="end" font-size="16.8" fill="#555">30</text>
<text class="sa" x="765.9" y="1227" text-anchor="end" font-size="16.8" fill="#555">40</text>
<text class="sa" x="765.9" y="1180.6" text-anchor="end" font-size="16.8" fill="#555">50</text>
<text class="sa" x="765.9" y="1134.3" text-anchor="end" font-size="16.8" fill="#555">60</text>
<text class="sa" x="765.9" y="1088" text-anchor="end" font-size="16.8" fill="#555">70</text>
<text class="sa" x="765.9" y="1041.6" text-anchor="end" font-size="16.8" fill="#555">80</text>
<text class="sa" x="765.9" y="995.3" text-anchor="end" font-size="16.8" fill="#555">90</text>
<text class="sb" transform="translate(723 1186.7) rotate(-90)" text-anchor="middle" font-size="36" fill="#000">Phi (Φ°)</text>
<text class="sb" transform="translate(966 1458) scale(1.045 1)" text-anchor="middle" font-size="34.5" fill="#000">Theta (θ°)</text>
<text class="sb" x="1286" y="1238" text-anchor="middle" font-size="64" fill="#000">8 GHz</text>
<defs>
<clipPath id="cl3"><rect x="775" y="1472.1" width="399.3" height="404.3"/></clipPath>
<pattern id="hl3" patternUnits="userSpaceOnUse" x="775" y="1473.7" width="10" height="4.5700"><rect x="0" y="0" width="10" height="2.102" fill="#000" opacity="0.28"/><rect x="0" y="0.411" width="10" height="1.280" fill="#000" opacity="0.3472"/></pattern>
<pattern id="vl3" patternUnits="userSpaceOnUse" x="774.6" y="1472.1" width="6.6420" height="10"><rect x="0" y="0" width="2" height="10" fill="#000" opacity="0.4"/><rect x="2.768" y="0" width="1" height="10" fill="#000" opacity="0.18000000000000002"/><rect x="4.871" y="0" width="1" height="10" fill="#000" opacity="0.18000000000000002"/></pattern>
<linearGradient id="bg3" gradientUnits="userSpaceOnUse" x1="775" y1="0" x2="1174.3" y2="0"><stop offset="0.000" stop-color="#000" stop-opacity="0.1"/><stop offset="0.072" stop-color="#000" stop-opacity="0.24"/><stop offset="0.133" stop-color="#000" stop-opacity="0.1"/><stop offset="0.206" stop-color="#000" stop-opacity="0.24"/><stop offset="0.278" stop-color="#000" stop-opacity="0.03"/><stop offset="0.317" stop-color="#000" stop-opacity="0.24"/><stop offset="0.389" stop-color="#000" stop-opacity="0.1"/><stop offset="0.461" stop-color="#000" stop-opacity="0.24"/><stop offset="0.500" stop-color="#000" stop-opacity="0"/><stop offset="0.561" stop-color="#000" stop-opacity="0.06"/><stop offset="0.600" stop-color="#000" stop-opacity="0"/><stop offset="0.672" stop-color="#000" stop-opacity="0.24"/><stop offset="0.700" stop-color="#000" stop-opacity="0.14"/><stop offset="0.761" stop-color="#000" stop-opacity="0.1"/><stop offset="0.833" stop-color="#000" stop-opacity="0.2"/><stop offset="0.872" stop-color="#000" stop-opacity="0.14"/><stop offset="0.900" stop-color="#000" stop-opacity="0.24"/><stop offset="0.972" stop-color="#000" stop-opacity="0"/><stop offset="1.000" stop-color="#000" stop-opacity="0"/><stop offset="1.000" stop-color="#000" stop-opacity="0.2"/></linearGradient>
</defs>
<g clip-path="url(#cl3)">
<rect x="775" y="1472.1" width="399.3" height="404.3" fill="#ffffff"/>
<rect x="775" y="1472.1" width="399.3" height="404.3" fill="url(#bg3)"/>
<path d="M1122 1743 L1121.4 1744.3 L1121 1745.9 L1120.7 1747.8 L1120.5 1749.9 L1120.3 1752.1 L1120.2 1754.4 L1120.2 1756.7 L1120.2 1758.9 L1120.2 1761.1 L1120.3 1763 L1120.4 1764.8 L1120.6 1766.5 L1120.8 1768.3 L1121 1769.9 L1121.3 1771.5 L1121.6 1773.1 L1121.9 1774.6 L1122.2 1776 L1122.6 1777.4 L1122.9 1778.8 L1123.3 1780.1 L1123.7 1781.5 L1124.1 1782.9 L1124.6 1784.4 L1125.1 1785.8 L1125.7 1787.1 L1126.4 1788.3 L1127.1 1789.4 L1127.9 1790.3 L1129.5 1791 L1129.5 1791 L1131 1790.1 L1131.7 1789.2 L1132.3 1788 L1132.8 1786.7 L1133.2 1785.2 L1133.6 1783.7 L1133.8 1782.1 L1134 1780.5 L1134.1 1778.9 L1134.1 1777.2 L1134 1775.6 L1133.9 1774 L1133.6 1772.4 L1133.4 1770.8 L1133 1769.2 L1132.6 1767.6 L1132.2 1766 L1131.8 1764.3 L1131.3 1762.7 L1130.7 1761 L1130.1 1759.2 L1129.4 1757.2 L1128.6 1755.1 L1127.7 1753 L1126.8 1750.9 L1125.8 1748.9 L1124.9 1747 L1123.9 1745.4 L1123 1744 L1122 1743Z" fill="#000" opacity="0.92" filter="url(#b2)"/><path d="M915 1535 L912.7 1535.8 L912.1 1536.7 L911.6 1537.8 L911.3 1539 L911 1540.4 L910.8 1541.8 L910.7 1543.2 L910.6 1544.7 L910.6 1546.3 L910.5 1547.8 L910.5 1549.5 L910.5 1551.4 L910.6 1553.5 L910.7 1555.8 L910.9 1558 L911.1 1560.2 L911.5 1562.3 L911.8 1564.2 L912.4 1565.7 L913.5 1567 L913.5 1567 L914.8 1565.9 L915.6 1564.5 L916.3 1562.7 L917 1560.7 L917.6 1558.6 L918.2 1556.4 L918.6 1554.2 L919 1552 L919.3 1550 L919.5 1548.2 L919.6 1546.5 L919.6 1544.9 L919.5 1543.3 L919.4 1541.7 L919.2 1540.3 L918.9 1538.9 L918.5 1537.7 L918 1536.6 L917.3 1535.7 L915 1535Z" fill="#000" opacity="0.85" filter="url(#b1)"/><path d="M922.5 1576 L922.2 1576.4 L922 1576.8 L921.9 1577.4 L921.7 1578 L921.6 1578.6 L921.5 1579.3 L921.4 1580 L921.3 1580.7 L921.3 1581.4 L921.3 1582 L921.3 1582.6 L921.3 1583.3 L921.4 1584 L921.5 1584.7 L921.6 1585.4 L921.7 1586 L921.9 1586.6 L922 1587.2 L922.2 1587.6 L922.5 1588 L922.5 1588 L922.8 1587.6 L923 1587.2 L923.1 1586.6 L923.3 1586 L923.4 1585.4 L923.5 1584.7 L923.6 1584 L923.7 1583.3 L923.7 1582.6 L923.7 1582 L923.7 1581.4 L923.7 1580.7 L923.6 1580 L923.5 1579.3 L923.4 1578.6 L923.3 1578 L923.1 1577.4 L923 1576.8 L922.8 1576.4 L922.5 1576Z" fill="#000" opacity="0.6" filter="url(#b05)"/><path d="M898.5 1594 L898.2 1595.7 L898 1597.9 L897.8 1600.5 L897.7 1603.3 L897.5 1606.5 L897.4 1609.7 L897.3 1613.1 L897.3 1616.3 L897.2 1619.5 L897.2 1622.5 L897.2 1625.5 L897.3 1628.7 L897.3 1631.9 L897.4 1635.3 L897.5 1638.5 L897.7 1641.7 L897.8 1644.5 L898 1647.1 L898.2 1649.3 L898.5 1651 L898.5 1651 L898.8 1649.3 L899 1647.1 L899.2 1644.5 L899.3 1641.7 L899.5 1638.5 L899.6 1635.3 L899.7 1631.9 L899.7 1628.7 L899.8 1625.5 L899.8 1622.5 L899.8 1619.5 L899.7 1616.3 L899.7 1613.1 L899.6 1609.7 L899.5 1606.5 L899.3 1603.3 L899.2 1600.5 L899 1597.9 L898.8 1595.7 L898.5 1594Z" fill="#000" opacity="0.8" filter="url(#b05)"/><path d="M823.5 1552 L823.2 1552.9 L822.9 1554 L822.8 1555.4 L822.6 1556.9 L822.4 1558.6 L822.3 1560.3 L822.2 1562 L822.1 1563.8 L822.1 1565.4 L822.1 1567 L822.1 1568.6 L822.1 1570.2 L822.2 1572 L822.3 1573.7 L822.4 1575.4 L822.6 1577.1 L822.8 1578.6 L822.9 1580 L823.2 1581.1 L823.5 1582 L823.5 1582 L823.8 1581.1 L824.1 1580 L824.2 1578.6 L824.4 1577.1 L824.6 1575.4 L824.7 1573.7 L824.8 1572 L824.9 1570.2 L824.9 1568.6 L824.9 1567 L824.9 1565.4 L824.9 1563.8 L824.8 1562 L824.7 1560.3 L824.6 1558.6 L824.4 1556.9 L824.2 1555.4 L824.1 1554 L823.8 1552.9 L823.5 1552Z" fill="#000" opacity="0.7" filter="url(#b05)"/><path d="M966 1480 L965.7 1480.8 L965.4 1481.8 L965.3 1483.1 L965.1 1484.4 L964.9 1485.9 L964.8 1487.5 L964.7 1489 L964.6 1490.6 L964.6 1492.1 L964.6 1493.5 L964.6 1494.9 L964.6 1496.4 L964.7 1498 L964.8 1499.5 L964.9 1501.1 L965.1 1502.6 L965.3 1503.9 L965.4 1505.2 L965.7 1506.2 L966 1507 L966 1507 L966.3 1506.2 L966.6 1505.2 L966.7 1503.9 L966.9 1502.6 L967.1 1501.1 L967.2 1499.5 L967.3 1498 L967.4 1496.4 L967.4 1494.9 L967.4 1493.5 L967.4 1492.1 L967.4 1490.6 L967.3 1489 L967.2 1487.5 L967.1 1485.9 L966.9 1484.4 L966.7 1483.1 L966.6 1481.8 L966.3 1480.8 L966 1480Z" fill="#000" opacity="0.75" filter="url(#b05)"/><path d="M1006.5 1501 L1006.2 1501.6 L1006 1502.4 L1005.9 1503.4 L1005.7 1504.4 L1005.6 1505.6 L1005.5 1506.8 L1005.4 1508 L1005.3 1509.2 L1005.3 1510.4 L1005.3 1511.5 L1005.3 1512.6 L1005.3 1513.8 L1005.4 1515 L1005.5 1516.2 L1005.6 1517.4 L1005.7 1518.6 L1005.9 1519.6 L1006 1520.6 L1006.2 1521.4 L1006.5 1522 L1006.5 1522 L1006.8 1521.4 L1007 1520.6 L1007.1 1519.6 L1007.3 1518.6 L1007.4 1517.4 L1007.5 1516.2 L1007.6 1515 L1007.7 1513.8 L1007.7 1512.6 L1007.7 1511.5 L1007.7 1510.4 L1007.7 1509.2 L1007.6 1508 L1007.5 1506.8 L1007.4 1505.6 L1007.3 1504.4 L1007.1 1503.4 L1007 1502.4 L1006.8 1501.6 L1006.5 1501Z" fill="#000" opacity="0.4" filter="url(#b05)"/><path d="M1039.5 1510 L1039.2 1510.7 L1039 1511.6 L1038.9 1512.7 L1038.7 1513.9 L1038.6 1515.2 L1038.5 1516.6 L1038.4 1518 L1038.3 1519.4 L1038.3 1520.7 L1038.3 1522 L1038.3 1523.3 L1038.3 1524.6 L1038.4 1526 L1038.5 1527.4 L1038.6 1528.8 L1038.7 1530.1 L1038.9 1531.3 L1039 1532.4 L1039.2 1533.3 L1039.5 1534 L1039.5 1534 L1039.8 1533.3 L1040 1532.4 L1040.1 1531.3 L1040.3 1530.1 L1040.4 1528.8 L1040.5 1527.4 L1040.6 1526 L1040.7 1524.6 L1040.7 1523.3 L1040.7 1522 L1040.7 1520.7 L1040.7 1519.4 L1040.6 1518 L1040.5 1516.6 L1040.4 1515.2 L1040.3 1513.9 L1040.1 1512.7 L1040 1511.6 L1039.8 1510.7 L1039.5 1510Z" fill="#000" opacity="0.4" filter="url(#b05)"/><path d="M1030.5 1550.5 L1030.2 1551 L1030 1551.6 L1029.8 1552.4 L1029.7 1553.2 L1029.5 1554.1 L1029.4 1555.1 L1029.3 1556 L1029.3 1557 L1029.2 1557.9 L1029.2 1558.8 L1029.2 1559.6 L1029.3 1560.5 L1029.3 1561.5 L1029.4 1562.4 L1029.5 1563.4 L1029.7 1564.3 L1029.8 1565.1 L1030 1565.9 L1030.2 1566.5 L1030.5 1567 L1030.5 1567 L1030.8 1566.5 L1031 1565.9 L1031.2 1565.1 L1031.3 1564.3 L1031.5 1563.4 L1031.6 1562.4 L1031.7 1561.5 L1031.7 1560.5 L1031.8 1559.6 L1031.8 1558.8 L1031.8 1557.9 L1031.7 1557 L1031.7 1556 L1031.6 1555.1 L1031.5 1554.1 L1031.3 1553.2 L1031.2 1552.4 L1031 1551.6 L1030.8 1551 L1030.5 1550.5Z" fill="#000" opacity="0.7" filter="url(#b05)"/><path d="M1051.5 1570 L1051.2 1570.5 L1051 1571.2 L1050.9 1572 L1050.7 1573 L1050.6 1573.9 L1050.5 1575 L1050.4 1576 L1050.3 1577.1 L1050.3 1578.1 L1050.3 1579 L1050.3 1579.9 L1050.3 1580.9 L1050.4 1582 L1050.5 1583 L1050.6 1584.1 L1050.7 1585 L1050.9 1586 L1051 1586.8 L1051.2 1587.5 L1051.5 1588 L1051.5 1588 L1051.8 1587.5 L1052 1586.8 L1052.1 1586 L1052.3 1585 L1052.4 1584.1 L1052.5 1583 L1052.6 1582 L1052.7 1580.9 L1052.7 1579.9 L1052.7 1579 L1052.7 1578.1 L1052.7 1577.1 L1052.6 1576 L1052.5 1575 L1052.4 1573.9 L1052.3 1573 L1052.1 1572 L1052 1571.2 L1051.8 1570.5 L1051.5 1570Z" fill="#000" opacity="0.55" filter="url(#b05)"/><path d="M994.5 1597 L994.2 1597.4 L994 1598 L993.8 1598.7 L993.7 1599.5 L993.5 1600.3 L993.4 1601.1 L993.3 1602 L993.3 1602.9 L993.2 1603.7 L993.2 1604.5 L993.2 1605.3 L993.3 1606.1 L993.3 1607 L993.4 1607.9 L993.5 1608.7 L993.7 1609.5 L993.8 1610.3 L994 1611 L994.2 1611.6 L994.5 1612 L994.5 1612 L994.8 1611.6 L995 1611 L995.2 1610.3 L995.3 1609.5 L995.5 1608.7 L995.6 1607.9 L995.7 1607 L995.7 1606.1 L995.8 1605.3 L995.8 1604.5 L995.8 1603.7 L995.7 1602.9 L995.7 1602 L995.6 1601.1 L995.5 1600.3 L995.3 1599.5 L995.2 1598.7 L995 1598 L994.8 1597.4 L994.5 1597Z" fill="#000" opacity="0.7" filter="url(#b05)"/><path d="M952.5 1552 L952.2 1552.5 L952 1553.2 L951.9 1554 L951.7 1555 L951.6 1555.9 L951.5 1557 L951.4 1558 L951.3 1559.1 L951.3 1560.1 L951.3 1561 L951.3 1561.9 L951.3 1562.9 L951.4 1564 L951.5 1565 L951.6 1566.1 L951.7 1567 L951.9 1568 L952 1568.8 L952.2 1569.5 L952.5 1570 L952.5 1570 L952.8 1569.5 L953 1568.8 L953.1 1568 L953.3 1567 L953.4 1566.1 L953.5 1565 L953.6 1564 L953.7 1562.9 L953.7 1561.9 L953.7 1561 L953.7 1560.1 L953.7 1559.1 L953.6 1558 L953.5 1557 L953.4 1555.9 L953.3 1555 L953.1 1554 L953 1553.2 L952.8 1552.5 L952.5 1552Z" fill="#000" opacity="0.35" filter="url(#b05)"/><path d="M1084.5 1552 L1083.8 1553.3 L1083 1555.1 L1082.2 1557.2 L1081.2 1559.6 L1080.3 1562.2 L1079.3 1564.9 L1078.4 1567.7 L1077.4 1570.4 L1076.6 1573.1 L1075.8 1575.6 L1075 1578.1 L1074.2 1580.8 L1073.4 1583.6 L1072.6 1586.4 L1071.9 1589.2 L1071.2 1591.9 L1070.5 1594.4 L1070 1596.6 L1069.7 1598.5 L1069.5 1600 L1069.5 1600 L1070.2 1598.7 L1071 1596.9 L1071.8 1594.8 L1072.8 1592.4 L1073.7 1589.8 L1074.7 1587.1 L1075.6 1584.3 L1076.6 1581.6 L1077.4 1578.9 L1078.2 1576.4 L1079 1573.9 L1079.8 1571.2 L1080.6 1568.4 L1081.4 1565.6 L1082.1 1562.8 L1082.8 1560.1 L1083.5 1557.6 L1084 1555.4 L1084.3 1553.5 L1084.5 1552Z" fill="#000" opacity="0.75" filter="url(#b05)"/><path d="M1077 1633 L1076.6 1634.7 L1076.3 1636.8 L1075.9 1639.4 L1075.5 1642.3 L1075.1 1645.4 L1074.7 1648.7 L1074.4 1652 L1074 1655.3 L1073.7 1658.4 L1073.5 1661.4 L1073.2 1664.4 L1073 1667.6 L1072.7 1670.9 L1072.5 1674.2 L1072.3 1677.5 L1072.1 1680.6 L1072 1683.5 L1071.9 1686.1 L1071.9 1688.3 L1072 1690 L1072 1690 L1072.4 1688.3 L1072.7 1686.2 L1073.1 1683.6 L1073.5 1680.7 L1073.9 1677.6 L1074.3 1674.3 L1074.6 1671 L1075 1667.7 L1075.3 1664.6 L1075.5 1661.6 L1075.8 1658.6 L1076 1655.4 L1076.3 1652.1 L1076.5 1648.8 L1076.7 1645.5 L1076.9 1642.4 L1077 1639.5 L1077.1 1636.9 L1077.1 1634.7 L1077 1633Z" fill="#000" opacity="0.4" filter="url(#b05)"/><path d="M1071.5 1687 L1071.2 1688 L1070.9 1689.4 L1070.7 1690.9 L1070.5 1692.7 L1070.3 1694.6 L1070.1 1696.6 L1070 1698.7 L1069.9 1700.7 L1069.8 1702.6 L1069.7 1704.5 L1069.7 1706.3 L1069.7 1708.2 L1069.7 1710.3 L1069.7 1712.3 L1069.7 1714.3 L1069.8 1716.2 L1069.9 1718 L1070.1 1719.6 L1070.2 1720.9 L1070.5 1722 L1070.5 1722 L1070.8 1721 L1071.1 1719.6 L1071.3 1718.1 L1071.5 1716.3 L1071.7 1714.4 L1071.9 1712.4 L1072 1710.3 L1072.1 1708.3 L1072.2 1706.4 L1072.3 1704.5 L1072.3 1702.7 L1072.3 1700.8 L1072.3 1698.7 L1072.3 1696.7 L1072.3 1694.7 L1072.2 1692.8 L1072.1 1691 L1071.9 1689.4 L1071.8 1688.1 L1071.5 1687Z" fill="#000" opacity="0.75" filter="url(#b05)"/><path d="M1067 1790 L1066.6 1791.5 L1066.3 1793.5 L1065.9 1795.8 L1065.6 1798.5 L1065.3 1801.3 L1064.9 1804.3 L1064.7 1807.3 L1064.4 1810.3 L1064.2 1813.2 L1064 1815.9 L1063.8 1818.6 L1063.6 1821.5 L1063.5 1824.5 L1063.4 1827.6 L1063.3 1830.6 L1063.2 1833.4 L1063.2 1836.1 L1063.2 1838.4 L1063.3 1840.4 L1063.5 1842 L1063.5 1842 L1063.9 1840.5 L1064.2 1838.5 L1064.6 1836.2 L1064.9 1833.5 L1065.2 1830.7 L1065.6 1827.7 L1065.8 1824.7 L1066.1 1821.7 L1066.3 1818.8 L1066.5 1816.1 L1066.7 1813.4 L1066.9 1810.5 L1067 1807.5 L1067.1 1804.4 L1067.2 1801.4 L1067.3 1798.6 L1067.3 1795.9 L1067.3 1793.6 L1067.2 1791.6 L1067 1790Z" fill="#000" opacity="0.6" filter="url(#b05)"/><path d="M1059 1825 L1058.7 1825.3 L1058.4 1825.7 L1058.3 1826.2 L1058.1 1826.8 L1057.9 1827.4 L1057.8 1828 L1057.7 1828.7 L1057.6 1829.3 L1057.6 1829.9 L1057.6 1830.5 L1057.6 1831.1 L1057.6 1831.7 L1057.7 1832.3 L1057.8 1833 L1057.9 1833.6 L1058.1 1834.2 L1058.3 1834.8 L1058.4 1835.3 L1058.7 1835.7 L1059 1836 L1059 1836 L1059.3 1835.7 L1059.6 1835.3 L1059.7 1834.8 L1059.9 1834.2 L1060.1 1833.6 L1060.2 1833 L1060.3 1832.3 L1060.4 1831.7 L1060.4 1831.1 L1060.4 1830.5 L1060.4 1829.9 L1060.4 1829.3 L1060.3 1828.7 L1060.2 1828 L1060.1 1827.4 L1059.9 1826.8 L1059.7 1826.2 L1059.6 1825.7 L1059.3 1825.3 L1059 1825Z" fill="#000" opacity="0.6" filter="url(#b05)"/><path d="M1053 1852 L1052.7 1852.5 L1052.5 1853.1 L1052.3 1853.8 L1052.1 1854.6 L1051.9 1855.4 L1051.7 1856.4 L1051.6 1857.3 L1051.5 1858.2 L1051.4 1859.1 L1051.3 1859.9 L1051.3 1860.8 L1051.2 1861.7 L1051.2 1862.6 L1051.3 1863.5 L1051.3 1864.4 L1051.4 1865.3 L1051.5 1866.1 L1051.6 1866.9 L1051.7 1867.5 L1052 1868 L1052 1868 L1052.3 1867.5 L1052.5 1866.9 L1052.7 1866.2 L1052.9 1865.4 L1053.1 1864.6 L1053.3 1863.6 L1053.4 1862.7 L1053.5 1861.8 L1053.6 1860.9 L1053.7 1860.1 L1053.7 1859.2 L1053.8 1858.3 L1053.8 1857.4 L1053.7 1856.5 L1053.7 1855.6 L1053.6 1854.7 L1053.5 1853.9 L1053.4 1853.1 L1053.3 1852.5 L1053 1852Z" fill="#000" opacity="0.5" filter="url(#b05)"/><path d="M1048 1862 L1047.6 1862.4 L1047.3 1862.9 L1047 1863.5 L1046.8 1864.2 L1046.5 1864.9 L1046.3 1865.7 L1046.1 1866.5 L1045.9 1867.3 L1045.7 1868.1 L1045.6 1868.8 L1045.5 1869.5 L1045.4 1870.3 L1045.4 1871.1 L1045.4 1872 L1045.4 1872.8 L1045.4 1873.6 L1045.5 1874.3 L1045.6 1875 L1045.7 1875.5 L1046 1876 L1046 1876 L1046.4 1875.6 L1046.7 1875.1 L1047 1874.5 L1047.2 1873.8 L1047.5 1873.1 L1047.7 1872.3 L1047.9 1871.5 L1048.1 1870.7 L1048.3 1869.9 L1048.4 1869.2 L1048.5 1868.5 L1048.6 1867.7 L1048.6 1866.9 L1048.6 1866 L1048.6 1865.2 L1048.6 1864.4 L1048.5 1863.7 L1048.4 1863 L1048.3 1862.5 L1048 1862Z" fill="#000" opacity="0.6" filter="url(#b05)"/><ellipse transform="translate(1057.5 1655.5) rotate(0)" rx="2.2" ry="2.8" fill="#000" opacity="0.9" filter="url(#b05)"/><path d="M966 1651 L965.7 1651.5 L965.5 1652.2 L965.4 1653 L965.2 1654 L965.1 1654.9 L965 1656 L964.9 1657 L964.8 1658.1 L964.8 1659.1 L964.8 1660 L964.8 1660.9 L964.8 1661.9 L964.9 1663 L965 1664 L965.1 1665.1 L965.2 1666 L965.4 1667 L965.5 1667.8 L965.7 1668.5 L966 1669 L966 1669 L966.3 1668.5 L966.5 1667.8 L966.6 1667 L966.8 1666 L966.9 1665.1 L967 1664 L967.1 1663 L967.2 1661.9 L967.2 1660.9 L967.2 1660 L967.2 1659.1 L967.2 1658.1 L967.1 1657 L967 1656 L966.9 1654.9 L966.8 1654 L966.6 1653 L966.5 1652.2 L966.3 1651.5 L966 1651Z" fill="#000" opacity="0.35" filter="url(#b05)"/><path d="M796.5 1723 L796.2 1723.5 L796 1724.2 L795.8 1725 L795.7 1726 L795.5 1726.9 L795.4 1728 L795.3 1729 L795.3 1730.1 L795.2 1731.1 L795.2 1732 L795.2 1732.9 L795.3 1733.9 L795.3 1735 L795.4 1736 L795.5 1737.1 L795.7 1738 L795.8 1739 L796 1739.8 L796.2 1740.5 L796.5 1741 L796.5 1741 L796.8 1740.5 L797 1739.8 L797.2 1739 L797.3 1738 L797.5 1737.1 L797.6 1736 L797.7 1735 L797.7 1733.9 L797.8 1732.9 L797.8 1732 L797.8 1731.1 L797.7 1730.1 L797.7 1729 L797.6 1728 L797.5 1726.9 L797.3 1726 L797.2 1725 L797 1724.2 L796.8 1723.5 L796.5 1723Z" fill="#000" opacity="0.75" filter="url(#b05)"/><path d="M784.5 1753 L784.2 1753.3 L784 1753.6 L783.8 1754 L783.7 1754.5 L783.5 1755 L783.4 1755.5 L783.3 1756 L783.3 1756.5 L783.2 1757 L783.2 1757.5 L783.2 1758 L783.3 1758.5 L783.3 1759 L783.4 1759.5 L783.5 1760 L783.7 1760.5 L783.8 1761 L784 1761.4 L784.2 1761.7 L784.5 1762 L784.5 1762 L784.8 1761.7 L785 1761.4 L785.2 1761 L785.3 1760.5 L785.5 1760 L785.6 1759.5 L785.7 1759 L785.7 1758.5 L785.8 1758 L785.8 1757.5 L785.8 1757 L785.7 1756.5 L785.7 1756 L785.6 1755.5 L785.5 1755 L785.3 1754.5 L785.2 1754 L785 1753.6 L784.8 1753.3 L784.5 1753Z" fill="#000" opacity="0.7" filter="url(#b05)"/><path d="M1036 1771 L1035.6 1771.8 L1035.4 1772.8 L1035.2 1774.1 L1035 1775.4 L1034.8 1776.9 L1034.7 1778.5 L1034.6 1780 L1034.5 1781.6 L1034.5 1783.1 L1034.5 1784.5 L1034.5 1785.9 L1034.5 1787.4 L1034.6 1789 L1034.7 1790.5 L1034.8 1792.1 L1035 1793.6 L1035.2 1794.9 L1035.4 1796.2 L1035.6 1797.2 L1036 1798 L1036 1798 L1036.4 1797.2 L1036.6 1796.2 L1036.8 1794.9 L1037 1793.6 L1037.2 1792.1 L1037.3 1790.5 L1037.4 1789 L1037.5 1787.4 L1037.5 1785.9 L1037.5 1784.5 L1037.5 1783.1 L1037.5 1781.6 L1037.4 1780 L1037.3 1778.5 L1037.2 1776.9 L1037 1775.4 L1036.8 1774.1 L1036.6 1772.8 L1036.4 1771.8 L1036 1771Z" fill="#000" opacity="0.85" filter="url(#b05)"/><path d="M889.5 1777 L889 1777.8 L888.6 1779 L888.3 1780.3 L887.9 1781.8 L887.5 1783.4 L887.1 1785.1 L886.7 1786.8 L886.4 1788.6 L886.1 1790.2 L885.9 1791.8 L885.6 1793.4 L885.4 1795 L885.2 1796.8 L885.1 1798.5 L884.9 1800.3 L884.8 1801.9 L884.8 1803.5 L884.8 1804.9 L884.8 1806.1 L885 1807 L885 1807 L885.5 1806.2 L885.9 1805 L886.2 1803.7 L886.6 1802.2 L887 1800.6 L887.4 1798.9 L887.8 1797.2 L888.1 1795.4 L888.4 1793.8 L888.6 1792.2 L888.9 1790.6 L889.1 1789 L889.3 1787.2 L889.4 1785.5 L889.6 1783.7 L889.7 1782.1 L889.7 1780.5 L889.7 1779.1 L889.7 1777.9 L889.5 1777Z" fill="#000" opacity="0.5" filter="url(#b05)"/><path d="M789.6 1810 L789.3 1810.7 L789.1 1811.6 L789 1812.7 L788.8 1813.9 L788.7 1815.2 L788.6 1816.6 L788.5 1818 L788.4 1819.4 L788.4 1820.7 L788.4 1822 L788.4 1823.3 L788.4 1824.6 L788.5 1826 L788.6 1827.4 L788.7 1828.8 L788.8 1830.1 L789 1831.3 L789.1 1832.4 L789.3 1833.3 L789.6 1834 L789.6 1834 L789.9 1833.3 L790.1 1832.4 L790.2 1831.3 L790.4 1830.1 L790.5 1828.8 L790.6 1827.4 L790.7 1826 L790.8 1824.6 L790.8 1823.3 L790.8 1822 L790.8 1820.7 L790.8 1819.4 L790.7 1818 L790.6 1816.6 L790.5 1815.2 L790.4 1813.9 L790.2 1812.7 L790.1 1811.6 L789.9 1810.7 L789.6 1810Z" fill="#000" opacity="0.4" filter="url(#b05)"/><ellipse transform="translate(812.4 1820) rotate(0)" rx="1.8" ry="3" fill="#000" opacity="0.6" filter="url(#b05)"/><path d="M829.5 1852 L829.2 1852.7 L829 1853.6 L829 1854.7 L828.9 1855.9 L828.9 1857.2 L828.9 1858.5 L829 1859.9 L829.1 1861.2 L829.2 1862.5 L829.3 1863.7 L829.5 1864.9 L829.7 1866.2 L830 1867.5 L830.3 1868.8 L830.6 1870.1 L830.9 1871.4 L831.3 1872.5 L831.6 1873.5 L832 1874.4 L832.5 1875 L832.5 1875 L832.8 1874.3 L833 1873.4 L833 1872.3 L833.1 1871.1 L833.1 1869.8 L833.1 1868.5 L833 1867.1 L832.9 1865.8 L832.8 1864.5 L832.7 1863.3 L832.5 1862.1 L832.3 1860.8 L832 1859.5 L831.7 1858.2 L831.4 1856.9 L831.1 1855.6 L830.7 1854.5 L830.4 1853.5 L830 1852.6 L829.5 1852Z" fill="#000" opacity="0.8" filter="url(#b05)"/><path d="M896.4 1852 L896.1 1852.7 L895.8 1853.6 L895.6 1854.7 L895.5 1855.9 L895.3 1857.2 L895.2 1858.6 L895.1 1860 L895 1861.4 L895 1862.7 L895 1864 L895 1865.3 L895 1866.6 L895.1 1868 L895.2 1869.4 L895.3 1870.8 L895.5 1872.1 L895.6 1873.3 L895.8 1874.4 L896.1 1875.3 L896.4 1876 L896.4 1876 L896.7 1875.3 L897 1874.4 L897.2 1873.3 L897.3 1872.1 L897.5 1870.8 L897.6 1869.4 L897.7 1868 L897.8 1866.6 L897.8 1865.3 L897.8 1864 L897.8 1862.7 L897.8 1861.4 L897.7 1860 L897.6 1858.6 L897.5 1857.2 L897.3 1855.9 L897.2 1854.7 L897 1853.6 L896.7 1852.7 L896.4 1852Z" fill="#000" opacity="0.8" filter="url(#b05)"/><path d="M984 1834 L983.7 1835.1 L983.5 1836.4 L983.4 1838.1 L983.2 1839.9 L983.1 1841.9 L983 1843.9 L982.9 1846 L982.8 1848.1 L982.8 1850.1 L982.8 1852 L982.8 1853.9 L982.8 1855.9 L982.9 1858 L983 1860.1 L983.1 1862.1 L983.2 1864.1 L983.4 1865.9 L983.5 1867.6 L983.7 1868.9 L984 1870 L984 1870 L984.3 1868.9 L984.5 1867.6 L984.6 1865.9 L984.8 1864.1 L984.9 1862.1 L985 1860.1 L985.1 1858 L985.2 1855.9 L985.2 1853.9 L985.2 1852 L985.2 1850.1 L985.2 1848.1 L985.1 1846 L985 1843.9 L984.9 1841.9 L984.8 1839.9 L984.6 1838.1 L984.5 1836.4 L984.3 1835.1 L984 1834Z" fill="#000" opacity="0.45" filter="url(#b05)"/>
<rect x="775" y="1472.1" width="399.3" height="404.3" fill="url(#hl3)"/>
<rect x="775" y="1472.1" width="399.3" height="404.3" fill="url(#vl3)"/>
<path d="M834.8 1472.1v404.3" stroke="#fff" stroke-width="2.2" opacity="0.25" fill="none"/>
<path d="M1098.2 1472.1v404.3M1102.7 1472.1v404.3M1162.5 1472.1v404.3" stroke="#fff" stroke-width="2.2" opacity="0.2" fill="none"/>
<path d="M788.3 1472.1v404.3M790.5 1472.1v404.3M839.2 1472.1v404.3M998.6 1472.1v404.3M1054 1472.1v404.3M1100.5 1472.1v404.3M1104.9 1472.1v404.3M1155.8 1472.1v404.3M1158 1472.1v404.3M1164.7 1472.1v404.3M1166.9 1472.1v404.3" stroke="#fff" stroke-width="2.2" opacity="0.15" fill="none"/>
<path d="M794.9 1472.1v404.3M958.8 1472.1v404.3M1003 1472.1v404.3M1089.4 1472.1v404.3M1093.8 1472.1v404.3M1096 1472.1v404.3M1129.2 1472.1v404.3" stroke="#fff" stroke-width="2.2" opacity="0.1" fill="none"/>
<path d="M777.2 1472.1v404.3M779.4 1472.1v404.3M781.6 1472.1v404.3M825.9 1472.1v404.3M828.1 1472.1v404.3M832.6 1472.1v404.3M837 1472.1v404.3M865.8 1472.1v404.3M870.2 1472.1v404.3M892.3 1472.1v404.3M905.6 1472.1v404.3M943.3 1472.1v404.3M961 1472.1v404.3M967.6 1472.1v404.3M969.8 1472.1v404.3M976.5 1472.1v404.3M994.2 1472.1v404.3M996.4 1472.1v404.3M1000.8 1472.1v404.3M1005.3 1472.1v404.3M1009.7 1472.1v404.3M1011.9 1472.1v404.3M1014.1 1472.1v404.3M1042.9 1472.1v404.3M1056.2 1472.1v404.3M1091.6 1472.1v404.3M1153.6 1472.1v404.3M1169.1 1472.1v404.3" stroke="#fff" stroke-width="2.2" opacity="0.05" fill="none"/>
<path d="M775 1472.1v404.3M808.2 1472.1v404.3M812.6 1472.1v404.3M819.3 1472.1v404.3M845.8 1472.1v404.3M854.7 1472.1v404.3M856.9 1472.1v404.3M859.1 1472.1v404.3M881.3 1472.1v404.3M894.6 1472.1v404.3M896.8 1472.1v404.3M899 1472.1v404.3M901.2 1472.1v404.3M907.8 1472.1v404.3M916.7 1472.1v404.3M918.9 1472.1v404.3M927.8 1472.1v404.3M941 1472.1v404.3M956.5 1472.1v404.3M972 1472.1v404.3M974.3 1472.1v404.3M987.5 1472.1v404.3M992 1472.1v404.3M1007.5 1472.1v404.3M1018.5 1472.1v404.3M1020.8 1472.1v404.3M1025.2 1472.1v404.3M1034 1472.1v404.3M1038.5 1472.1v404.3M1045.1 1472.1v404.3M1067.2 1472.1v404.3M1069.5 1472.1v404.3M1078.3 1472.1v404.3M1085 1472.1v404.3M1107.1 1472.1v404.3M1111.5 1472.1v404.3M1118.2 1472.1v404.3M1127 1472.1v404.3M1135.9 1472.1v404.3M1140.3 1472.1v404.3" stroke="#000" stroke-width="2.2" opacity="0.05" fill="none"/>
<path d="M797.1 1472.1v404.3M861.3 1472.1v404.3M868 1472.1v404.3M874.6 1472.1v404.3M876.8 1472.1v404.3M912.3 1472.1v404.3M938.8 1472.1v404.3M945.5 1472.1v404.3M983.1 1472.1v404.3M985.3 1472.1v404.3M1016.3 1472.1v404.3M1029.6 1472.1v404.3M1031.8 1472.1v404.3M1036.3 1472.1v404.3M1040.7 1472.1v404.3M1113.7 1472.1v404.3M1124.8 1472.1v404.3M1160.2 1472.1v404.3M1173.5 1472.1v404.3" stroke="#000" stroke-width="2.2" opacity="0.1" fill="none"/>
<path d="M792.7 1472.1v404.3M803.8 1472.1v404.3M817.1 1472.1v404.3M921.1 1472.1v404.3M923.3 1472.1v404.3M925.6 1472.1v404.3M930 1472.1v404.3M934.4 1472.1v404.3M980.9 1472.1v404.3M1120.4 1472.1v404.3M1122.6 1472.1v404.3M1138.1 1472.1v404.3M1175.7 1472.1v404.3" stroke="#000" stroke-width="2.2" opacity="0.15" fill="none"/>
<path d="M810.4 1472.1v404.3M848.1 1472.1v404.3M1071.7 1472.1v404.3M1116 1472.1v404.3M1149.2 1472.1v404.3" stroke="#000" stroke-width="2.2" opacity="0.2" fill="none"/>
<path d="M801.6 1472.1v404.3M914.5 1472.1v404.3M936.6 1472.1v404.3M952.1 1472.1v404.3M1080.5 1472.1v404.3" stroke="#000" stroke-width="2.2" opacity="0.25" fill="none"/>
<path d="M814.9 1472.1v404.3M1073.9 1472.1v404.3" stroke="#000" stroke-width="2.2" opacity="0.3" fill="none"/>
<path d="M932.2 1472.1v404.3" stroke="#000" stroke-width="2.2" opacity="0.35" fill="none"/>
<rect x="867.6" y="1472.1" width="1.8" height="404.3" fill="#000" opacity="0.7"/>
<rect x="1007.1" y="1472.1" width="1.8" height="404.3" fill="#000" opacity="0.7"/>
<rect x="1146.6" y="1472.1" width="1.8" height="404.3" fill="#000" opacity="0.7"/>
<rect x="1056.6" y="1472.1" width="1.8" height="404.3" fill="#000" opacity="0.6"/>
<rect x="816.6" y="1472.1" width="1.8" height="404.3" fill="#000" opacity="0.45"/>
<rect x="917.1" y="1472.1" width="1.8" height="404.3" fill="#000" opacity="0.45"/>
<rect x="903.6" y="1472.1" width="1.8" height="404.3" fill="#000" opacity="0.4"/>
<rect x="965.1" y="1472.1" width="1.8" height="404.3" fill="#000" opacity="0.4"/>
<rect x="782.1" y="1472.1" width="1.8" height="404.3" fill="#000" opacity="0.35"/>
<rect x="1092.1" y="1472.1" width="1.8" height="404.3" fill="#000" opacity="0.35"/>
<rect x="839.1" y="1472.1" width="1.8" height="404.3" fill="#000" opacity="0.25"/>
<rect x="939.1" y="1472.1" width="1.8" height="404.3" fill="#000" opacity="0.25"/>
<rect x="1029.1" y="1472.1" width="1.8" height="404.3" fill="#000" opacity="0.25"/>
<rect x="1119.1" y="1472.1" width="1.8" height="404.3" fill="#000" opacity="0.3"/>
<rect x="1164.1" y="1472.1" width="1.8" height="404.3" fill="#000" opacity="0.25"/>
<rect x="775" y="1528.7" width="399.3" height="1.74" fill="#000" opacity="0.57"/>
<rect x="775" y="1611" width="399.3" height="1.74" fill="#000" opacity="0.6174999999999999"/>
<rect x="775" y="1734.4" width="399.3" height="1.74" fill="#000" opacity="0.6174999999999999"/>
<rect x="775" y="1812.1" width="399.3" height="1.74" fill="#000" opacity="0.57"/>
<rect x="775" y="1848.6" width="399.3" height="1.74" fill="#000" opacity="0.5225"/>
<rect x="775" y="1501.3" width="399.3" height="1.74" fill="#000" opacity="0.33249999999999996"/>
<rect x="775" y="1725.2" width="399.3" height="1.74" fill="#000" opacity="0.33249999999999996"/>
<rect x="775" y="1807.5" width="399.3" height="1.74" fill="#000" opacity="0.285"/>
<rect x="775" y="1569.9" width="399.3" height="1.74" fill="#000" opacity="0.1425"/>
<rect x="775" y="1679.5" width="399.3" height="1.74" fill="#000" opacity="0.1425"/>
<rect x="775" y="1472.1" width="399.3" height="1.6" fill="#000" opacity="0.35"/>
<rect x="775" y="1472.1" width="1.4" height="404.3" fill="#000" opacity="0.3"/>
</g>
<line x1="773" y1="1880.9" x2="1186" y2="1880.9" stroke="#8a8a8a" stroke-width="1.6"/>
<rect x="772.8" y="1472.1" width="2.3" height="408.8" fill="#a0a0a0"/>
<line x1="884.3" y1="1880.9" x2="884.3" y2="1876.9" stroke="#777" stroke-width="1.2"/>
<line x1="995" y1="1880.9" x2="995" y2="1876.9" stroke="#777" stroke-width="1.2"/>
<line x1="1105.7" y1="1880.9" x2="1105.7" y2="1876.9" stroke="#777" stroke-width="1.2"/>
<text class="sa" x="773.3" y="1904.9" text-anchor="middle" font-size="16.8" fill="#555">0</text>
<text class="sa" x="884" y="1904.9" text-anchor="middle" font-size="16.8" fill="#555">50</text>
<text class="sa" x="994.7" y="1904.9" text-anchor="middle" font-size="16.8" fill="#555">100</text>
<text class="sa" x="1105.4" y="1904.9" text-anchor="middle" font-size="16.8" fill="#555">150</text>
<text class="sa" x="767.6" y="1888.2" text-anchor="end" font-size="16.8" fill="#555">0</text>
<text class="sa" x="767.6" y="1842.9" text-anchor="end" font-size="16.8" fill="#555">10</text>
<text class="sa" x="767.6" y="1797.6" text-anchor="end" font-size="16.8" fill="#555">20</text>
<text class="sa" x="767.6" y="1752.2" text-anchor="end" font-size="16.8" fill="#555">30</text>
<text class="sa" x="767.6" y="1706.9" text-anchor="end" font-size="16.8" fill="#555">40</text>
<text class="sa" x="767.6" y="1661.6" text-anchor="end" font-size="16.8" fill="#555">50</text>
<text class="sa" x="767.6" y="1616.3" text-anchor="end" font-size="16.8" fill="#555">60</text>
<text class="sa" x="767.6" y="1570.9" text-anchor="end" font-size="16.8" fill="#555">70</text>
<text class="sa" x="767.6" y="1525.6" text-anchor="end" font-size="16.8" fill="#555">80</text>
<text class="sa" x="767.6" y="1480.3" text-anchor="end" font-size="16.8" fill="#555">90</text>
<text class="sb" transform="translate(725.5 1656) rotate(-90)" text-anchor="middle" font-size="36" fill="#000">Phi (Φ°)</text>
<text class="sb" transform="translate(965 1936) scale(1.045 1)" text-anchor="middle" font-size="34.5" fill="#000">Theta (θ°)</text>
<text class="sb" x="1294" y="1677.5" text-anchor="middle" font-size="64" fill="#000">10 GHz</text>
<text class="sr" x="422" y="1970" text-anchor="middle" font-size="26" fill="#111">(a)</text>
<text class="sr" x="972" y="1970" text-anchor="middle" font-size="26" fill="#111">(b)</text>
</svg></body></html>
